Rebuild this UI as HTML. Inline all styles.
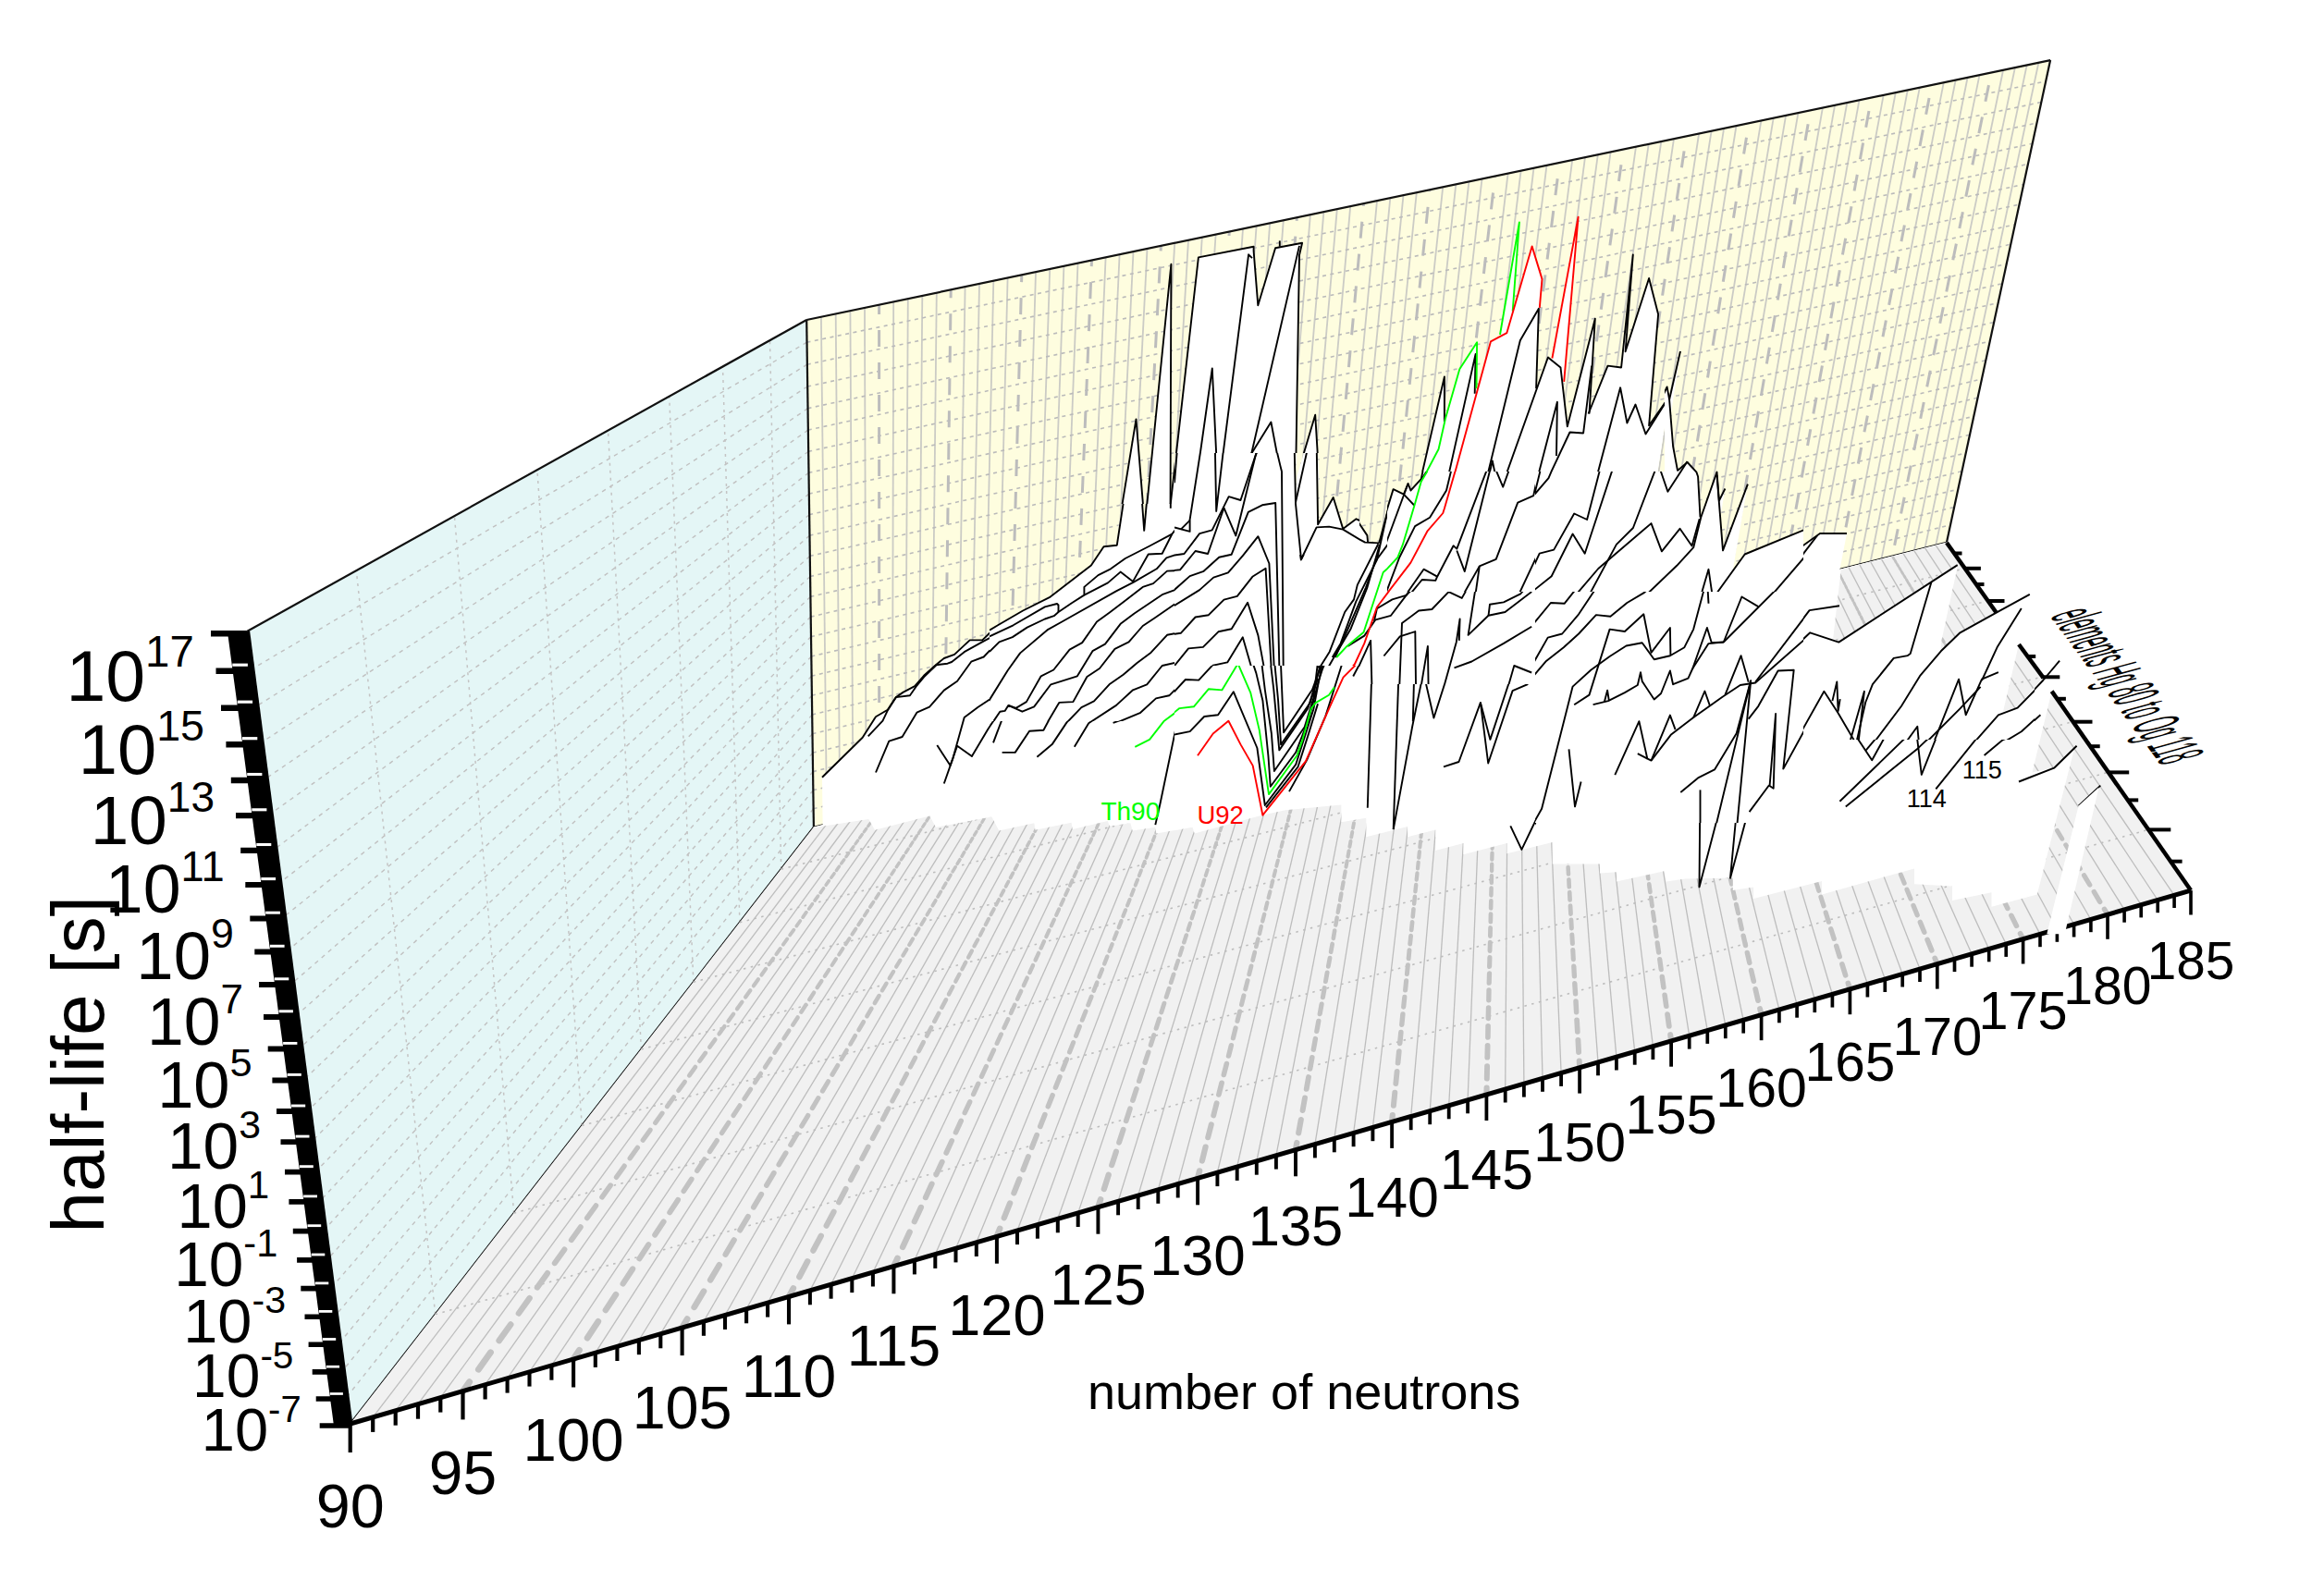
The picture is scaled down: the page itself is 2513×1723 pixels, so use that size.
<!DOCTYPE html>
<html><head><meta charset="utf-8"><style>
html,body{margin:0;padding:0;background:#fff;}
svg{display:block;font-family:"Liberation Sans",sans-serif;}
</style></head><body>
<svg width="2513" height="1723" viewBox="0 0 2513 1723">
<defs><clipPath id="c0"><rect x="880" y="540" width="190" height="470"/></clipPath><clipPath id="f0"><rect x="880" y="540" width="190" height="472"/></clipPath><clipPath id="c1"><rect x="1070" y="545" width="200" height="235"/></clipPath><clipPath id="f1"><rect x="1070" y="545" width="200" height="467"/></clipPath><clipPath id="c2"><rect x="1070" y="780" width="200" height="230"/></clipPath><clipPath id="f2"><rect x="1070" y="780" width="200" height="232"/></clipPath><clipPath id="c3"><rect x="1070" y="760" width="200" height="250"/></clipPath><clipPath id="f3"><rect x="1070" y="760" width="200" height="252"/></clipPath><clipPath id="c4"><rect x="1270" y="490" width="200" height="230"/></clipPath><clipPath id="f4"><rect x="1270" y="490" width="200" height="522"/></clipPath><clipPath id="c5"><rect x="1270" y="720" width="200" height="290"/></clipPath><clipPath id="f5"><rect x="1270" y="720" width="200" height="292"/></clipPath><clipPath id="c6"><rect x="1270" y="720" width="200" height="290"/></clipPath><clipPath id="f6"><rect x="1270" y="720" width="200" height="292"/></clipPath><clipPath id="c7"><rect x="1270" y="720" width="200" height="290"/></clipPath><clipPath id="f7"><rect x="1270" y="720" width="200" height="292"/></clipPath><clipPath id="c8"><rect x="1100" y="220" width="360" height="270"/><rect x="1100" y="490" width="170" height="55"/></clipPath><clipPath id="f8"><rect x="1100" y="220" width="360" height="792"/><rect x="1100" y="490" width="170" height="522"/></clipPath><clipPath id="c9"><rect x="1460" y="220" width="340" height="290"/></clipPath><clipPath id="f9"><rect x="1460" y="220" width="340" height="792"/></clipPath><clipPath id="c10"><rect x="1460" y="220" width="340" height="290"/></clipPath><clipPath id="f10"><rect x="1460" y="220" width="340" height="792"/></clipPath><clipPath id="c11"><rect x="1460" y="220" width="340" height="290"/></clipPath><clipPath id="f11"><rect x="1460" y="220" width="340" height="792"/></clipPath><clipPath id="c12"><rect x="1500" y="510" width="160" height="130"/></clipPath><clipPath id="f12"><rect x="1500" y="510" width="160" height="502"/></clipPath><clipPath id="c13"><rect x="1500" y="510" width="160" height="130"/></clipPath><clipPath id="f13"><rect x="1500" y="510" width="160" height="502"/></clipPath><clipPath id="c14"><rect x="1500" y="510" width="160" height="130"/></clipPath><clipPath id="f14"><rect x="1500" y="510" width="160" height="502"/></clipPath><clipPath id="c15"><rect x="1470" y="640" width="190" height="100"/><rect x="1470" y="510" width="30" height="130"/><rect x="1400" y="600" width="70" height="120"/></clipPath><clipPath id="f15"><rect x="1470" y="640" width="190" height="372"/><rect x="1470" y="510" width="30" height="502"/><rect x="1400" y="600" width="70" height="412"/></clipPath><clipPath id="c16"><rect x="1470" y="640" width="190" height="100"/><rect x="1470" y="510" width="30" height="130"/><rect x="1400" y="600" width="70" height="120"/></clipPath><clipPath id="f16"><rect x="1470" y="640" width="190" height="372"/><rect x="1470" y="510" width="30" height="502"/><rect x="1400" y="600" width="70" height="412"/></clipPath><clipPath id="c17"><rect x="1470" y="640" width="190" height="100"/><rect x="1470" y="510" width="30" height="130"/><rect x="1400" y="600" width="70" height="120"/></clipPath><clipPath id="f17"><rect x="1470" y="640" width="190" height="372"/><rect x="1470" y="510" width="30" height="502"/><rect x="1400" y="600" width="70" height="412"/></clipPath><clipPath id="c18"><rect x="1800" y="380" width="150" height="130"/><rect x="1660" y="510" width="290" height="130"/></clipPath><clipPath id="f18"><rect x="1800" y="380" width="150" height="632"/><rect x="1660" y="510" width="290" height="502"/></clipPath><clipPath id="c19"><rect x="1660" y="640" width="290" height="250"/></clipPath><clipPath id="f19"><rect x="1660" y="640" width="290" height="372"/></clipPath><clipPath id="c20"><rect x="1470" y="740" width="190" height="270"/></clipPath><clipPath id="f20"><rect x="1470" y="740" width="190" height="272"/></clipPath><clipPath id="c21"><rect x="1660" y="890" width="300" height="120"/></clipPath><clipPath id="f21"><rect x="1660" y="890" width="300" height="122"/></clipPath><clipPath id="c22"><rect x="1950" y="580" width="250" height="220"/></clipPath><clipPath id="f22"><rect x="1950" y="580" width="250" height="432"/></clipPath><clipPath id="c23"><rect x="1950" y="800" width="350" height="210"/></clipPath><clipPath id="f23"><rect x="1950" y="800" width="350" height="212"/></clipPath><clipPath id="c24"><rect x="2200" y="580" width="130" height="220"/></clipPath><clipPath id="f24"><rect x="2200" y="580" width="130" height="432"/></clipPath><clipPath id="c25"><rect x="2240" y="840" width="40" height="40"/></clipPath><clipPath id="f25"><rect x="2240" y="840" width="40" height="172"/></clipPath><clipPath id="c26"><rect x="1950" y="560" width="50" height="40"/></clipPath><clipPath id="f26"><rect x="1950" y="560" width="50" height="452"/></clipPath><clipPath id="floorvis"><polygon points="870.0,897.0 889.0,893.7 939.3,885.9 946.0,897.7 1005.3,882.5 1012.0,894.8 1072.4,883.6 1080.3,898.6 1118.3,890.3 1119.4,897.7 1158.6,889.7 1159.7,897.1 1197.7,888.1 1200.0,893.7 1222.4,890.3 1224.6,898.6 1249.2,894.8 1250.3,901.5 1289.5,894.8 1291.7,901.5 1365.6,881.4 1390.0,876.2 1450.4,870.6 1450.4,889.2 1477.3,884.7 1477.3,905.3 1522.0,894.1 1522.0,905.3 1552.2,897.5 1552.2,919.9 1582.4,912.0 1582.4,924.3 1629.4,912.0 1629.4,923.2 1678.7,910.9 1678.7,934.4 1730.0,934.4 1730.0,944.5 1748.0,943.3 1748.0,953.4 1799.5,942.2 1801.7,953.4 1822.4,950.6 1873.8,949.5 1873.8,962.9 1896.2,959.6 1896.2,971.9 1970.1,952.9 1970.1,967.4 2070.0,939.4 2070.0,956.2 2111.0,958.5 2111.0,974.1 2153.5,965.2 2153.5,980.8 2202.8,967.4 2243.2,809.1 2222.1,830.2 2197.5,835.5 2218.6,747.6 2450.0,700.0 2450.0,1650.0 300.0,1650.0 300.0,897.0"/><polygon points="2183.0,697.0 2209.2,732.6 2181.7,765.2 2166.0,769.6"/><polygon points="1990.5,615.1 2105.2,586.6 2158.4,662.2 2120.6,683.7 2098.6,703.9 2099.1,694.2 2115.8,616.9 2116.2,610.9 1988.8,695.3 1982.2,690.7 1990.5,617.8"/></clipPath></defs>
<rect width="2513" height="1723" fill="#fff"/>
<polygon points="879.9,894.7 378.7,1540.0 267.4,682.8 872.2,346.0" fill="#e4f6f6"/>
<line x1="879.6" y1="874.8" x2="374.9" y2="1511.1" stroke="#c0c0c0" stroke-width="1.4" stroke-dasharray="4.5,5"/>
<line x1="879.3" y1="854.8" x2="371.1" y2="1481.8" stroke="#c0c0c0" stroke-width="1.4" stroke-dasharray="4.5,5"/>
<line x1="879.1" y1="834.6" x2="367.3" y2="1452.2" stroke="#c0c0c0" stroke-width="1.4" stroke-dasharray="4.5,5"/>
<line x1="878.8" y1="814.2" x2="363.4" y2="1422.1" stroke="#c0c0c0" stroke-width="1.4" stroke-dasharray="4.5,5"/>
<line x1="878.5" y1="793.7" x2="359.4" y2="1391.6" stroke="#c0c0c0" stroke-width="1.4" stroke-dasharray="4.5,5"/>
<line x1="878.2" y1="773.0" x2="355.4" y2="1360.8" stroke="#c0c0c0" stroke-width="1.4" stroke-dasharray="4.5,5"/>
<line x1="877.9" y1="752.2" x2="351.3" y2="1329.5" stroke="#c0c0c0" stroke-width="1.4" stroke-dasharray="4.5,5"/>
<line x1="877.6" y1="731.2" x2="347.2" y2="1297.7" stroke="#c0c0c0" stroke-width="1.4" stroke-dasharray="4.5,5"/>
<line x1="877.3" y1="710.0" x2="343.1" y2="1265.6" stroke="#c0c0c0" stroke-width="1.4" stroke-dasharray="4.5,5"/>
<line x1="877.0" y1="688.6" x2="338.8" y2="1232.9" stroke="#c0c0c0" stroke-width="1.4" stroke-dasharray="4.5,5"/>
<line x1="876.7" y1="667.1" x2="334.5" y2="1199.9" stroke="#c0c0c0" stroke-width="1.4" stroke-dasharray="4.5,5"/>
<line x1="876.4" y1="645.4" x2="330.2" y2="1166.3" stroke="#c0c0c0" stroke-width="1.4" stroke-dasharray="4.5,5"/>
<line x1="876.1" y1="623.5" x2="325.7" y2="1132.3" stroke="#c0c0c0" stroke-width="1.4" stroke-dasharray="4.5,5"/>
<line x1="875.8" y1="601.4" x2="321.3" y2="1097.8" stroke="#c0c0c0" stroke-width="1.4" stroke-dasharray="4.5,5"/>
<line x1="875.5" y1="579.2" x2="316.7" y2="1062.8" stroke="#c0c0c0" stroke-width="1.4" stroke-dasharray="4.5,5"/>
<line x1="875.1" y1="556.7" x2="312.1" y2="1027.3" stroke="#c0c0c0" stroke-width="1.4" stroke-dasharray="4.5,5"/>
<line x1="874.8" y1="534.1" x2="307.4" y2="991.3" stroke="#c0c0c0" stroke-width="1.4" stroke-dasharray="4.5,5"/>
<line x1="874.5" y1="511.3" x2="302.7" y2="954.7" stroke="#c0c0c0" stroke-width="1.4" stroke-dasharray="4.5,5"/>
<line x1="874.2" y1="488.3" x2="297.9" y2="917.6" stroke="#c0c0c0" stroke-width="1.4" stroke-dasharray="4.5,5"/>
<line x1="873.8" y1="465.1" x2="293.0" y2="879.9" stroke="#c0c0c0" stroke-width="1.4" stroke-dasharray="4.5,5"/>
<line x1="873.5" y1="441.7" x2="288.0" y2="841.7" stroke="#c0c0c0" stroke-width="1.4" stroke-dasharray="4.5,5"/>
<line x1="873.2" y1="418.0" x2="283.0" y2="802.9" stroke="#c0c0c0" stroke-width="1.4" stroke-dasharray="4.5,5"/>
<line x1="872.8" y1="394.2" x2="277.8" y2="763.5" stroke="#c0c0c0" stroke-width="1.4" stroke-dasharray="4.5,5"/>
<line x1="872.5" y1="370.2" x2="272.7" y2="723.5" stroke="#c0c0c0" stroke-width="1.4" stroke-dasharray="4.5,5"/>
<line x1="844.7" y1="940.1" x2="832.5" y2="368.1" stroke="#c4c4c4" stroke-width="1.5" stroke-dasharray="3,5"/>
<line x1="799.9" y1="997.7" x2="781.5" y2="396.5" stroke="#c4c4c4" stroke-width="1.5" stroke-dasharray="3,5"/>
<line x1="749.8" y1="1062.2" x2="723.7" y2="428.7" stroke="#c4c4c4" stroke-width="1.5" stroke-dasharray="3,5"/>
<line x1="693.4" y1="1134.9" x2="657.5" y2="465.5" stroke="#c4c4c4" stroke-width="1.5" stroke-dasharray="3,5"/>
<line x1="629.2" y1="1217.4" x2="580.9" y2="508.2" stroke="#c4c4c4" stroke-width="1.5" stroke-dasharray="3,5"/>
<line x1="555.7" y1="1312.1" x2="491.4" y2="558.1" stroke="#c4c4c4" stroke-width="1.5" stroke-dasharray="3,5"/>
<line x1="470.7" y1="1421.6" x2="385.3" y2="617.2" stroke="#c4c4c4" stroke-width="1.5" stroke-dasharray="3,5"/>
<polygon points="879.9,894.7 2104.9,586.9 2217.1,65.1 872.2,346.0" fill="#fefddf"/>
<line x1="894.1" y1="891.1" x2="887.9" y2="342.7" stroke="#cbcbc5" stroke-width="1.8"/>
<line x1="908.3" y1="887.5" x2="903.7" y2="339.4" stroke="#cbcbc5" stroke-width="1.8"/>
<line x1="922.5" y1="884.0" x2="919.4" y2="336.1" stroke="#cbcbc5" stroke-width="1.8"/>
<line x1="936.6" y1="880.4" x2="935.0" y2="332.9" stroke="#cbcbc5" stroke-width="1.8"/>
<line x1="964.8" y1="873.4" x2="966.2" y2="326.3" stroke="#cbcbc5" stroke-width="1.8"/>
<line x1="978.8" y1="869.8" x2="981.8" y2="323.1" stroke="#cbcbc5" stroke-width="1.8"/>
<line x1="992.8" y1="866.3" x2="997.3" y2="319.9" stroke="#cbcbc5" stroke-width="1.8"/>
<line x1="1006.8" y1="862.8" x2="1012.8" y2="316.6" stroke="#cbcbc5" stroke-width="1.8"/>
<line x1="1034.7" y1="855.8" x2="1043.6" y2="310.2" stroke="#cbcbc5" stroke-width="1.8"/>
<line x1="1048.6" y1="852.3" x2="1059.0" y2="307.0" stroke="#cbcbc5" stroke-width="1.8"/>
<line x1="1062.4" y1="848.8" x2="1074.3" y2="303.8" stroke="#cbcbc5" stroke-width="1.8"/>
<line x1="1076.2" y1="845.3" x2="1089.6" y2="300.6" stroke="#cbcbc5" stroke-width="1.8"/>
<line x1="1103.8" y1="838.4" x2="1120.0" y2="294.2" stroke="#cbcbc5" stroke-width="1.8"/>
<line x1="1117.5" y1="835.0" x2="1135.2" y2="291.1" stroke="#cbcbc5" stroke-width="1.8"/>
<line x1="1131.3" y1="831.5" x2="1150.4" y2="287.9" stroke="#cbcbc5" stroke-width="1.8"/>
<line x1="1144.9" y1="828.1" x2="1165.5" y2="284.7" stroke="#cbcbc5" stroke-width="1.8"/>
<line x1="1172.2" y1="821.2" x2="1195.6" y2="278.4" stroke="#cbcbc5" stroke-width="1.8"/>
<line x1="1185.8" y1="817.8" x2="1210.6" y2="275.3" stroke="#cbcbc5" stroke-width="1.8"/>
<line x1="1199.4" y1="814.4" x2="1225.5" y2="272.2" stroke="#cbcbc5" stroke-width="1.8"/>
<line x1="1212.9" y1="811.0" x2="1240.5" y2="269.1" stroke="#cbcbc5" stroke-width="1.8"/>
<line x1="1239.9" y1="804.2" x2="1270.2" y2="262.9" stroke="#cbcbc5" stroke-width="1.8"/>
<line x1="1253.3" y1="800.8" x2="1285.0" y2="259.8" stroke="#cbcbc5" stroke-width="1.8"/>
<line x1="1266.7" y1="797.5" x2="1299.8" y2="256.7" stroke="#cbcbc5" stroke-width="1.8"/>
<line x1="1280.1" y1="794.1" x2="1314.6" y2="253.6" stroke="#cbcbc5" stroke-width="1.8"/>
<line x1="1306.8" y1="787.4" x2="1344.0" y2="247.5" stroke="#cbcbc5" stroke-width="1.8"/>
<line x1="1320.1" y1="784.1" x2="1358.6" y2="244.4" stroke="#cbcbc5" stroke-width="1.8"/>
<line x1="1333.4" y1="780.7" x2="1373.2" y2="241.3" stroke="#cbcbc5" stroke-width="1.8"/>
<line x1="1346.6" y1="777.4" x2="1387.8" y2="238.3" stroke="#cbcbc5" stroke-width="1.8"/>
<line x1="1373.0" y1="770.8" x2="1416.9" y2="232.2" stroke="#cbcbc5" stroke-width="1.8"/>
<line x1="1386.2" y1="767.5" x2="1431.4" y2="229.2" stroke="#cbcbc5" stroke-width="1.8"/>
<line x1="1399.3" y1="764.2" x2="1445.8" y2="226.2" stroke="#cbcbc5" stroke-width="1.8"/>
<line x1="1412.4" y1="760.9" x2="1460.2" y2="223.2" stroke="#cbcbc5" stroke-width="1.8"/>
<line x1="1438.6" y1="754.3" x2="1489.0" y2="217.2" stroke="#cbcbc5" stroke-width="1.8"/>
<line x1="1451.6" y1="751.0" x2="1503.3" y2="214.2" stroke="#cbcbc5" stroke-width="1.8"/>
<line x1="1464.6" y1="747.8" x2="1517.5" y2="211.2" stroke="#cbcbc5" stroke-width="1.8"/>
<line x1="1477.6" y1="744.5" x2="1531.8" y2="208.2" stroke="#cbcbc5" stroke-width="1.8"/>
<line x1="1503.4" y1="738.0" x2="1560.2" y2="202.3" stroke="#cbcbc5" stroke-width="1.8"/>
<line x1="1516.3" y1="734.8" x2="1574.3" y2="199.3" stroke="#cbcbc5" stroke-width="1.8"/>
<line x1="1529.2" y1="731.5" x2="1588.4" y2="196.4" stroke="#cbcbc5" stroke-width="1.8"/>
<line x1="1542.0" y1="728.3" x2="1602.5" y2="193.5" stroke="#cbcbc5" stroke-width="1.8"/>
<line x1="1567.6" y1="721.9" x2="1630.6" y2="187.6" stroke="#cbcbc5" stroke-width="1.8"/>
<line x1="1580.4" y1="718.7" x2="1644.6" y2="184.7" stroke="#cbcbc5" stroke-width="1.8"/>
<line x1="1593.1" y1="715.5" x2="1658.5" y2="181.8" stroke="#cbcbc5" stroke-width="1.8"/>
<line x1="1605.8" y1="712.3" x2="1672.5" y2="178.8" stroke="#cbcbc5" stroke-width="1.8"/>
<line x1="1631.1" y1="705.9" x2="1700.2" y2="173.0" stroke="#cbcbc5" stroke-width="1.8"/>
<line x1="1643.8" y1="702.7" x2="1714.0" y2="170.2" stroke="#cbcbc5" stroke-width="1.8"/>
<line x1="1656.4" y1="699.6" x2="1727.8" y2="167.3" stroke="#cbcbc5" stroke-width="1.8"/>
<line x1="1668.9" y1="696.4" x2="1741.6" y2="164.4" stroke="#cbcbc5" stroke-width="1.8"/>
<line x1="1694.0" y1="690.1" x2="1769.0" y2="158.7" stroke="#cbcbc5" stroke-width="1.8"/>
<line x1="1706.5" y1="687.0" x2="1782.7" y2="155.8" stroke="#cbcbc5" stroke-width="1.8"/>
<line x1="1719.0" y1="683.8" x2="1796.3" y2="153.0" stroke="#cbcbc5" stroke-width="1.8"/>
<line x1="1731.4" y1="680.7" x2="1810.0" y2="150.1" stroke="#cbcbc5" stroke-width="1.8"/>
<line x1="1756.2" y1="674.5" x2="1837.1" y2="144.5" stroke="#cbcbc5" stroke-width="1.8"/>
<line x1="1768.6" y1="671.4" x2="1850.6" y2="141.6" stroke="#cbcbc5" stroke-width="1.8"/>
<line x1="1780.9" y1="668.3" x2="1864.1" y2="138.8" stroke="#cbcbc5" stroke-width="1.8"/>
<line x1="1793.2" y1="665.2" x2="1877.5" y2="136.0" stroke="#cbcbc5" stroke-width="1.8"/>
<line x1="1817.8" y1="659.0" x2="1904.4" y2="130.4" stroke="#cbcbc5" stroke-width="1.8"/>
<line x1="1830.0" y1="655.9" x2="1917.7" y2="127.6" stroke="#cbcbc5" stroke-width="1.8"/>
<line x1="1842.3" y1="652.8" x2="1931.1" y2="124.8" stroke="#cbcbc5" stroke-width="1.8"/>
<line x1="1854.5" y1="649.8" x2="1944.4" y2="122.1" stroke="#cbcbc5" stroke-width="1.8"/>
<line x1="1878.8" y1="643.7" x2="1970.9" y2="116.5" stroke="#cbcbc5" stroke-width="1.8"/>
<line x1="1890.9" y1="640.6" x2="1984.1" y2="113.7" stroke="#cbcbc5" stroke-width="1.8"/>
<line x1="1903.0" y1="637.6" x2="1997.3" y2="111.0" stroke="#cbcbc5" stroke-width="1.8"/>
<line x1="1915.0" y1="634.6" x2="2010.5" y2="108.2" stroke="#cbcbc5" stroke-width="1.8"/>
<line x1="1939.1" y1="628.5" x2="2036.7" y2="102.8" stroke="#cbcbc5" stroke-width="1.8"/>
<line x1="1951.1" y1="625.5" x2="2049.8" y2="100.0" stroke="#cbcbc5" stroke-width="1.8"/>
<line x1="1963.1" y1="622.5" x2="2062.8" y2="97.3" stroke="#cbcbc5" stroke-width="1.8"/>
<line x1="1975.0" y1="619.5" x2="2075.8" y2="94.6" stroke="#cbcbc5" stroke-width="1.8"/>
<line x1="1998.9" y1="613.5" x2="2101.8" y2="89.2" stroke="#cbcbc5" stroke-width="1.8"/>
<line x1="2010.7" y1="610.5" x2="2114.7" y2="86.5" stroke="#cbcbc5" stroke-width="1.8"/>
<line x1="2022.6" y1="607.5" x2="2127.6" y2="83.8" stroke="#cbcbc5" stroke-width="1.8"/>
<line x1="2034.4" y1="604.6" x2="2140.5" y2="81.1" stroke="#cbcbc5" stroke-width="1.8"/>
<line x1="2058.0" y1="598.6" x2="2166.1" y2="75.7" stroke="#cbcbc5" stroke-width="1.8"/>
<line x1="2069.8" y1="595.7" x2="2178.9" y2="73.1" stroke="#cbcbc5" stroke-width="1.8"/>
<line x1="2081.5" y1="592.7" x2="2191.7" y2="70.4" stroke="#cbcbc5" stroke-width="1.8"/>
<line x1="2093.2" y1="589.8" x2="2204.4" y2="67.7" stroke="#cbcbc5" stroke-width="1.8"/>
<line x1="879.6" y1="874.8" x2="2109.0" y2="567.8" stroke="#bababa" stroke-width="1.6" stroke-dasharray="4,4.5"/>
<line x1="879.3" y1="854.8" x2="2113.1" y2="548.5" stroke="#bababa" stroke-width="1.6" stroke-dasharray="4,4.5"/>
<line x1="879.1" y1="834.6" x2="2117.3" y2="529.2" stroke="#bababa" stroke-width="1.6" stroke-dasharray="4,4.5"/>
<line x1="878.8" y1="814.2" x2="2121.5" y2="509.7" stroke="#bababa" stroke-width="1.6" stroke-dasharray="4,4.5"/>
<line x1="878.5" y1="793.7" x2="2125.7" y2="490.0" stroke="#bababa" stroke-width="1.6" stroke-dasharray="4,4.5"/>
<line x1="878.2" y1="773.0" x2="2130.0" y2="470.2" stroke="#bababa" stroke-width="1.6" stroke-dasharray="4,4.5"/>
<line x1="877.9" y1="752.2" x2="2134.3" y2="450.3" stroke="#bababa" stroke-width="1.6" stroke-dasharray="4,4.5"/>
<line x1="877.6" y1="731.2" x2="2138.6" y2="430.2" stroke="#bababa" stroke-width="1.6" stroke-dasharray="4,4.5"/>
<line x1="877.3" y1="710.0" x2="2142.9" y2="410.0" stroke="#bababa" stroke-width="1.6" stroke-dasharray="4,4.5"/>
<line x1="877.0" y1="688.6" x2="2147.3" y2="389.7" stroke="#bababa" stroke-width="1.6" stroke-dasharray="4,4.5"/>
<line x1="876.7" y1="667.1" x2="2151.7" y2="369.1" stroke="#bababa" stroke-width="1.6" stroke-dasharray="4,4.5"/>
<line x1="876.4" y1="645.4" x2="2156.2" y2="348.5" stroke="#bababa" stroke-width="1.6" stroke-dasharray="4,4.5"/>
<line x1="876.1" y1="623.5" x2="2160.6" y2="327.6" stroke="#bababa" stroke-width="1.6" stroke-dasharray="4,4.5"/>
<line x1="875.8" y1="601.4" x2="2165.2" y2="306.7" stroke="#bababa" stroke-width="1.6" stroke-dasharray="4,4.5"/>
<line x1="875.5" y1="579.2" x2="2169.7" y2="285.5" stroke="#bababa" stroke-width="1.6" stroke-dasharray="4,4.5"/>
<line x1="875.1" y1="556.7" x2="2174.3" y2="264.2" stroke="#bababa" stroke-width="1.6" stroke-dasharray="4,4.5"/>
<line x1="874.8" y1="534.1" x2="2178.9" y2="242.8" stroke="#bababa" stroke-width="1.6" stroke-dasharray="4,4.5"/>
<line x1="874.5" y1="511.3" x2="2183.6" y2="221.1" stroke="#bababa" stroke-width="1.6" stroke-dasharray="4,4.5"/>
<line x1="874.2" y1="488.3" x2="2188.2" y2="199.4" stroke="#bababa" stroke-width="1.6" stroke-dasharray="4,4.5"/>
<line x1="873.8" y1="465.1" x2="2193.0" y2="177.4" stroke="#bababa" stroke-width="1.6" stroke-dasharray="4,4.5"/>
<line x1="873.5" y1="441.7" x2="2197.7" y2="155.3" stroke="#bababa" stroke-width="1.6" stroke-dasharray="4,4.5"/>
<line x1="873.2" y1="418.0" x2="2202.5" y2="133.0" stroke="#bababa" stroke-width="1.6" stroke-dasharray="4,4.5"/>
<line x1="872.8" y1="394.2" x2="2207.3" y2="110.5" stroke="#bababa" stroke-width="1.6" stroke-dasharray="4,4.5"/>
<line x1="872.5" y1="370.2" x2="2212.2" y2="87.9" stroke="#bababa" stroke-width="1.6" stroke-dasharray="4,4.5"/>
<line x1="950.7" y1="876.9" x2="950.6" y2="329.6" stroke="#bcbcbc" stroke-width="3" stroke-dasharray="18,17" stroke-dashoffset="23"/>
<line x1="1020.8" y1="859.3" x2="1028.2" y2="313.4" stroke="#bcbcbc" stroke-width="3" stroke-dasharray="18,17" stroke-dashoffset="23"/>
<line x1="1090.0" y1="841.9" x2="1104.8" y2="297.4" stroke="#bcbcbc" stroke-width="3" stroke-dasharray="18,17" stroke-dashoffset="23"/>
<line x1="1158.6" y1="824.7" x2="1180.5" y2="281.6" stroke="#bcbcbc" stroke-width="3" stroke-dasharray="18,17" stroke-dashoffset="23"/>
<line x1="1226.4" y1="807.6" x2="1255.4" y2="266.0" stroke="#bcbcbc" stroke-width="3" stroke-dasharray="18,17" stroke-dashoffset="23"/>
<line x1="1293.5" y1="790.8" x2="1329.3" y2="250.5" stroke="#bcbcbc" stroke-width="3" stroke-dasharray="18,17" stroke-dashoffset="23"/>
<line x1="1359.8" y1="774.1" x2="1402.4" y2="235.3" stroke="#bcbcbc" stroke-width="3" stroke-dasharray="18,17" stroke-dashoffset="23"/>
<line x1="1425.5" y1="757.6" x2="1474.6" y2="220.2" stroke="#bcbcbc" stroke-width="3" stroke-dasharray="18,17" stroke-dashoffset="23"/>
<line x1="1490.5" y1="741.2" x2="1546.0" y2="205.3" stroke="#bcbcbc" stroke-width="3" stroke-dasharray="18,17" stroke-dashoffset="23"/>
<line x1="1554.8" y1="725.1" x2="1616.6" y2="190.5" stroke="#bcbcbc" stroke-width="3" stroke-dasharray="18,17" stroke-dashoffset="23"/>
<line x1="1618.5" y1="709.1" x2="1686.4" y2="175.9" stroke="#bcbcbc" stroke-width="3" stroke-dasharray="18,17" stroke-dashoffset="23"/>
<line x1="1681.5" y1="693.3" x2="1755.3" y2="161.5" stroke="#bcbcbc" stroke-width="3" stroke-dasharray="18,17" stroke-dashoffset="23"/>
<line x1="1743.8" y1="677.6" x2="1823.5" y2="147.3" stroke="#bcbcbc" stroke-width="3" stroke-dasharray="18,17" stroke-dashoffset="23"/>
<line x1="1805.5" y1="662.1" x2="1891.0" y2="133.2" stroke="#bcbcbc" stroke-width="3" stroke-dasharray="18,17" stroke-dashoffset="23"/>
<line x1="1866.6" y1="646.7" x2="1957.7" y2="119.3" stroke="#bcbcbc" stroke-width="3" stroke-dasharray="18,17" stroke-dashoffset="23"/>
<line x1="1927.1" y1="631.5" x2="2023.6" y2="105.5" stroke="#bcbcbc" stroke-width="3" stroke-dasharray="18,17" stroke-dashoffset="23"/>
<line x1="1987.0" y1="616.5" x2="2088.8" y2="91.9" stroke="#bcbcbc" stroke-width="3" stroke-dasharray="18,17" stroke-dashoffset="23"/>
<line x1="2046.2" y1="601.6" x2="2153.3" y2="78.4" stroke="#bcbcbc" stroke-width="3" stroke-dasharray="18,17" stroke-dashoffset="23"/>
<line x1="267.4" y1="682.8" x2="872.2" y2="346.0" stroke="#111" stroke-width="2.2"/>
<line x1="872.2" y1="346.0" x2="2217.1" y2="65.1" stroke="#111" stroke-width="2.2"/>
<line x1="2217.1" y1="65.1" x2="2104.9" y2="586.9" stroke="#111" stroke-width="2.2"/>
<line x1="879.9" y1="894.7" x2="872.2" y2="346.0" stroke="#111" stroke-width="2.2"/>
<line x1="378.7" y1="1540.0" x2="879.9" y2="894.7" stroke="#111" stroke-width="2.2"/>
<line x1="879.9" y1="894.7" x2="2104.9" y2="586.9" stroke="#111" stroke-width="2.2"/>
<g id="floorg"><polygon points="879.9,894.7 2104.9,586.9 2369.0,963.1 378.7,1540.0" fill="#f1f1f1"/>
<line x1="894.1" y1="891.1" x2="403.2" y2="1532.9" stroke="#bdbdbd" stroke-width="1.3"/>
<line x1="908.3" y1="887.5" x2="427.7" y2="1525.8" stroke="#bdbdbd" stroke-width="1.3"/>
<line x1="922.5" y1="884.0" x2="452.0" y2="1518.7" stroke="#bdbdbd" stroke-width="1.3"/>
<line x1="936.6" y1="880.4" x2="476.3" y2="1511.7" stroke="#bdbdbd" stroke-width="1.3"/>
<line x1="964.8" y1="873.4" x2="524.6" y2="1497.7" stroke="#bdbdbd" stroke-width="1.3"/>
<line x1="978.8" y1="869.8" x2="548.6" y2="1490.8" stroke="#bdbdbd" stroke-width="1.3"/>
<line x1="992.8" y1="866.3" x2="572.5" y2="1483.8" stroke="#bdbdbd" stroke-width="1.3"/>
<line x1="1006.8" y1="862.8" x2="596.4" y2="1476.9" stroke="#bdbdbd" stroke-width="1.3"/>
<line x1="1034.7" y1="855.8" x2="643.8" y2="1463.2" stroke="#bdbdbd" stroke-width="1.3"/>
<line x1="1048.6" y1="852.3" x2="667.4" y2="1456.3" stroke="#bdbdbd" stroke-width="1.3"/>
<line x1="1062.4" y1="848.8" x2="690.9" y2="1449.5" stroke="#bdbdbd" stroke-width="1.3"/>
<line x1="1076.2" y1="845.3" x2="714.3" y2="1442.7" stroke="#bdbdbd" stroke-width="1.3"/>
<line x1="1103.8" y1="838.4" x2="760.9" y2="1429.2" stroke="#bdbdbd" stroke-width="1.3"/>
<line x1="1117.5" y1="835.0" x2="784.0" y2="1422.5" stroke="#bdbdbd" stroke-width="1.3"/>
<line x1="1131.3" y1="831.5" x2="807.1" y2="1415.8" stroke="#bdbdbd" stroke-width="1.3"/>
<line x1="1144.9" y1="828.1" x2="830.1" y2="1409.2" stroke="#bdbdbd" stroke-width="1.3"/>
<line x1="1172.2" y1="821.2" x2="875.9" y2="1395.9" stroke="#bdbdbd" stroke-width="1.3"/>
<line x1="1185.8" y1="817.8" x2="898.6" y2="1389.3" stroke="#bdbdbd" stroke-width="1.3"/>
<line x1="1199.4" y1="814.4" x2="921.3" y2="1382.7" stroke="#bdbdbd" stroke-width="1.3"/>
<line x1="1212.9" y1="811.0" x2="943.9" y2="1376.2" stroke="#bdbdbd" stroke-width="1.3"/>
<line x1="1239.9" y1="804.2" x2="988.9" y2="1363.1" stroke="#bdbdbd" stroke-width="1.3"/>
<line x1="1253.3" y1="800.8" x2="1011.3" y2="1356.7" stroke="#bdbdbd" stroke-width="1.3"/>
<line x1="1266.7" y1="797.5" x2="1033.5" y2="1350.2" stroke="#bdbdbd" stroke-width="1.3"/>
<line x1="1280.1" y1="794.1" x2="1055.8" y2="1343.8" stroke="#bdbdbd" stroke-width="1.3"/>
<line x1="1306.8" y1="787.4" x2="1100.0" y2="1330.9" stroke="#bdbdbd" stroke-width="1.3"/>
<line x1="1320.1" y1="784.1" x2="1121.9" y2="1324.6" stroke="#bdbdbd" stroke-width="1.3"/>
<line x1="1333.4" y1="780.7" x2="1143.8" y2="1318.2" stroke="#bdbdbd" stroke-width="1.3"/>
<line x1="1346.6" y1="777.4" x2="1165.7" y2="1311.9" stroke="#bdbdbd" stroke-width="1.3"/>
<line x1="1373.0" y1="770.8" x2="1209.1" y2="1299.3" stroke="#bdbdbd" stroke-width="1.3"/>
<line x1="1386.2" y1="767.5" x2="1230.7" y2="1293.0" stroke="#bdbdbd" stroke-width="1.3"/>
<line x1="1399.3" y1="764.2" x2="1252.3" y2="1286.8" stroke="#bdbdbd" stroke-width="1.3"/>
<line x1="1412.4" y1="760.9" x2="1273.7" y2="1280.6" stroke="#bdbdbd" stroke-width="1.3"/>
<line x1="1438.6" y1="754.3" x2="1316.4" y2="1268.2" stroke="#bdbdbd" stroke-width="1.3"/>
<line x1="1451.6" y1="751.0" x2="1337.7" y2="1262.0" stroke="#bdbdbd" stroke-width="1.3"/>
<line x1="1464.6" y1="747.8" x2="1358.8" y2="1255.9" stroke="#bdbdbd" stroke-width="1.3"/>
<line x1="1477.6" y1="744.5" x2="1379.9" y2="1249.8" stroke="#bdbdbd" stroke-width="1.3"/>
<line x1="1503.4" y1="738.0" x2="1421.9" y2="1237.6" stroke="#bdbdbd" stroke-width="1.3"/>
<line x1="1516.3" y1="734.8" x2="1442.8" y2="1231.6" stroke="#bdbdbd" stroke-width="1.3"/>
<line x1="1529.2" y1="731.5" x2="1463.6" y2="1225.5" stroke="#bdbdbd" stroke-width="1.3"/>
<line x1="1542.0" y1="728.3" x2="1484.4" y2="1219.5" stroke="#bdbdbd" stroke-width="1.3"/>
<line x1="1567.6" y1="721.9" x2="1525.7" y2="1207.6" stroke="#bdbdbd" stroke-width="1.3"/>
<line x1="1580.4" y1="718.7" x2="1546.2" y2="1201.6" stroke="#bdbdbd" stroke-width="1.3"/>
<line x1="1593.1" y1="715.5" x2="1566.7" y2="1195.7" stroke="#bdbdbd" stroke-width="1.3"/>
<line x1="1605.8" y1="712.3" x2="1587.1" y2="1189.8" stroke="#bdbdbd" stroke-width="1.3"/>
<line x1="1631.1" y1="705.9" x2="1627.7" y2="1178.0" stroke="#bdbdbd" stroke-width="1.3"/>
<line x1="1643.8" y1="702.7" x2="1647.9" y2="1172.1" stroke="#bdbdbd" stroke-width="1.3"/>
<line x1="1656.4" y1="699.6" x2="1668.0" y2="1166.3" stroke="#bdbdbd" stroke-width="1.3"/>
<line x1="1668.9" y1="696.4" x2="1688.1" y2="1160.5" stroke="#bdbdbd" stroke-width="1.3"/>
<line x1="1694.0" y1="690.1" x2="1728.0" y2="1148.9" stroke="#bdbdbd" stroke-width="1.3"/>
<line x1="1706.5" y1="687.0" x2="1747.9" y2="1143.1" stroke="#bdbdbd" stroke-width="1.3"/>
<line x1="1719.0" y1="683.8" x2="1767.7" y2="1137.4" stroke="#bdbdbd" stroke-width="1.3"/>
<line x1="1731.4" y1="680.7" x2="1787.4" y2="1131.7" stroke="#bdbdbd" stroke-width="1.3"/>
<line x1="1756.2" y1="674.5" x2="1826.7" y2="1120.3" stroke="#bdbdbd" stroke-width="1.3"/>
<line x1="1768.6" y1="671.4" x2="1846.3" y2="1114.6" stroke="#bdbdbd" stroke-width="1.3"/>
<line x1="1780.9" y1="668.3" x2="1865.8" y2="1109.0" stroke="#bdbdbd" stroke-width="1.3"/>
<line x1="1793.2" y1="665.2" x2="1885.2" y2="1103.3" stroke="#bdbdbd" stroke-width="1.3"/>
<line x1="1817.8" y1="659.0" x2="1923.9" y2="1092.1" stroke="#bdbdbd" stroke-width="1.3"/>
<line x1="1830.0" y1="655.9" x2="1943.1" y2="1086.6" stroke="#bdbdbd" stroke-width="1.3"/>
<line x1="1842.3" y1="652.8" x2="1962.3" y2="1081.0" stroke="#bdbdbd" stroke-width="1.3"/>
<line x1="1854.5" y1="649.8" x2="1981.4" y2="1075.5" stroke="#bdbdbd" stroke-width="1.3"/>
<line x1="1878.8" y1="643.7" x2="2019.4" y2="1064.4" stroke="#bdbdbd" stroke-width="1.3"/>
<line x1="1890.9" y1="640.6" x2="2038.3" y2="1059.0" stroke="#bdbdbd" stroke-width="1.3"/>
<line x1="1903.0" y1="637.6" x2="2057.2" y2="1053.5" stroke="#bdbdbd" stroke-width="1.3"/>
<line x1="1915.0" y1="634.6" x2="2076.0" y2="1048.0" stroke="#bdbdbd" stroke-width="1.3"/>
<line x1="1939.1" y1="628.5" x2="2113.5" y2="1037.2" stroke="#bdbdbd" stroke-width="1.3"/>
<line x1="1951.1" y1="625.5" x2="2132.1" y2="1031.8" stroke="#bdbdbd" stroke-width="1.3"/>
<line x1="1963.1" y1="622.5" x2="2150.7" y2="1026.4" stroke="#bdbdbd" stroke-width="1.3"/>
<line x1="1975.0" y1="619.5" x2="2169.2" y2="1021.0" stroke="#bdbdbd" stroke-width="1.3"/>
<line x1="1998.9" y1="613.5" x2="2206.0" y2="1010.4" stroke="#bdbdbd" stroke-width="1.3"/>
<line x1="2010.7" y1="610.5" x2="2224.4" y2="1005.0" stroke="#bdbdbd" stroke-width="1.3"/>
<line x1="2022.6" y1="607.5" x2="2242.6" y2="999.7" stroke="#bdbdbd" stroke-width="1.3"/>
<line x1="2034.4" y1="604.6" x2="2260.9" y2="994.5" stroke="#bdbdbd" stroke-width="1.3"/>
<line x1="2058.0" y1="598.6" x2="2297.1" y2="983.9" stroke="#bdbdbd" stroke-width="1.3"/>
<line x1="2069.8" y1="595.7" x2="2315.2" y2="978.7" stroke="#bdbdbd" stroke-width="1.3"/>
<line x1="2081.5" y1="592.7" x2="2333.2" y2="973.5" stroke="#bdbdbd" stroke-width="1.3"/>
<line x1="2093.2" y1="589.8" x2="2351.1" y2="968.3" stroke="#bdbdbd" stroke-width="1.3"/>
<line x1="844.7" y1="940.1" x2="2124.5" y2="614.8" stroke="#bdbdbd" stroke-width="1.6" stroke-dasharray="2.5,5.5"/>
<line x1="799.9" y1="997.7" x2="2149.2" y2="650.0" stroke="#bdbdbd" stroke-width="1.6" stroke-dasharray="2.5,5.5"/>
<line x1="749.8" y1="1062.2" x2="2176.6" y2="688.9" stroke="#bdbdbd" stroke-width="1.6" stroke-dasharray="2.5,5.5"/>
<line x1="693.4" y1="1134.9" x2="2207.0" y2="732.3" stroke="#bdbdbd" stroke-width="1.6" stroke-dasharray="2.5,5.5"/>
<line x1="629.2" y1="1217.4" x2="2241.0" y2="780.7" stroke="#bdbdbd" stroke-width="1.6" stroke-dasharray="2.5,5.5"/>
<line x1="555.7" y1="1312.1" x2="2279.3" y2="835.4" stroke="#bdbdbd" stroke-width="1.6" stroke-dasharray="2.5,5.5"/>
<line x1="470.7" y1="1421.6" x2="2322.9" y2="897.4" stroke="#bdbdbd" stroke-width="1.6" stroke-dasharray="2.5,5.5"/>
<line x1="949.6" y1="878.4" x2="947.2" y2="881.7" stroke="#c2c2c2" stroke-width="3.2" stroke-linecap="round"/>
<line x1="945.5" y1="884.2" x2="943.0" y2="887.6" stroke="#c2c2c2" stroke-width="3.2" stroke-linecap="round"/>
<line x1="941.2" y1="890.1" x2="938.7" y2="893.6" stroke="#c2c2c2" stroke-width="3.2" stroke-linecap="round"/>
<line x1="936.8" y1="896.2" x2="934.2" y2="899.9" stroke="#c2c2c2" stroke-width="3.3" stroke-linecap="round"/>
<line x1="932.3" y1="902.5" x2="929.6" y2="906.3" stroke="#c2c2c2" stroke-width="3.3" stroke-linecap="round"/>
<line x1="927.7" y1="909.0" x2="924.9" y2="912.9" stroke="#c2c2c2" stroke-width="3.3" stroke-linecap="round"/>
<line x1="922.9" y1="915.7" x2="920.0" y2="919.7" stroke="#c2c2c2" stroke-width="3.4" stroke-linecap="round"/>
<line x1="917.9" y1="922.6" x2="914.9" y2="926.8" stroke="#c2c2c2" stroke-width="3.4" stroke-linecap="round"/>
<line x1="912.8" y1="929.8" x2="909.7" y2="934.0" stroke="#c2c2c2" stroke-width="3.5" stroke-linecap="round"/>
<line x1="907.5" y1="937.1" x2="904.4" y2="941.5" stroke="#c2c2c2" stroke-width="3.5" stroke-linecap="round"/>
<line x1="902.1" y1="944.7" x2="898.8" y2="949.3" stroke="#c2c2c2" stroke-width="3.5" stroke-linecap="round"/>
<line x1="896.4" y1="952.6" x2="893.1" y2="957.3" stroke="#c2c2c2" stroke-width="3.6" stroke-linecap="round"/>
<line x1="890.6" y1="960.7" x2="887.1" y2="965.6" stroke="#c2c2c2" stroke-width="3.6" stroke-linecap="round"/>
<line x1="884.6" y1="969.1" x2="881.0" y2="974.1" stroke="#c2c2c2" stroke-width="3.7" stroke-linecap="round"/>
<line x1="878.4" y1="977.8" x2="874.7" y2="983.0" stroke="#c2c2c2" stroke-width="3.7" stroke-linecap="round"/>
<line x1="871.9" y1="986.7" x2="868.1" y2="992.1" stroke="#c2c2c2" stroke-width="3.8" stroke-linecap="round"/>
<line x1="865.3" y1="996.0" x2="861.3" y2="1001.6" stroke="#c2c2c2" stroke-width="3.8" stroke-linecap="round"/>
<line x1="858.4" y1="1005.7" x2="854.2" y2="1011.4" stroke="#c2c2c2" stroke-width="3.9" stroke-linecap="round"/>
<line x1="851.2" y1="1015.6" x2="846.9" y2="1021.6" stroke="#c2c2c2" stroke-width="3.9" stroke-linecap="round"/>
<line x1="843.8" y1="1026.0" x2="839.4" y2="1032.1" stroke="#c2c2c2" stroke-width="4.0" stroke-linecap="round"/>
<line x1="836.1" y1="1036.7" x2="831.5" y2="1043.1" stroke="#c2c2c2" stroke-width="4.1" stroke-linecap="round"/>
<line x1="828.2" y1="1047.8" x2="823.4" y2="1054.5" stroke="#c2c2c2" stroke-width="4.1" stroke-linecap="round"/>
<line x1="819.9" y1="1059.3" x2="814.9" y2="1066.2" stroke="#c2c2c2" stroke-width="4.2" stroke-linecap="round"/>
<line x1="811.3" y1="1071.3" x2="806.1" y2="1078.5" stroke="#c2c2c2" stroke-width="4.3" stroke-linecap="round"/>
<line x1="802.4" y1="1083.8" x2="797.0" y2="1091.3" stroke="#c2c2c2" stroke-width="4.3" stroke-linecap="round"/>
<line x1="793.1" y1="1096.7" x2="787.5" y2="1104.5" stroke="#c2c2c2" stroke-width="4.4" stroke-linecap="round"/>
<line x1="783.4" y1="1110.2" x2="777.6" y2="1118.3" stroke="#c2c2c2" stroke-width="4.5" stroke-linecap="round"/>
<line x1="773.3" y1="1124.3" x2="767.3" y2="1132.7" stroke="#c2c2c2" stroke-width="4.6" stroke-linecap="round"/>
<line x1="762.8" y1="1138.9" x2="756.5" y2="1147.7" stroke="#c2c2c2" stroke-width="4.7" stroke-linecap="round"/>
<line x1="751.9" y1="1154.1" x2="745.3" y2="1163.3" stroke="#c2c2c2" stroke-width="4.8" stroke-linecap="round"/>
<line x1="740.5" y1="1170.1" x2="733.6" y2="1179.6" stroke="#c2c2c2" stroke-width="4.9" stroke-linecap="round"/>
<line x1="728.6" y1="1186.7" x2="721.4" y2="1196.7" stroke="#c2c2c2" stroke-width="5.0" stroke-linecap="round"/>
<line x1="716.1" y1="1204.1" x2="708.6" y2="1214.5" stroke="#c2c2c2" stroke-width="5.1" stroke-linecap="round"/>
<line x1="703.1" y1="1222.2" x2="695.2" y2="1233.2" stroke="#c2c2c2" stroke-width="5.2" stroke-linecap="round"/>
<line x1="689.4" y1="1241.3" x2="681.2" y2="1252.8" stroke="#c2c2c2" stroke-width="5.3" stroke-linecap="round"/>
<line x1="675.1" y1="1261.2" x2="666.5" y2="1273.3" stroke="#c2c2c2" stroke-width="5.4" stroke-linecap="round"/>
<line x1="660.1" y1="1282.1" x2="651.0" y2="1294.8" stroke="#c2c2c2" stroke-width="5.6" stroke-linecap="round"/>
<line x1="644.4" y1="1304.1" x2="634.8" y2="1317.4" stroke="#c2c2c2" stroke-width="5.7" stroke-linecap="round"/>
<line x1="627.8" y1="1327.2" x2="617.8" y2="1341.2" stroke="#c2c2c2" stroke-width="5.9" stroke-linecap="round"/>
<line x1="610.4" y1="1351.5" x2="599.8" y2="1366.2" stroke="#c2c2c2" stroke-width="6.0" stroke-linecap="round"/>
<line x1="592.0" y1="1377.1" x2="580.9" y2="1392.6" stroke="#c2c2c2" stroke-width="6.2" stroke-linecap="round"/>
<line x1="572.6" y1="1404.1" x2="560.9" y2="1420.5" stroke="#c2c2c2" stroke-width="6.4" stroke-linecap="round"/>
<line x1="552.2" y1="1432.6" x2="539.7" y2="1450.0" stroke="#c2c2c2" stroke-width="6.6" stroke-linecap="round"/>
<line x1="530.5" y1="1462.8" x2="517.4" y2="1481.2" stroke="#c2c2c2" stroke-width="6.8" stroke-linecap="round"/>
<line x1="507.6" y1="1494.8" x2="500.5" y2="1504.7" stroke="#c2c2c2" stroke-width="7.0" stroke-linecap="round"/>
<line x1="1019.8" y1="860.8" x2="1017.6" y2="864.0" stroke="#c2c2c2" stroke-width="3.1" stroke-linecap="round"/>
<line x1="1016.1" y1="866.4" x2="1013.9" y2="869.8" stroke="#c2c2c2" stroke-width="3.2" stroke-linecap="round"/>
<line x1="1012.3" y1="872.2" x2="1010.0" y2="875.6" stroke="#c2c2c2" stroke-width="3.2" stroke-linecap="round"/>
<line x1="1008.4" y1="878.2" x2="1006.0" y2="881.7" stroke="#c2c2c2" stroke-width="3.2" stroke-linecap="round"/>
<line x1="1004.3" y1="884.3" x2="1001.9" y2="888.0" stroke="#c2c2c2" stroke-width="3.3" stroke-linecap="round"/>
<line x1="1000.2" y1="890.7" x2="997.7" y2="894.4" stroke="#c2c2c2" stroke-width="3.3" stroke-linecap="round"/>
<line x1="995.9" y1="897.2" x2="993.3" y2="901.1" stroke="#c2c2c2" stroke-width="3.3" stroke-linecap="round"/>
<line x1="991.5" y1="903.9" x2="988.8" y2="908.0" stroke="#c2c2c2" stroke-width="3.4" stroke-linecap="round"/>
<line x1="986.9" y1="910.9" x2="984.2" y2="915.1" stroke="#c2c2c2" stroke-width="3.4" stroke-linecap="round"/>
<line x1="982.2" y1="918.1" x2="979.4" y2="922.4" stroke="#c2c2c2" stroke-width="3.5" stroke-linecap="round"/>
<line x1="977.3" y1="925.5" x2="974.4" y2="929.9" stroke="#c2c2c2" stroke-width="3.5" stroke-linecap="round"/>
<line x1="972.3" y1="933.2" x2="969.3" y2="937.7" stroke="#c2c2c2" stroke-width="3.5" stroke-linecap="round"/>
<line x1="967.1" y1="941.1" x2="964.0" y2="945.8" stroke="#c2c2c2" stroke-width="3.6" stroke-linecap="round"/>
<line x1="961.7" y1="949.3" x2="958.5" y2="954.1" stroke="#c2c2c2" stroke-width="3.6" stroke-linecap="round"/>
<line x1="956.2" y1="957.7" x2="952.9" y2="962.8" stroke="#c2c2c2" stroke-width="3.7" stroke-linecap="round"/>
<line x1="950.4" y1="966.5" x2="947.0" y2="971.7" stroke="#c2c2c2" stroke-width="3.7" stroke-linecap="round"/>
<line x1="944.5" y1="975.5" x2="940.9" y2="980.9" stroke="#c2c2c2" stroke-width="3.8" stroke-linecap="round"/>
<line x1="938.3" y1="984.9" x2="934.7" y2="990.5" stroke="#c2c2c2" stroke-width="3.8" stroke-linecap="round"/>
<line x1="932.0" y1="994.6" x2="928.2" y2="1000.4" stroke="#c2c2c2" stroke-width="3.9" stroke-linecap="round"/>
<line x1="925.4" y1="1004.7" x2="921.4" y2="1010.7" stroke="#c2c2c2" stroke-width="4.0" stroke-linecap="round"/>
<line x1="918.5" y1="1015.1" x2="914.4" y2="1021.4" stroke="#c2c2c2" stroke-width="4.0" stroke-linecap="round"/>
<line x1="911.4" y1="1026.0" x2="907.2" y2="1032.5" stroke="#c2c2c2" stroke-width="4.1" stroke-linecap="round"/>
<line x1="904.0" y1="1037.2" x2="899.6" y2="1044.0" stroke="#c2c2c2" stroke-width="4.1" stroke-linecap="round"/>
<line x1="896.4" y1="1048.9" x2="891.8" y2="1055.9" stroke="#c2c2c2" stroke-width="4.2" stroke-linecap="round"/>
<line x1="888.4" y1="1061.0" x2="883.6" y2="1068.3" stroke="#c2c2c2" stroke-width="4.3" stroke-linecap="round"/>
<line x1="880.1" y1="1073.6" x2="875.2" y2="1081.2" stroke="#c2c2c2" stroke-width="4.4" stroke-linecap="round"/>
<line x1="871.5" y1="1086.8" x2="866.3" y2="1094.7" stroke="#c2c2c2" stroke-width="4.4" stroke-linecap="round"/>
<line x1="862.6" y1="1100.4" x2="857.2" y2="1108.7" stroke="#c2c2c2" stroke-width="4.5" stroke-linecap="round"/>
<line x1="853.2" y1="1114.7" x2="847.6" y2="1123.3" stroke="#c2c2c2" stroke-width="4.6" stroke-linecap="round"/>
<line x1="843.5" y1="1129.5" x2="837.6" y2="1138.5" stroke="#c2c2c2" stroke-width="4.7" stroke-linecap="round"/>
<line x1="833.3" y1="1145.0" x2="827.2" y2="1154.4" stroke="#c2c2c2" stroke-width="4.8" stroke-linecap="round"/>
<line x1="822.7" y1="1161.2" x2="816.3" y2="1170.9" stroke="#c2c2c2" stroke-width="4.9" stroke-linecap="round"/>
<line x1="811.6" y1="1178.1" x2="804.9" y2="1188.3" stroke="#c2c2c2" stroke-width="5.0" stroke-linecap="round"/>
<line x1="800.0" y1="1195.8" x2="793.0" y2="1206.5" stroke="#c2c2c2" stroke-width="5.1" stroke-linecap="round"/>
<line x1="787.9" y1="1214.3" x2="780.5" y2="1225.5" stroke="#c2c2c2" stroke-width="5.2" stroke-linecap="round"/>
<line x1="775.2" y1="1233.7" x2="767.5" y2="1245.4" stroke="#c2c2c2" stroke-width="5.4" stroke-linecap="round"/>
<line x1="761.8" y1="1254.0" x2="753.8" y2="1266.3" stroke="#c2c2c2" stroke-width="5.5" stroke-linecap="round"/>
<line x1="747.8" y1="1275.4" x2="739.3" y2="1288.3" stroke="#c2c2c2" stroke-width="5.6" stroke-linecap="round"/>
<line x1="733.1" y1="1297.8" x2="724.2" y2="1311.4" stroke="#c2c2c2" stroke-width="5.8" stroke-linecap="round"/>
<line x1="717.6" y1="1321.4" x2="708.2" y2="1335.7" stroke="#c2c2c2" stroke-width="6.0" stroke-linecap="round"/>
<line x1="701.3" y1="1346.2" x2="691.4" y2="1361.3" stroke="#c2c2c2" stroke-width="6.1" stroke-linecap="round"/>
<line x1="684.1" y1="1372.5" x2="673.7" y2="1388.4" stroke="#c2c2c2" stroke-width="6.3" stroke-linecap="round"/>
<line x1="666.0" y1="1400.1" x2="654.9" y2="1417.0" stroke="#c2c2c2" stroke-width="6.5" stroke-linecap="round"/>
<line x1="646.8" y1="1429.4" x2="635.1" y2="1447.2" stroke="#c2c2c2" stroke-width="6.7" stroke-linecap="round"/>
<line x1="626.4" y1="1460.4" x2="620.1" y2="1470.0" stroke="#c2c2c2" stroke-width="6.9" stroke-linecap="round"/>
<line x1="1089.2" y1="843.3" x2="1087.3" y2="846.5" stroke="#c2c2c2" stroke-width="3.1" stroke-linecap="round"/>
<line x1="1085.9" y1="848.8" x2="1084.0" y2="852.1" stroke="#c2c2c2" stroke-width="3.1" stroke-linecap="round"/>
<line x1="1082.6" y1="854.5" x2="1080.6" y2="857.8" stroke="#c2c2c2" stroke-width="3.2" stroke-linecap="round"/>
<line x1="1079.1" y1="860.3" x2="1077.0" y2="863.8" stroke="#c2c2c2" stroke-width="3.2" stroke-linecap="round"/>
<line x1="1075.5" y1="866.3" x2="1073.4" y2="869.9" stroke="#c2c2c2" stroke-width="3.2" stroke-linecap="round"/>
<line x1="1071.9" y1="872.5" x2="1069.7" y2="876.2" stroke="#c2c2c2" stroke-width="3.3" stroke-linecap="round"/>
<line x1="1068.1" y1="878.9" x2="1065.8" y2="882.7" stroke="#c2c2c2" stroke-width="3.3" stroke-linecap="round"/>
<line x1="1064.2" y1="885.5" x2="1061.9" y2="889.4" stroke="#c2c2c2" stroke-width="3.3" stroke-linecap="round"/>
<line x1="1060.2" y1="892.2" x2="1057.8" y2="896.3" stroke="#c2c2c2" stroke-width="3.4" stroke-linecap="round"/>
<line x1="1056.0" y1="899.3" x2="1053.5" y2="903.4" stroke="#c2c2c2" stroke-width="3.4" stroke-linecap="round"/>
<line x1="1051.7" y1="906.5" x2="1049.1" y2="910.8" stroke="#c2c2c2" stroke-width="3.5" stroke-linecap="round"/>
<line x1="1047.3" y1="914.0" x2="1044.6" y2="918.4" stroke="#c2c2c2" stroke-width="3.5" stroke-linecap="round"/>
<line x1="1042.7" y1="921.7" x2="1040.0" y2="926.3" stroke="#c2c2c2" stroke-width="3.6" stroke-linecap="round"/>
<line x1="1038.0" y1="929.7" x2="1035.1" y2="934.4" stroke="#c2c2c2" stroke-width="3.6" stroke-linecap="round"/>
<line x1="1033.1" y1="937.9" x2="1030.1" y2="942.8" stroke="#c2c2c2" stroke-width="3.6" stroke-linecap="round"/>
<line x1="1028.0" y1="946.4" x2="1025.0" y2="951.5" stroke="#c2c2c2" stroke-width="3.7" stroke-linecap="round"/>
<line x1="1022.8" y1="955.3" x2="1019.6" y2="960.6" stroke="#c2c2c2" stroke-width="3.7" stroke-linecap="round"/>
<line x1="1017.3" y1="964.4" x2="1014.1" y2="969.9" stroke="#c2c2c2" stroke-width="3.8" stroke-linecap="round"/>
<line x1="1011.7" y1="973.9" x2="1008.4" y2="979.6" stroke="#c2c2c2" stroke-width="3.9" stroke-linecap="round"/>
<line x1="1005.9" y1="983.7" x2="1002.4" y2="989.6" stroke="#c2c2c2" stroke-width="3.9" stroke-linecap="round"/>
<line x1="999.9" y1="993.9" x2="996.3" y2="1000.0" stroke="#c2c2c2" stroke-width="4.0" stroke-linecap="round"/>
<line x1="993.6" y1="1004.4" x2="989.9" y2="1010.8" stroke="#c2c2c2" stroke-width="4.0" stroke-linecap="round"/>
<line x1="987.1" y1="1015.4" x2="983.2" y2="1022.0" stroke="#c2c2c2" stroke-width="4.1" stroke-linecap="round"/>
<line x1="980.4" y1="1026.8" x2="976.3" y2="1033.6" stroke="#c2c2c2" stroke-width="4.2" stroke-linecap="round"/>
<line x1="973.4" y1="1038.6" x2="969.1" y2="1045.7" stroke="#c2c2c2" stroke-width="4.2" stroke-linecap="round"/>
<line x1="966.1" y1="1050.9" x2="961.7" y2="1058.2" stroke="#c2c2c2" stroke-width="4.3" stroke-linecap="round"/>
<line x1="958.5" y1="1063.7" x2="953.9" y2="1071.3" stroke="#c2c2c2" stroke-width="4.4" stroke-linecap="round"/>
<line x1="950.6" y1="1077.0" x2="945.8" y2="1085.0" stroke="#c2c2c2" stroke-width="4.5" stroke-linecap="round"/>
<line x1="942.4" y1="1090.8" x2="937.4" y2="1099.2" stroke="#c2c2c2" stroke-width="4.6" stroke-linecap="round"/>
<line x1="933.8" y1="1105.3" x2="928.6" y2="1114.0" stroke="#c2c2c2" stroke-width="4.7" stroke-linecap="round"/>
<line x1="924.8" y1="1120.3" x2="919.5" y2="1129.4" stroke="#c2c2c2" stroke-width="4.7" stroke-linecap="round"/>
<line x1="915.5" y1="1136.1" x2="909.9" y2="1145.6" stroke="#c2c2c2" stroke-width="4.8" stroke-linecap="round"/>
<line x1="905.8" y1="1152.5" x2="899.9" y2="1162.4" stroke="#c2c2c2" stroke-width="5.0" stroke-linecap="round"/>
<line x1="895.6" y1="1169.7" x2="889.4" y2="1180.1" stroke="#c2c2c2" stroke-width="5.1" stroke-linecap="round"/>
<line x1="884.9" y1="1187.7" x2="878.4" y2="1198.6" stroke="#c2c2c2" stroke-width="5.2" stroke-linecap="round"/>
<line x1="873.7" y1="1206.6" x2="866.9" y2="1217.9" stroke="#c2c2c2" stroke-width="5.3" stroke-linecap="round"/>
<line x1="862.0" y1="1226.3" x2="854.9" y2="1238.3" stroke="#c2c2c2" stroke-width="5.4" stroke-linecap="round"/>
<line x1="849.7" y1="1247.1" x2="842.2" y2="1259.6" stroke="#c2c2c2" stroke-width="5.6" stroke-linecap="round"/>
<line x1="836.8" y1="1268.8" x2="828.9" y2="1282.0" stroke="#c2c2c2" stroke-width="5.7" stroke-linecap="round"/>
<line x1="823.2" y1="1291.8" x2="814.9" y2="1305.7" stroke="#c2c2c2" stroke-width="5.9" stroke-linecap="round"/>
<line x1="808.8" y1="1315.9" x2="800.2" y2="1330.5" stroke="#c2c2c2" stroke-width="6.0" stroke-linecap="round"/>
<line x1="793.7" y1="1341.3" x2="784.6" y2="1356.8" stroke="#c2c2c2" stroke-width="6.2" stroke-linecap="round"/>
<line x1="777.8" y1="1368.2" x2="768.1" y2="1384.5" stroke="#c2c2c2" stroke-width="6.4" stroke-linecap="round"/>
<line x1="761.0" y1="1396.6" x2="750.7" y2="1413.9" stroke="#c2c2c2" stroke-width="6.6" stroke-linecap="round"/>
<line x1="743.1" y1="1426.6" x2="737.6" y2="1436.0" stroke="#c2c2c2" stroke-width="6.8" stroke-linecap="round"/>
<line x1="1157.8" y1="826.1" x2="1156.2" y2="829.2" stroke="#c2c2c2" stroke-width="3.1" stroke-linecap="round"/>
<line x1="1155.0" y1="831.4" x2="1153.3" y2="834.6" stroke="#c2c2c2" stroke-width="3.1" stroke-linecap="round"/>
<line x1="1152.1" y1="836.9" x2="1150.3" y2="840.2" stroke="#c2c2c2" stroke-width="3.2" stroke-linecap="round"/>
<line x1="1149.1" y1="842.6" x2="1147.3" y2="846.0" stroke="#c2c2c2" stroke-width="3.2" stroke-linecap="round"/>
<line x1="1146.0" y1="848.5" x2="1144.1" y2="852.0" stroke="#c2c2c2" stroke-width="3.2" stroke-linecap="round"/>
<line x1="1142.8" y1="854.5" x2="1140.9" y2="858.1" stroke="#c2c2c2" stroke-width="3.2" stroke-linecap="round"/>
<line x1="1139.5" y1="860.8" x2="1137.5" y2="864.5" stroke="#c2c2c2" stroke-width="3.3" stroke-linecap="round"/>
<line x1="1136.1" y1="867.2" x2="1134.1" y2="871.0" stroke="#c2c2c2" stroke-width="3.3" stroke-linecap="round"/>
<line x1="1132.6" y1="873.8" x2="1130.5" y2="877.8" stroke="#c2c2c2" stroke-width="3.4" stroke-linecap="round"/>
<line x1="1129.0" y1="880.6" x2="1126.8" y2="884.7" stroke="#c2c2c2" stroke-width="3.4" stroke-linecap="round"/>
<line x1="1125.2" y1="887.7" x2="1123.0" y2="891.9" stroke="#c2c2c2" stroke-width="3.4" stroke-linecap="round"/>
<line x1="1121.4" y1="895.0" x2="1119.1" y2="899.3" stroke="#c2c2c2" stroke-width="3.5" stroke-linecap="round"/>
<line x1="1117.4" y1="902.5" x2="1115.0" y2="907.0" stroke="#c2c2c2" stroke-width="3.5" stroke-linecap="round"/>
<line x1="1113.3" y1="910.3" x2="1110.8" y2="914.9" stroke="#c2c2c2" stroke-width="3.6" stroke-linecap="round"/>
<line x1="1109.0" y1="918.3" x2="1106.5" y2="923.1" stroke="#c2c2c2" stroke-width="3.6" stroke-linecap="round"/>
<line x1="1104.6" y1="926.7" x2="1102.0" y2="931.6" stroke="#c2c2c2" stroke-width="3.7" stroke-linecap="round"/>
<line x1="1100.1" y1="935.3" x2="1097.4" y2="940.4" stroke="#c2c2c2" stroke-width="3.7" stroke-linecap="round"/>
<line x1="1095.4" y1="944.2" x2="1092.6" y2="949.5" stroke="#c2c2c2" stroke-width="3.8" stroke-linecap="round"/>
<line x1="1090.5" y1="953.4" x2="1087.6" y2="958.9" stroke="#c2c2c2" stroke-width="3.8" stroke-linecap="round"/>
<line x1="1085.4" y1="963.0" x2="1082.4" y2="968.7" stroke="#c2c2c2" stroke-width="3.9" stroke-linecap="round"/>
<line x1="1080.2" y1="972.9" x2="1077.1" y2="978.8" stroke="#c2c2c2" stroke-width="3.9" stroke-linecap="round"/>
<line x1="1074.8" y1="983.2" x2="1071.5" y2="989.3" stroke="#c2c2c2" stroke-width="4.0" stroke-linecap="round"/>
<line x1="1069.1" y1="993.8" x2="1065.7" y2="1000.2" stroke="#c2c2c2" stroke-width="4.1" stroke-linecap="round"/>
<line x1="1063.3" y1="1004.9" x2="1059.8" y2="1011.6" stroke="#c2c2c2" stroke-width="4.1" stroke-linecap="round"/>
<line x1="1057.2" y1="1016.4" x2="1053.5" y2="1023.3" stroke="#c2c2c2" stroke-width="4.2" stroke-linecap="round"/>
<line x1="1050.9" y1="1028.4" x2="1047.1" y2="1035.6" stroke="#c2c2c2" stroke-width="4.3" stroke-linecap="round"/>
<line x1="1044.3" y1="1040.8" x2="1040.3" y2="1048.3" stroke="#c2c2c2" stroke-width="4.3" stroke-linecap="round"/>
<line x1="1037.4" y1="1053.8" x2="1033.3" y2="1061.6" stroke="#c2c2c2" stroke-width="4.4" stroke-linecap="round"/>
<line x1="1030.3" y1="1067.3" x2="1026.0" y2="1075.4" stroke="#c2c2c2" stroke-width="4.5" stroke-linecap="round"/>
<line x1="1022.9" y1="1081.3" x2="1018.4" y2="1089.8" stroke="#c2c2c2" stroke-width="4.6" stroke-linecap="round"/>
<line x1="1015.1" y1="1096.0" x2="1010.4" y2="1104.8" stroke="#c2c2c2" stroke-width="4.7" stroke-linecap="round"/>
<line x1="1007.0" y1="1111.3" x2="1002.1" y2="1120.5" stroke="#c2c2c2" stroke-width="4.8" stroke-linecap="round"/>
<line x1="998.5" y1="1127.3" x2="993.5" y2="1137.0" stroke="#c2c2c2" stroke-width="4.9" stroke-linecap="round"/>
<line x1="989.7" y1="1144.0" x2="984.4" y2="1154.1" stroke="#c2c2c2" stroke-width="5.0" stroke-linecap="round"/>
<line x1="980.5" y1="1161.5" x2="974.9" y2="1172.1" stroke="#c2c2c2" stroke-width="5.1" stroke-linecap="round"/>
<line x1="970.8" y1="1179.8" x2="964.9" y2="1190.9" stroke="#c2c2c2" stroke-width="5.2" stroke-linecap="round"/>
<line x1="960.6" y1="1199.0" x2="954.5" y2="1210.7" stroke="#c2c2c2" stroke-width="5.4" stroke-linecap="round"/>
<line x1="950.0" y1="1219.2" x2="943.5" y2="1231.4" stroke="#c2c2c2" stroke-width="5.5" stroke-linecap="round"/>
<line x1="938.8" y1="1240.4" x2="932.0" y2="1253.2" stroke="#c2c2c2" stroke-width="5.6" stroke-linecap="round"/>
<line x1="927.0" y1="1262.6" x2="919.9" y2="1276.1" stroke="#c2c2c2" stroke-width="5.8" stroke-linecap="round"/>
<line x1="914.6" y1="1286.0" x2="907.1" y2="1300.3" stroke="#c2c2c2" stroke-width="6.0" stroke-linecap="round"/>
<line x1="901.6" y1="1310.7" x2="893.6" y2="1325.7" stroke="#c2c2c2" stroke-width="6.1" stroke-linecap="round"/>
<line x1="887.8" y1="1336.8" x2="879.4" y2="1352.6" stroke="#c2c2c2" stroke-width="6.3" stroke-linecap="round"/>
<line x1="873.2" y1="1364.3" x2="864.4" y2="1381.1" stroke="#c2c2c2" stroke-width="6.5" stroke-linecap="round"/>
<line x1="857.8" y1="1393.5" x2="853.0" y2="1402.5" stroke="#c2c2c2" stroke-width="6.7" stroke-linecap="round"/>
<line x1="1225.7" y1="809.0" x2="1224.3" y2="812.0" stroke="#c2c2c2" stroke-width="3.1" stroke-linecap="round"/>
<line x1="1223.3" y1="814.2" x2="1221.9" y2="817.3" stroke="#c2c2c2" stroke-width="3.1" stroke-linecap="round"/>
<line x1="1220.8" y1="819.6" x2="1219.4" y2="822.8" stroke="#c2c2c2" stroke-width="3.1" stroke-linecap="round"/>
<line x1="1218.3" y1="825.2" x2="1216.7" y2="828.5" stroke="#c2c2c2" stroke-width="3.2" stroke-linecap="round"/>
<line x1="1215.6" y1="830.9" x2="1214.0" y2="834.3" stroke="#c2c2c2" stroke-width="3.2" stroke-linecap="round"/>
<line x1="1212.9" y1="836.8" x2="1211.3" y2="840.3" stroke="#c2c2c2" stroke-width="3.2" stroke-linecap="round"/>
<line x1="1210.1" y1="842.8" x2="1208.4" y2="846.5" stroke="#c2c2c2" stroke-width="3.3" stroke-linecap="round"/>
<line x1="1207.2" y1="849.1" x2="1205.5" y2="852.8" stroke="#c2c2c2" stroke-width="3.3" stroke-linecap="round"/>
<line x1="1204.2" y1="855.6" x2="1202.4" y2="859.4" stroke="#c2c2c2" stroke-width="3.3" stroke-linecap="round"/>
<line x1="1201.1" y1="862.2" x2="1199.3" y2="866.2" stroke="#c2c2c2" stroke-width="3.4" stroke-linecap="round"/>
<line x1="1197.9" y1="869.1" x2="1196.0" y2="873.2" stroke="#c2c2c2" stroke-width="3.4" stroke-linecap="round"/>
<line x1="1194.7" y1="876.2" x2="1192.7" y2="880.5" stroke="#c2c2c2" stroke-width="3.4" stroke-linecap="round"/>
<line x1="1191.3" y1="883.6" x2="1189.2" y2="887.9" stroke="#c2c2c2" stroke-width="3.5" stroke-linecap="round"/>
<line x1="1187.8" y1="891.1" x2="1185.7" y2="895.7" stroke="#c2c2c2" stroke-width="3.5" stroke-linecap="round"/>
<line x1="1184.1" y1="899.0" x2="1182.0" y2="903.7" stroke="#c2c2c2" stroke-width="3.6" stroke-linecap="round"/>
<line x1="1180.4" y1="907.1" x2="1178.1" y2="911.9" stroke="#c2c2c2" stroke-width="3.6" stroke-linecap="round"/>
<line x1="1176.5" y1="915.5" x2="1174.2" y2="920.5" stroke="#c2c2c2" stroke-width="3.7" stroke-linecap="round"/>
<line x1="1172.5" y1="924.2" x2="1170.1" y2="929.4" stroke="#c2c2c2" stroke-width="3.7" stroke-linecap="round"/>
<line x1="1168.3" y1="933.2" x2="1165.8" y2="938.5" stroke="#c2c2c2" stroke-width="3.8" stroke-linecap="round"/>
<line x1="1164.0" y1="942.5" x2="1161.4" y2="948.1" stroke="#c2c2c2" stroke-width="3.8" stroke-linecap="round"/>
<line x1="1159.5" y1="952.1" x2="1156.9" y2="957.9" stroke="#c2c2c2" stroke-width="3.9" stroke-linecap="round"/>
<line x1="1154.9" y1="962.2" x2="1152.1" y2="968.2" stroke="#c2c2c2" stroke-width="4.0" stroke-linecap="round"/>
<line x1="1150.1" y1="972.6" x2="1147.2" y2="978.8" stroke="#c2c2c2" stroke-width="4.0" stroke-linecap="round"/>
<line x1="1145.1" y1="983.3" x2="1142.1" y2="989.8" stroke="#c2c2c2" stroke-width="4.1" stroke-linecap="round"/>
<line x1="1139.9" y1="994.6" x2="1136.8" y2="1001.3" stroke="#c2c2c2" stroke-width="4.2" stroke-linecap="round"/>
<line x1="1134.5" y1="1006.2" x2="1131.3" y2="1013.2" stroke="#c2c2c2" stroke-width="4.2" stroke-linecap="round"/>
<line x1="1128.9" y1="1018.3" x2="1125.6" y2="1025.6" stroke="#c2c2c2" stroke-width="4.3" stroke-linecap="round"/>
<line x1="1123.1" y1="1030.9" x2="1119.6" y2="1038.5" stroke="#c2c2c2" stroke-width="4.4" stroke-linecap="round"/>
<line x1="1117.0" y1="1044.1" x2="1113.4" y2="1052.0" stroke="#c2c2c2" stroke-width="4.5" stroke-linecap="round"/>
<line x1="1110.7" y1="1057.7" x2="1106.9" y2="1066.0" stroke="#c2c2c2" stroke-width="4.5" stroke-linecap="round"/>
<line x1="1104.1" y1="1072.0" x2="1100.1" y2="1080.6" stroke="#c2c2c2" stroke-width="4.6" stroke-linecap="round"/>
<line x1="1097.2" y1="1086.9" x2="1093.1" y2="1095.9" stroke="#c2c2c2" stroke-width="4.7" stroke-linecap="round"/>
<line x1="1090.0" y1="1102.5" x2="1085.7" y2="1111.8" stroke="#c2c2c2" stroke-width="4.8" stroke-linecap="round"/>
<line x1="1082.5" y1="1118.7" x2="1078.0" y2="1128.5" stroke="#c2c2c2" stroke-width="4.9" stroke-linecap="round"/>
<line x1="1074.6" y1="1135.7" x2="1069.9" y2="1146.0" stroke="#c2c2c2" stroke-width="5.1" stroke-linecap="round"/>
<line x1="1066.4" y1="1153.5" x2="1061.4" y2="1164.3" stroke="#c2c2c2" stroke-width="5.2" stroke-linecap="round"/>
<line x1="1057.8" y1="1172.2" x2="1052.6" y2="1183.5" stroke="#c2c2c2" stroke-width="5.3" stroke-linecap="round"/>
<line x1="1048.7" y1="1191.8" x2="1043.2" y2="1203.6" stroke="#c2c2c2" stroke-width="5.4" stroke-linecap="round"/>
<line x1="1039.2" y1="1212.3" x2="1033.5" y2="1224.8" stroke="#c2c2c2" stroke-width="5.6" stroke-linecap="round"/>
<line x1="1029.2" y1="1233.9" x2="1023.2" y2="1247.0" stroke="#c2c2c2" stroke-width="5.7" stroke-linecap="round"/>
<line x1="1018.7" y1="1256.7" x2="1012.3" y2="1270.5" stroke="#c2c2c2" stroke-width="5.9" stroke-linecap="round"/>
<line x1="1007.6" y1="1280.6" x2="1000.9" y2="1295.2" stroke="#c2c2c2" stroke-width="6.1" stroke-linecap="round"/>
<line x1="995.9" y1="1305.9" x2="988.8" y2="1321.3" stroke="#c2c2c2" stroke-width="6.2" stroke-linecap="round"/>
<line x1="983.6" y1="1332.6" x2="976.1" y2="1348.9" stroke="#c2c2c2" stroke-width="6.4" stroke-linecap="round"/>
<line x1="970.5" y1="1360.9" x2="966.4" y2="1369.6" stroke="#c2c2c2" stroke-width="6.6" stroke-linecap="round"/>
<line x1="1292.9" y1="792.1" x2="1291.8" y2="795.1" stroke="#c2c2c2" stroke-width="3.0" stroke-linecap="round"/>
<line x1="1290.9" y1="797.2" x2="1289.7" y2="800.2" stroke="#c2c2c2" stroke-width="3.1" stroke-linecap="round"/>
<line x1="1288.9" y1="802.5" x2="1287.6" y2="805.6" stroke="#c2c2c2" stroke-width="3.1" stroke-linecap="round"/>
<line x1="1286.7" y1="807.9" x2="1285.4" y2="811.1" stroke="#c2c2c2" stroke-width="3.1" stroke-linecap="round"/>
<line x1="1284.5" y1="813.5" x2="1283.2" y2="816.8" stroke="#c2c2c2" stroke-width="3.2" stroke-linecap="round"/>
<line x1="1282.3" y1="819.2" x2="1280.9" y2="822.6" stroke="#c2c2c2" stroke-width="3.2" stroke-linecap="round"/>
<line x1="1279.9" y1="825.1" x2="1278.5" y2="828.7" stroke="#c2c2c2" stroke-width="3.2" stroke-linecap="round"/>
<line x1="1277.5" y1="831.2" x2="1276.1" y2="834.9" stroke="#c2c2c2" stroke-width="3.3" stroke-linecap="round"/>
<line x1="1275.0" y1="837.5" x2="1273.5" y2="841.3" stroke="#c2c2c2" stroke-width="3.3" stroke-linecap="round"/>
<line x1="1272.5" y1="844.0" x2="1270.9" y2="847.9" stroke="#c2c2c2" stroke-width="3.3" stroke-linecap="round"/>
<line x1="1269.8" y1="850.7" x2="1268.2" y2="854.8" stroke="#c2c2c2" stroke-width="3.4" stroke-linecap="round"/>
<line x1="1267.1" y1="857.7" x2="1265.4" y2="861.8" stroke="#c2c2c2" stroke-width="3.4" stroke-linecap="round"/>
<line x1="1264.3" y1="864.8" x2="1262.6" y2="869.1" stroke="#c2c2c2" stroke-width="3.5" stroke-linecap="round"/>
<line x1="1261.3" y1="872.2" x2="1259.6" y2="876.6" stroke="#c2c2c2" stroke-width="3.5" stroke-linecap="round"/>
<line x1="1258.3" y1="879.9" x2="1256.5" y2="884.4" stroke="#c2c2c2" stroke-width="3.5" stroke-linecap="round"/>
<line x1="1255.2" y1="887.8" x2="1253.3" y2="892.5" stroke="#c2c2c2" stroke-width="3.6" stroke-linecap="round"/>
<line x1="1252.0" y1="895.9" x2="1250.1" y2="900.8" stroke="#c2c2c2" stroke-width="3.6" stroke-linecap="round"/>
<line x1="1248.6" y1="904.4" x2="1246.6" y2="909.5" stroke="#c2c2c2" stroke-width="3.7" stroke-linecap="round"/>
<line x1="1245.2" y1="913.2" x2="1243.1" y2="918.4" stroke="#c2c2c2" stroke-width="3.7" stroke-linecap="round"/>
<line x1="1241.6" y1="922.3" x2="1239.5" y2="927.7" stroke="#c2c2c2" stroke-width="3.8" stroke-linecap="round"/>
<line x1="1237.9" y1="931.7" x2="1235.7" y2="937.3" stroke="#c2c2c2" stroke-width="3.9" stroke-linecap="round"/>
<line x1="1234.0" y1="941.4" x2="1231.7" y2="947.3" stroke="#c2c2c2" stroke-width="3.9" stroke-linecap="round"/>
<line x1="1230.1" y1="951.5" x2="1227.7" y2="957.6" stroke="#c2c2c2" stroke-width="4.0" stroke-linecap="round"/>
<line x1="1225.9" y1="962.1" x2="1223.4" y2="968.4" stroke="#c2c2c2" stroke-width="4.0" stroke-linecap="round"/>
<line x1="1221.6" y1="973.0" x2="1219.0" y2="979.5" stroke="#c2c2c2" stroke-width="4.1" stroke-linecap="round"/>
<line x1="1217.1" y1="984.3" x2="1214.4" y2="991.1" stroke="#c2c2c2" stroke-width="4.2" stroke-linecap="round"/>
<line x1="1212.5" y1="996.1" x2="1209.7" y2="1003.2" stroke="#c2c2c2" stroke-width="4.3" stroke-linecap="round"/>
<line x1="1207.6" y1="1008.4" x2="1204.7" y2="1015.8" stroke="#c2c2c2" stroke-width="4.3" stroke-linecap="round"/>
<line x1="1202.6" y1="1021.2" x2="1199.6" y2="1028.8" stroke="#c2c2c2" stroke-width="4.4" stroke-linecap="round"/>
<line x1="1197.3" y1="1034.5" x2="1194.2" y2="1042.5" stroke="#c2c2c2" stroke-width="4.5" stroke-linecap="round"/>
<line x1="1191.9" y1="1048.3" x2="1188.6" y2="1056.7" stroke="#c2c2c2" stroke-width="4.6" stroke-linecap="round"/>
<line x1="1186.2" y1="1062.8" x2="1182.7" y2="1071.6" stroke="#c2c2c2" stroke-width="4.7" stroke-linecap="round"/>
<line x1="1180.2" y1="1078.0" x2="1176.6" y2="1087.1" stroke="#c2c2c2" stroke-width="4.8" stroke-linecap="round"/>
<line x1="1174.0" y1="1093.8" x2="1170.2" y2="1103.3" stroke="#c2c2c2" stroke-width="4.9" stroke-linecap="round"/>
<line x1="1167.4" y1="1110.3" x2="1163.5" y2="1120.3" stroke="#c2c2c2" stroke-width="5.0" stroke-linecap="round"/>
<line x1="1160.6" y1="1127.6" x2="1156.5" y2="1138.0" stroke="#c2c2c2" stroke-width="5.1" stroke-linecap="round"/>
<line x1="1153.5" y1="1145.7" x2="1149.1" y2="1156.7" stroke="#c2c2c2" stroke-width="5.2" stroke-linecap="round"/>
<line x1="1146.0" y1="1164.7" x2="1141.4" y2="1176.2" stroke="#c2c2c2" stroke-width="5.4" stroke-linecap="round"/>
<line x1="1138.1" y1="1184.7" x2="1133.3" y2="1196.8" stroke="#c2c2c2" stroke-width="5.5" stroke-linecap="round"/>
<line x1="1129.8" y1="1205.7" x2="1124.8" y2="1218.4" stroke="#c2c2c2" stroke-width="5.7" stroke-linecap="round"/>
<line x1="1121.1" y1="1227.8" x2="1115.8" y2="1241.1" stroke="#c2c2c2" stroke-width="5.8" stroke-linecap="round"/>
<line x1="1111.9" y1="1251.0" x2="1106.4" y2="1265.1" stroke="#c2c2c2" stroke-width="6.0" stroke-linecap="round"/>
<line x1="1102.3" y1="1275.5" x2="1096.4" y2="1290.4" stroke="#c2c2c2" stroke-width="6.2" stroke-linecap="round"/>
<line x1="1092.1" y1="1301.4" x2="1085.8" y2="1317.2" stroke="#c2c2c2" stroke-width="6.3" stroke-linecap="round"/>
<line x1="1081.2" y1="1328.8" x2="1077.9" y2="1337.3" stroke="#c2c2c2" stroke-width="6.5" stroke-linecap="round"/>
<line x1="1359.4" y1="775.4" x2="1358.5" y2="778.3" stroke="#c2c2c2" stroke-width="3.0" stroke-linecap="round"/>
<line x1="1357.8" y1="780.4" x2="1356.8" y2="783.3" stroke="#c2c2c2" stroke-width="3.0" stroke-linecap="round"/>
<line x1="1356.1" y1="785.5" x2="1355.2" y2="788.6" stroke="#c2c2c2" stroke-width="3.1" stroke-linecap="round"/>
<line x1="1354.4" y1="790.8" x2="1353.4" y2="793.9" stroke="#c2c2c2" stroke-width="3.1" stroke-linecap="round"/>
<line x1="1352.7" y1="796.2" x2="1351.6" y2="799.5" stroke="#c2c2c2" stroke-width="3.1" stroke-linecap="round"/>
<line x1="1350.8" y1="801.8" x2="1349.8" y2="805.2" stroke="#c2c2c2" stroke-width="3.2" stroke-linecap="round"/>
<line x1="1349.0" y1="807.6" x2="1347.9" y2="811.0" stroke="#c2c2c2" stroke-width="3.2" stroke-linecap="round"/>
<line x1="1347.0" y1="813.6" x2="1345.9" y2="817.1" stroke="#c2c2c2" stroke-width="3.2" stroke-linecap="round"/>
<line x1="1345.0" y1="819.7" x2="1343.9" y2="823.4" stroke="#c2c2c2" stroke-width="3.3" stroke-linecap="round"/>
<line x1="1343.0" y1="826.0" x2="1341.8" y2="829.8" stroke="#c2c2c2" stroke-width="3.3" stroke-linecap="round"/>
<line x1="1340.9" y1="832.6" x2="1339.6" y2="836.5" stroke="#c2c2c2" stroke-width="3.3" stroke-linecap="round"/>
<line x1="1338.7" y1="839.3" x2="1337.4" y2="843.4" stroke="#c2c2c2" stroke-width="3.4" stroke-linecap="round"/>
<line x1="1336.4" y1="846.3" x2="1335.1" y2="850.5" stroke="#c2c2c2" stroke-width="3.4" stroke-linecap="round"/>
<line x1="1334.1" y1="853.5" x2="1332.7" y2="857.8" stroke="#c2c2c2" stroke-width="3.5" stroke-linecap="round"/>
<line x1="1331.7" y1="861.0" x2="1330.2" y2="865.4" stroke="#c2c2c2" stroke-width="3.5" stroke-linecap="round"/>
<line x1="1329.2" y1="868.7" x2="1327.7" y2="873.3" stroke="#c2c2c2" stroke-width="3.6" stroke-linecap="round"/>
<line x1="1326.6" y1="876.6" x2="1325.0" y2="881.4" stroke="#c2c2c2" stroke-width="3.6" stroke-linecap="round"/>
<line x1="1323.9" y1="884.9" x2="1322.3" y2="889.8" stroke="#c2c2c2" stroke-width="3.7" stroke-linecap="round"/>
<line x1="1321.1" y1="893.4" x2="1319.5" y2="898.5" stroke="#c2c2c2" stroke-width="3.7" stroke-linecap="round"/>
<line x1="1318.3" y1="902.3" x2="1316.5" y2="907.6" stroke="#c2c2c2" stroke-width="3.8" stroke-linecap="round"/>
<line x1="1315.3" y1="911.4" x2="1313.5" y2="916.9" stroke="#c2c2c2" stroke-width="3.8" stroke-linecap="round"/>
<line x1="1312.2" y1="920.9" x2="1310.4" y2="926.6" stroke="#c2c2c2" stroke-width="3.9" stroke-linecap="round"/>
<line x1="1309.0" y1="930.8" x2="1307.1" y2="936.7" stroke="#c2c2c2" stroke-width="3.9" stroke-linecap="round"/>
<line x1="1305.7" y1="941.0" x2="1303.7" y2="947.2" stroke="#c2c2c2" stroke-width="4.0" stroke-linecap="round"/>
<line x1="1302.2" y1="951.7" x2="1300.2" y2="958.0" stroke="#c2c2c2" stroke-width="4.1" stroke-linecap="round"/>
<line x1="1298.7" y1="962.7" x2="1296.5" y2="969.3" stroke="#c2c2c2" stroke-width="4.1" stroke-linecap="round"/>
<line x1="1294.9" y1="974.2" x2="1292.7" y2="981.1" stroke="#c2c2c2" stroke-width="4.2" stroke-linecap="round"/>
<line x1="1291.1" y1="986.1" x2="1288.7" y2="993.3" stroke="#c2c2c2" stroke-width="4.3" stroke-linecap="round"/>
<line x1="1287.0" y1="998.6" x2="1284.6" y2="1006.0" stroke="#c2c2c2" stroke-width="4.4" stroke-linecap="round"/>
<line x1="1282.8" y1="1011.5" x2="1280.3" y2="1019.3" stroke="#c2c2c2" stroke-width="4.5" stroke-linecap="round"/>
<line x1="1278.4" y1="1025.0" x2="1275.8" y2="1033.1" stroke="#c2c2c2" stroke-width="4.5" stroke-linecap="round"/>
<line x1="1273.9" y1="1039.1" x2="1271.1" y2="1047.6" stroke="#c2c2c2" stroke-width="4.6" stroke-linecap="round"/>
<line x1="1269.1" y1="1053.8" x2="1266.2" y2="1062.7" stroke="#c2c2c2" stroke-width="4.7" stroke-linecap="round"/>
<line x1="1264.1" y1="1069.2" x2="1261.1" y2="1078.4" stroke="#c2c2c2" stroke-width="4.8" stroke-linecap="round"/>
<line x1="1258.9" y1="1085.2" x2="1255.8" y2="1094.9" stroke="#c2c2c2" stroke-width="4.9" stroke-linecap="round"/>
<line x1="1253.5" y1="1102.0" x2="1250.2" y2="1112.2" stroke="#c2c2c2" stroke-width="5.1" stroke-linecap="round"/>
<line x1="1247.7" y1="1119.7" x2="1244.3" y2="1130.3" stroke="#c2c2c2" stroke-width="5.2" stroke-linecap="round"/>
<line x1="1241.8" y1="1138.1" x2="1238.1" y2="1149.3" stroke="#c2c2c2" stroke-width="5.3" stroke-linecap="round"/>
<line x1="1235.5" y1="1157.5" x2="1231.7" y2="1169.3" stroke="#c2c2c2" stroke-width="5.4" stroke-linecap="round"/>
<line x1="1228.9" y1="1177.9" x2="1224.9" y2="1190.2" stroke="#c2c2c2" stroke-width="5.6" stroke-linecap="round"/>
<line x1="1221.9" y1="1199.3" x2="1217.7" y2="1212.3" stroke="#c2c2c2" stroke-width="5.7" stroke-linecap="round"/>
<line x1="1214.6" y1="1221.9" x2="1210.1" y2="1235.6" stroke="#c2c2c2" stroke-width="5.9" stroke-linecap="round"/>
<line x1="1206.9" y1="1245.7" x2="1202.2" y2="1260.1" stroke="#c2c2c2" stroke-width="6.1" stroke-linecap="round"/>
<line x1="1198.7" y1="1270.8" x2="1193.8" y2="1286.1" stroke="#c2c2c2" stroke-width="6.3" stroke-linecap="round"/>
<line x1="1190.1" y1="1297.3" x2="1187.4" y2="1305.6" stroke="#c2c2c2" stroke-width="6.5" stroke-linecap="round"/>
<line x1="1425.2" y1="758.9" x2="1424.5" y2="761.7" stroke="#c2c2c2" stroke-width="3.0" stroke-linecap="round"/>
<line x1="1424.0" y1="763.7" x2="1423.2" y2="766.6" stroke="#c2c2c2" stroke-width="3.0" stroke-linecap="round"/>
<line x1="1422.7" y1="768.7" x2="1422.0" y2="771.7" stroke="#c2c2c2" stroke-width="3.0" stroke-linecap="round"/>
<line x1="1421.4" y1="773.9" x2="1420.6" y2="776.9" stroke="#c2c2c2" stroke-width="3.1" stroke-linecap="round"/>
<line x1="1420.1" y1="779.2" x2="1419.3" y2="782.3" stroke="#c2c2c2" stroke-width="3.1" stroke-linecap="round"/>
<line x1="1418.7" y1="784.6" x2="1417.9" y2="787.9" stroke="#c2c2c2" stroke-width="3.1" stroke-linecap="round"/>
<line x1="1417.3" y1="790.3" x2="1416.4" y2="793.6" stroke="#c2c2c2" stroke-width="3.2" stroke-linecap="round"/>
<line x1="1415.8" y1="796.1" x2="1414.9" y2="799.5" stroke="#c2c2c2" stroke-width="3.2" stroke-linecap="round"/>
<line x1="1414.3" y1="802.1" x2="1413.4" y2="805.6" stroke="#c2c2c2" stroke-width="3.2" stroke-linecap="round"/>
<line x1="1412.7" y1="808.2" x2="1411.8" y2="811.9" stroke="#c2c2c2" stroke-width="3.3" stroke-linecap="round"/>
<line x1="1411.1" y1="814.6" x2="1410.2" y2="818.4" stroke="#c2c2c2" stroke-width="3.3" stroke-linecap="round"/>
<line x1="1409.5" y1="821.2" x2="1408.5" y2="825.1" stroke="#c2c2c2" stroke-width="3.4" stroke-linecap="round"/>
<line x1="1407.8" y1="828.0" x2="1406.7" y2="832.1" stroke="#c2c2c2" stroke-width="3.4" stroke-linecap="round"/>
<line x1="1406.0" y1="835.0" x2="1404.9" y2="839.2" stroke="#c2c2c2" stroke-width="3.4" stroke-linecap="round"/>
<line x1="1404.1" y1="842.3" x2="1403.1" y2="846.6" stroke="#c2c2c2" stroke-width="3.5" stroke-linecap="round"/>
<line x1="1402.3" y1="849.8" x2="1401.1" y2="854.3" stroke="#c2c2c2" stroke-width="3.5" stroke-linecap="round"/>
<line x1="1400.3" y1="857.6" x2="1399.1" y2="862.2" stroke="#c2c2c2" stroke-width="3.6" stroke-linecap="round"/>
<line x1="1398.3" y1="865.6" x2="1397.1" y2="870.4" stroke="#c2c2c2" stroke-width="3.6" stroke-linecap="round"/>
<line x1="1396.2" y1="873.9" x2="1394.9" y2="878.9" stroke="#c2c2c2" stroke-width="3.7" stroke-linecap="round"/>
<line x1="1394.0" y1="882.5" x2="1392.7" y2="887.7" stroke="#c2c2c2" stroke-width="3.7" stroke-linecap="round"/>
<line x1="1391.7" y1="891.5" x2="1390.4" y2="896.8" stroke="#c2c2c2" stroke-width="3.8" stroke-linecap="round"/>
<line x1="1389.4" y1="900.7" x2="1388.0" y2="906.3" stroke="#c2c2c2" stroke-width="3.8" stroke-linecap="round"/>
<line x1="1387.0" y1="910.3" x2="1385.5" y2="916.1" stroke="#c2c2c2" stroke-width="3.9" stroke-linecap="round"/>
<line x1="1384.5" y1="920.3" x2="1383.0" y2="926.2" stroke="#c2c2c2" stroke-width="4.0" stroke-linecap="round"/>
<line x1="1381.9" y1="930.6" x2="1380.3" y2="936.8" stroke="#c2c2c2" stroke-width="4.0" stroke-linecap="round"/>
<line x1="1379.1" y1="941.4" x2="1377.5" y2="947.8" stroke="#c2c2c2" stroke-width="4.1" stroke-linecap="round"/>
<line x1="1376.3" y1="952.5" x2="1374.6" y2="959.2" stroke="#c2c2c2" stroke-width="4.2" stroke-linecap="round"/>
<line x1="1373.4" y1="964.2" x2="1371.6" y2="971.1" stroke="#c2c2c2" stroke-width="4.2" stroke-linecap="round"/>
<line x1="1370.3" y1="976.2" x2="1368.5" y2="983.5" stroke="#c2c2c2" stroke-width="4.3" stroke-linecap="round"/>
<line x1="1367.2" y1="988.8" x2="1365.2" y2="996.4" stroke="#c2c2c2" stroke-width="4.4" stroke-linecap="round"/>
<line x1="1363.8" y1="1002.0" x2="1361.9" y2="1009.9" stroke="#c2c2c2" stroke-width="4.5" stroke-linecap="round"/>
<line x1="1360.4" y1="1015.7" x2="1358.3" y2="1023.9" stroke="#c2c2c2" stroke-width="4.6" stroke-linecap="round"/>
<line x1="1356.8" y1="1030.0" x2="1354.6" y2="1038.6" stroke="#c2c2c2" stroke-width="4.7" stroke-linecap="round"/>
<line x1="1353.0" y1="1044.9" x2="1350.7" y2="1053.9" stroke="#c2c2c2" stroke-width="4.8" stroke-linecap="round"/>
<line x1="1349.1" y1="1060.5" x2="1346.7" y2="1069.9" stroke="#c2c2c2" stroke-width="4.9" stroke-linecap="round"/>
<line x1="1344.9" y1="1076.9" x2="1342.5" y2="1086.7" stroke="#c2c2c2" stroke-width="5.0" stroke-linecap="round"/>
<line x1="1340.6" y1="1094.0" x2="1338.0" y2="1104.3" stroke="#c2c2c2" stroke-width="5.1" stroke-linecap="round"/>
<line x1="1336.1" y1="1111.9" x2="1333.4" y2="1122.8" stroke="#c2c2c2" stroke-width="5.2" stroke-linecap="round"/>
<line x1="1331.4" y1="1130.7" x2="1328.5" y2="1142.1" stroke="#c2c2c2" stroke-width="5.4" stroke-linecap="round"/>
<line x1="1326.4" y1="1150.5" x2="1323.3" y2="1162.5" stroke="#c2c2c2" stroke-width="5.5" stroke-linecap="round"/>
<line x1="1321.1" y1="1171.3" x2="1317.9" y2="1183.9" stroke="#c2c2c2" stroke-width="5.7" stroke-linecap="round"/>
<line x1="1315.6" y1="1193.2" x2="1312.2" y2="1206.5" stroke="#c2c2c2" stroke-width="5.8" stroke-linecap="round"/>
<line x1="1309.8" y1="1216.3" x2="1306.2" y2="1230.3" stroke="#c2c2c2" stroke-width="6.0" stroke-linecap="round"/>
<line x1="1303.6" y1="1240.6" x2="1299.9" y2="1255.5" stroke="#c2c2c2" stroke-width="6.2" stroke-linecap="round"/>
<line x1="1297.1" y1="1266.4" x2="1295.1" y2="1274.4" stroke="#c2c2c2" stroke-width="6.4" stroke-linecap="round"/>
<line x1="1490.3" y1="742.5" x2="1489.8" y2="745.2" stroke="#c2c2c2" stroke-width="3.0" stroke-linecap="round"/>
<line x1="1489.5" y1="747.2" x2="1488.9" y2="750.0" stroke="#c2c2c2" stroke-width="3.0" stroke-linecap="round"/>
<line x1="1488.6" y1="752.1" x2="1488.1" y2="755.0" stroke="#c2c2c2" stroke-width="3.0" stroke-linecap="round"/>
<line x1="1487.7" y1="757.1" x2="1487.2" y2="760.1" stroke="#c2c2c2" stroke-width="3.0" stroke-linecap="round"/>
<line x1="1486.8" y1="762.3" x2="1486.2" y2="765.4" stroke="#c2c2c2" stroke-width="3.1" stroke-linecap="round"/>
<line x1="1485.8" y1="767.6" x2="1485.2" y2="770.8" stroke="#c2c2c2" stroke-width="3.1" stroke-linecap="round"/>
<line x1="1484.8" y1="773.1" x2="1484.3" y2="776.4" stroke="#c2c2c2" stroke-width="3.1" stroke-linecap="round"/>
<line x1="1483.8" y1="778.8" x2="1483.2" y2="782.2" stroke="#c2c2c2" stroke-width="3.2" stroke-linecap="round"/>
<line x1="1482.8" y1="784.6" x2="1482.2" y2="788.1" stroke="#c2c2c2" stroke-width="3.2" stroke-linecap="round"/>
<line x1="1481.7" y1="790.7" x2="1481.1" y2="794.2" stroke="#c2c2c2" stroke-width="3.2" stroke-linecap="round"/>
<line x1="1480.6" y1="796.9" x2="1479.9" y2="800.6" stroke="#c2c2c2" stroke-width="3.3" stroke-linecap="round"/>
<line x1="1479.5" y1="803.3" x2="1478.8" y2="807.1" stroke="#c2c2c2" stroke-width="3.3" stroke-linecap="round"/>
<line x1="1478.3" y1="809.9" x2="1477.6" y2="813.9" stroke="#c2c2c2" stroke-width="3.4" stroke-linecap="round"/>
<line x1="1477.1" y1="816.8" x2="1476.3" y2="820.8" stroke="#c2c2c2" stroke-width="3.4" stroke-linecap="round"/>
<line x1="1475.8" y1="823.8" x2="1475.0" y2="828.1" stroke="#c2c2c2" stroke-width="3.4" stroke-linecap="round"/>
<line x1="1474.5" y1="831.1" x2="1473.7" y2="835.5" stroke="#c2c2c2" stroke-width="3.5" stroke-linecap="round"/>
<line x1="1473.1" y1="838.7" x2="1472.3" y2="843.2" stroke="#c2c2c2" stroke-width="3.5" stroke-linecap="round"/>
<line x1="1471.8" y1="846.5" x2="1470.9" y2="851.2" stroke="#c2c2c2" stroke-width="3.6" stroke-linecap="round"/>
<line x1="1470.3" y1="854.6" x2="1469.4" y2="859.5" stroke="#c2c2c2" stroke-width="3.6" stroke-linecap="round"/>
<line x1="1468.8" y1="863.0" x2="1467.9" y2="868.0" stroke="#c2c2c2" stroke-width="3.7" stroke-linecap="round"/>
<line x1="1467.3" y1="871.7" x2="1466.3" y2="876.9" stroke="#c2c2c2" stroke-width="3.7" stroke-linecap="round"/>
<line x1="1465.7" y1="880.7" x2="1464.7" y2="886.1" stroke="#c2c2c2" stroke-width="3.8" stroke-linecap="round"/>
<line x1="1464.0" y1="890.1" x2="1463.0" y2="895.7" stroke="#c2c2c2" stroke-width="3.9" stroke-linecap="round"/>
<line x1="1462.3" y1="899.8" x2="1461.2" y2="905.6" stroke="#c2c2c2" stroke-width="3.9" stroke-linecap="round"/>
<line x1="1460.5" y1="909.8" x2="1459.4" y2="915.9" stroke="#c2c2c2" stroke-width="4.0" stroke-linecap="round"/>
<line x1="1458.6" y1="920.3" x2="1457.5" y2="926.6" stroke="#c2c2c2" stroke-width="4.1" stroke-linecap="round"/>
<line x1="1456.7" y1="931.2" x2="1455.5" y2="937.7" stroke="#c2c2c2" stroke-width="4.1" stroke-linecap="round"/>
<line x1="1454.7" y1="942.5" x2="1453.4" y2="949.3" stroke="#c2c2c2" stroke-width="4.2" stroke-linecap="round"/>
<line x1="1452.6" y1="954.2" x2="1451.3" y2="961.3" stroke="#c2c2c2" stroke-width="4.3" stroke-linecap="round"/>
<line x1="1450.4" y1="966.5" x2="1449.1" y2="973.9" stroke="#c2c2c2" stroke-width="4.4" stroke-linecap="round"/>
<line x1="1448.1" y1="979.3" x2="1446.7" y2="986.9" stroke="#c2c2c2" stroke-width="4.4" stroke-linecap="round"/>
<line x1="1445.7" y1="992.6" x2="1444.3" y2="1000.6" stroke="#c2c2c2" stroke-width="4.5" stroke-linecap="round"/>
<line x1="1443.2" y1="1006.5" x2="1441.8" y2="1014.9" stroke="#c2c2c2" stroke-width="4.6" stroke-linecap="round"/>
<line x1="1440.7" y1="1021.0" x2="1439.1" y2="1029.7" stroke="#c2c2c2" stroke-width="4.7" stroke-linecap="round"/>
<line x1="1438.0" y1="1036.2" x2="1436.3" y2="1045.3" stroke="#c2c2c2" stroke-width="4.8" stroke-linecap="round"/>
<line x1="1435.1" y1="1052.0" x2="1433.4" y2="1061.6" stroke="#c2c2c2" stroke-width="4.9" stroke-linecap="round"/>
<line x1="1432.2" y1="1068.7" x2="1430.4" y2="1078.7" stroke="#c2c2c2" stroke-width="5.1" stroke-linecap="round"/>
<line x1="1429.1" y1="1086.1" x2="1427.2" y2="1096.6" stroke="#c2c2c2" stroke-width="5.2" stroke-linecap="round"/>
<line x1="1425.8" y1="1104.4" x2="1423.8" y2="1115.4" stroke="#c2c2c2" stroke-width="5.3" stroke-linecap="round"/>
<line x1="1422.4" y1="1123.6" x2="1420.3" y2="1135.2" stroke="#c2c2c2" stroke-width="5.4" stroke-linecap="round"/>
<line x1="1418.8" y1="1143.8" x2="1416.6" y2="1156.0" stroke="#c2c2c2" stroke-width="5.6" stroke-linecap="round"/>
<line x1="1415.0" y1="1165.0" x2="1412.7" y2="1177.9" stroke="#c2c2c2" stroke-width="5.8" stroke-linecap="round"/>
<line x1="1411.0" y1="1187.4" x2="1408.6" y2="1201.0" stroke="#c2c2c2" stroke-width="5.9" stroke-linecap="round"/>
<line x1="1406.8" y1="1211.0" x2="1404.2" y2="1225.4" stroke="#c2c2c2" stroke-width="6.1" stroke-linecap="round"/>
<line x1="1402.3" y1="1236.0" x2="1401.0" y2="1243.7" stroke="#c2c2c2" stroke-width="6.3" stroke-linecap="round"/>
<line x1="1554.7" y1="726.3" x2="1554.4" y2="729.0" stroke="#c2c2c2" stroke-width="2.9" stroke-linecap="round"/>
<line x1="1554.2" y1="730.9" x2="1554.0" y2="733.7" stroke="#c2c2c2" stroke-width="3.0" stroke-linecap="round"/>
<line x1="1553.8" y1="735.7" x2="1553.5" y2="738.5" stroke="#c2c2c2" stroke-width="3.0" stroke-linecap="round"/>
<line x1="1553.3" y1="740.6" x2="1553.0" y2="743.5" stroke="#c2c2c2" stroke-width="3.0" stroke-linecap="round"/>
<line x1="1552.7" y1="745.6" x2="1552.4" y2="748.6" stroke="#c2c2c2" stroke-width="3.1" stroke-linecap="round"/>
<line x1="1552.2" y1="750.8" x2="1551.9" y2="753.9" stroke="#c2c2c2" stroke-width="3.1" stroke-linecap="round"/>
<line x1="1551.7" y1="756.2" x2="1551.3" y2="759.4" stroke="#c2c2c2" stroke-width="3.1" stroke-linecap="round"/>
<line x1="1551.1" y1="761.7" x2="1550.8" y2="765.0" stroke="#c2c2c2" stroke-width="3.1" stroke-linecap="round"/>
<line x1="1550.5" y1="767.4" x2="1550.2" y2="770.8" stroke="#c2c2c2" stroke-width="3.2" stroke-linecap="round"/>
<line x1="1549.9" y1="773.3" x2="1549.6" y2="776.8" stroke="#c2c2c2" stroke-width="3.2" stroke-linecap="round"/>
<line x1="1549.3" y1="779.3" x2="1548.9" y2="782.9" stroke="#c2c2c2" stroke-width="3.3" stroke-linecap="round"/>
<line x1="1548.7" y1="785.6" x2="1548.3" y2="789.3" stroke="#c2c2c2" stroke-width="3.3" stroke-linecap="round"/>
<line x1="1548.0" y1="792.0" x2="1547.6" y2="795.9" stroke="#c2c2c2" stroke-width="3.3" stroke-linecap="round"/>
<line x1="1547.3" y1="798.7" x2="1546.9" y2="802.7" stroke="#c2c2c2" stroke-width="3.4" stroke-linecap="round"/>
<line x1="1546.6" y1="805.6" x2="1546.2" y2="809.7" stroke="#c2c2c2" stroke-width="3.4" stroke-linecap="round"/>
<line x1="1545.9" y1="812.7" x2="1545.5" y2="817.0" stroke="#c2c2c2" stroke-width="3.5" stroke-linecap="round"/>
<line x1="1545.2" y1="820.1" x2="1544.7" y2="824.5" stroke="#c2c2c2" stroke-width="3.5" stroke-linecap="round"/>
<line x1="1544.4" y1="827.7" x2="1543.9" y2="832.3" stroke="#c2c2c2" stroke-width="3.6" stroke-linecap="round"/>
<line x1="1543.6" y1="835.6" x2="1543.1" y2="840.3" stroke="#c2c2c2" stroke-width="3.6" stroke-linecap="round"/>
<line x1="1542.7" y1="843.8" x2="1542.2" y2="848.6" stroke="#c2c2c2" stroke-width="3.7" stroke-linecap="round"/>
<line x1="1541.9" y1="852.2" x2="1541.4" y2="857.3" stroke="#c2c2c2" stroke-width="3.7" stroke-linecap="round"/>
<line x1="1541.0" y1="861.0" x2="1540.4" y2="866.2" stroke="#c2c2c2" stroke-width="3.8" stroke-linecap="round"/>
<line x1="1540.1" y1="870.1" x2="1539.5" y2="875.5" stroke="#c2c2c2" stroke-width="3.8" stroke-linecap="round"/>
<line x1="1539.1" y1="879.5" x2="1538.5" y2="885.2" stroke="#c2c2c2" stroke-width="3.9" stroke-linecap="round"/>
<line x1="1538.1" y1="889.3" x2="1537.5" y2="895.2" stroke="#c2c2c2" stroke-width="3.9" stroke-linecap="round"/>
<line x1="1537.1" y1="899.5" x2="1536.4" y2="905.6" stroke="#c2c2c2" stroke-width="4.0" stroke-linecap="round"/>
<line x1="1536.0" y1="910.1" x2="1535.3" y2="916.4" stroke="#c2c2c2" stroke-width="4.1" stroke-linecap="round"/>
<line x1="1534.9" y1="921.1" x2="1534.2" y2="927.7" stroke="#c2c2c2" stroke-width="4.2" stroke-linecap="round"/>
<line x1="1533.7" y1="932.5" x2="1533.0" y2="939.4" stroke="#c2c2c2" stroke-width="4.2" stroke-linecap="round"/>
<line x1="1532.5" y1="944.4" x2="1531.7" y2="951.6" stroke="#c2c2c2" stroke-width="4.3" stroke-linecap="round"/>
<line x1="1531.2" y1="956.9" x2="1530.4" y2="964.3" stroke="#c2c2c2" stroke-width="4.4" stroke-linecap="round"/>
<line x1="1529.9" y1="969.8" x2="1529.1" y2="977.6" stroke="#c2c2c2" stroke-width="4.5" stroke-linecap="round"/>
<line x1="1528.5" y1="983.3" x2="1527.7" y2="991.4" stroke="#c2c2c2" stroke-width="4.6" stroke-linecap="round"/>
<line x1="1527.1" y1="997.4" x2="1526.2" y2="1005.9" stroke="#c2c2c2" stroke-width="4.7" stroke-linecap="round"/>
<line x1="1525.6" y1="1012.2" x2="1524.7" y2="1021.1" stroke="#c2c2c2" stroke-width="4.8" stroke-linecap="round"/>
<line x1="1524.0" y1="1027.6" x2="1523.1" y2="1036.9" stroke="#c2c2c2" stroke-width="4.9" stroke-linecap="round"/>
<line x1="1522.4" y1="1043.7" x2="1521.4" y2="1053.5" stroke="#c2c2c2" stroke-width="5.0" stroke-linecap="round"/>
<line x1="1520.6" y1="1060.7" x2="1519.6" y2="1070.9" stroke="#c2c2c2" stroke-width="5.1" stroke-linecap="round"/>
<line x1="1518.8" y1="1078.4" x2="1517.7" y2="1089.1" stroke="#c2c2c2" stroke-width="5.2" stroke-linecap="round"/>
<line x1="1516.9" y1="1097.0" x2="1515.8" y2="1108.3" stroke="#c2c2c2" stroke-width="5.4" stroke-linecap="round"/>
<line x1="1514.9" y1="1116.6" x2="1513.7" y2="1128.5" stroke="#c2c2c2" stroke-width="5.5" stroke-linecap="round"/>
<line x1="1512.8" y1="1137.2" x2="1511.6" y2="1149.7" stroke="#c2c2c2" stroke-width="5.7" stroke-linecap="round"/>
<line x1="1510.6" y1="1158.9" x2="1509.3" y2="1172.1" stroke="#c2c2c2" stroke-width="5.8" stroke-linecap="round"/>
<line x1="1508.3" y1="1181.8" x2="1506.9" y2="1195.8" stroke="#c2c2c2" stroke-width="6.0" stroke-linecap="round"/>
<line x1="1505.8" y1="1206.0" x2="1505.1" y2="1213.5" stroke="#c2c2c2" stroke-width="6.2" stroke-linecap="round"/>
<line x1="1618.5" y1="710.3" x2="1618.4" y2="712.9" stroke="#c2c2c2" stroke-width="2.9" stroke-linecap="round"/>
<line x1="1618.3" y1="714.8" x2="1618.3" y2="717.5" stroke="#c2c2c2" stroke-width="2.9" stroke-linecap="round"/>
<line x1="1618.2" y1="719.4" x2="1618.2" y2="722.2" stroke="#c2c2c2" stroke-width="3.0" stroke-linecap="round"/>
<line x1="1618.1" y1="724.2" x2="1618.1" y2="727.0" stroke="#c2c2c2" stroke-width="3.0" stroke-linecap="round"/>
<line x1="1618.0" y1="729.1" x2="1617.9" y2="732.0" stroke="#c2c2c2" stroke-width="3.0" stroke-linecap="round"/>
<line x1="1617.9" y1="734.2" x2="1617.8" y2="737.2" stroke="#c2c2c2" stroke-width="3.1" stroke-linecap="round"/>
<line x1="1617.8" y1="739.4" x2="1617.7" y2="742.5" stroke="#c2c2c2" stroke-width="3.1" stroke-linecap="round"/>
<line x1="1617.6" y1="744.8" x2="1617.6" y2="748.0" stroke="#c2c2c2" stroke-width="3.1" stroke-linecap="round"/>
<line x1="1617.5" y1="750.3" x2="1617.4" y2="753.6" stroke="#c2c2c2" stroke-width="3.2" stroke-linecap="round"/>
<line x1="1617.4" y1="756.0" x2="1617.3" y2="759.5" stroke="#c2c2c2" stroke-width="3.2" stroke-linecap="round"/>
<line x1="1617.2" y1="761.9" x2="1617.2" y2="765.5" stroke="#c2c2c2" stroke-width="3.2" stroke-linecap="round"/>
<line x1="1617.1" y1="768.0" x2="1617.0" y2="771.7" stroke="#c2c2c2" stroke-width="3.3" stroke-linecap="round"/>
<line x1="1617.0" y1="774.3" x2="1616.9" y2="778.1" stroke="#c2c2c2" stroke-width="3.3" stroke-linecap="round"/>
<line x1="1616.8" y1="780.8" x2="1616.7" y2="784.7" stroke="#c2c2c2" stroke-width="3.3" stroke-linecap="round"/>
<line x1="1616.7" y1="787.5" x2="1616.6" y2="791.5" stroke="#c2c2c2" stroke-width="3.4" stroke-linecap="round"/>
<line x1="1616.5" y1="794.5" x2="1616.4" y2="798.6" stroke="#c2c2c2" stroke-width="3.4" stroke-linecap="round"/>
<line x1="1616.3" y1="801.7" x2="1616.2" y2="805.9" stroke="#c2c2c2" stroke-width="3.5" stroke-linecap="round"/>
<line x1="1616.1" y1="809.1" x2="1616.0" y2="813.5" stroke="#c2c2c2" stroke-width="3.5" stroke-linecap="round"/>
<line x1="1616.0" y1="816.8" x2="1615.9" y2="821.4" stroke="#c2c2c2" stroke-width="3.6" stroke-linecap="round"/>
<line x1="1615.8" y1="824.7" x2="1615.7" y2="829.5" stroke="#c2c2c2" stroke-width="3.6" stroke-linecap="round"/>
<line x1="1615.6" y1="832.9" x2="1615.5" y2="837.9" stroke="#c2c2c2" stroke-width="3.7" stroke-linecap="round"/>
<line x1="1615.4" y1="841.5" x2="1615.3" y2="846.6" stroke="#c2c2c2" stroke-width="3.7" stroke-linecap="round"/>
<line x1="1615.2" y1="850.3" x2="1615.1" y2="855.6" stroke="#c2c2c2" stroke-width="3.8" stroke-linecap="round"/>
<line x1="1615.0" y1="859.5" x2="1614.8" y2="865.0" stroke="#c2c2c2" stroke-width="3.8" stroke-linecap="round"/>
<line x1="1614.8" y1="869.1" x2="1614.6" y2="874.8" stroke="#c2c2c2" stroke-width="3.9" stroke-linecap="round"/>
<line x1="1614.5" y1="879.0" x2="1614.4" y2="884.9" stroke="#c2c2c2" stroke-width="4.0" stroke-linecap="round"/>
<line x1="1614.3" y1="889.3" x2="1614.1" y2="895.4" stroke="#c2c2c2" stroke-width="4.0" stroke-linecap="round"/>
<line x1="1614.0" y1="900.0" x2="1613.9" y2="906.4" stroke="#c2c2c2" stroke-width="4.1" stroke-linecap="round"/>
<line x1="1613.8" y1="911.1" x2="1613.6" y2="917.8" stroke="#c2c2c2" stroke-width="4.2" stroke-linecap="round"/>
<line x1="1613.5" y1="922.7" x2="1613.3" y2="929.6" stroke="#c2c2c2" stroke-width="4.3" stroke-linecap="round"/>
<line x1="1613.2" y1="934.7" x2="1613.1" y2="942.0" stroke="#c2c2c2" stroke-width="4.3" stroke-linecap="round"/>
<line x1="1612.9" y1="947.3" x2="1612.8" y2="954.9" stroke="#c2c2c2" stroke-width="4.4" stroke-linecap="round"/>
<line x1="1612.6" y1="960.5" x2="1612.4" y2="968.4" stroke="#c2c2c2" stroke-width="4.5" stroke-linecap="round"/>
<line x1="1612.3" y1="974.2" x2="1612.1" y2="982.4" stroke="#c2c2c2" stroke-width="4.6" stroke-linecap="round"/>
<line x1="1612.0" y1="988.5" x2="1611.8" y2="997.1" stroke="#c2c2c2" stroke-width="4.7" stroke-linecap="round"/>
<line x1="1611.6" y1="1003.5" x2="1611.4" y2="1012.5" stroke="#c2c2c2" stroke-width="4.8" stroke-linecap="round"/>
<line x1="1611.3" y1="1019.2" x2="1611.0" y2="1028.6" stroke="#c2c2c2" stroke-width="4.9" stroke-linecap="round"/>
<line x1="1610.9" y1="1035.6" x2="1610.6" y2="1045.5" stroke="#c2c2c2" stroke-width="5.1" stroke-linecap="round"/>
<line x1="1610.5" y1="1052.8" x2="1610.2" y2="1063.2" stroke="#c2c2c2" stroke-width="5.2" stroke-linecap="round"/>
<line x1="1610.0" y1="1070.9" x2="1609.8" y2="1081.8" stroke="#c2c2c2" stroke-width="5.3" stroke-linecap="round"/>
<line x1="1609.6" y1="1089.9" x2="1609.3" y2="1101.4" stroke="#c2c2c2" stroke-width="5.5" stroke-linecap="round"/>
<line x1="1609.1" y1="1109.9" x2="1608.9" y2="1122.0" stroke="#c2c2c2" stroke-width="5.6" stroke-linecap="round"/>
<line x1="1608.6" y1="1130.9" x2="1608.3" y2="1143.7" stroke="#c2c2c2" stroke-width="5.8" stroke-linecap="round"/>
<line x1="1608.1" y1="1153.1" x2="1607.8" y2="1166.6" stroke="#c2c2c2" stroke-width="5.9" stroke-linecap="round"/>
<line x1="1607.6" y1="1176.6" x2="1607.4" y2="1183.9" stroke="#c2c2c2" stroke-width="6.1" stroke-linecap="round"/>
<line x1="1681.5" y1="694.4" x2="1681.7" y2="697.0" stroke="#c2c2c2" stroke-width="2.9" stroke-linecap="round"/>
<line x1="1681.8" y1="698.8" x2="1681.9" y2="701.4" stroke="#c2c2c2" stroke-width="2.9" stroke-linecap="round"/>
<line x1="1682.1" y1="703.3" x2="1682.2" y2="706.0" stroke="#c2c2c2" stroke-width="2.9" stroke-linecap="round"/>
<line x1="1682.3" y1="708.0" x2="1682.5" y2="710.8" stroke="#c2c2c2" stroke-width="3.0" stroke-linecap="round"/>
<line x1="1682.6" y1="712.8" x2="1682.8" y2="715.6" stroke="#c2c2c2" stroke-width="3.0" stroke-linecap="round"/>
<line x1="1682.9" y1="717.7" x2="1683.1" y2="720.7" stroke="#c2c2c2" stroke-width="3.0" stroke-linecap="round"/>
<line x1="1683.2" y1="722.8" x2="1683.4" y2="725.8" stroke="#c2c2c2" stroke-width="3.1" stroke-linecap="round"/>
<line x1="1683.5" y1="728.0" x2="1683.7" y2="731.2" stroke="#c2c2c2" stroke-width="3.1" stroke-linecap="round"/>
<line x1="1683.8" y1="733.4" x2="1684.0" y2="736.7" stroke="#c2c2c2" stroke-width="3.1" stroke-linecap="round"/>
<line x1="1684.1" y1="739.0" x2="1684.3" y2="742.3" stroke="#c2c2c2" stroke-width="3.2" stroke-linecap="round"/>
<line x1="1684.4" y1="744.8" x2="1684.6" y2="748.2" stroke="#c2c2c2" stroke-width="3.2" stroke-linecap="round"/>
<line x1="1684.8" y1="750.7" x2="1685.0" y2="754.2" stroke="#c2c2c2" stroke-width="3.2" stroke-linecap="round"/>
<line x1="1685.1" y1="756.8" x2="1685.4" y2="760.5" stroke="#c2c2c2" stroke-width="3.3" stroke-linecap="round"/>
<line x1="1685.5" y1="763.2" x2="1685.7" y2="766.9" stroke="#c2c2c2" stroke-width="3.3" stroke-linecap="round"/>
<line x1="1685.9" y1="769.7" x2="1686.1" y2="773.6" stroke="#c2c2c2" stroke-width="3.4" stroke-linecap="round"/>
<line x1="1686.3" y1="776.5" x2="1686.5" y2="780.5" stroke="#c2c2c2" stroke-width="3.4" stroke-linecap="round"/>
<line x1="1686.7" y1="783.4" x2="1686.9" y2="787.6" stroke="#c2c2c2" stroke-width="3.4" stroke-linecap="round"/>
<line x1="1687.1" y1="790.7" x2="1687.3" y2="795.0" stroke="#c2c2c2" stroke-width="3.5" stroke-linecap="round"/>
<line x1="1687.5" y1="798.1" x2="1687.8" y2="802.6" stroke="#c2c2c2" stroke-width="3.5" stroke-linecap="round"/>
<line x1="1688.0" y1="805.9" x2="1688.2" y2="810.5" stroke="#c2c2c2" stroke-width="3.6" stroke-linecap="round"/>
<line x1="1688.4" y1="813.9" x2="1688.7" y2="818.7" stroke="#c2c2c2" stroke-width="3.6" stroke-linecap="round"/>
<line x1="1688.9" y1="822.2" x2="1689.2" y2="827.2" stroke="#c2c2c2" stroke-width="3.7" stroke-linecap="round"/>
<line x1="1689.4" y1="830.8" x2="1689.7" y2="836.0" stroke="#c2c2c2" stroke-width="3.7" stroke-linecap="round"/>
<line x1="1689.9" y1="839.8" x2="1690.2" y2="845.1" stroke="#c2c2c2" stroke-width="3.8" stroke-linecap="round"/>
<line x1="1690.5" y1="849.1" x2="1690.8" y2="854.6" stroke="#c2c2c2" stroke-width="3.9" stroke-linecap="round"/>
<line x1="1691.0" y1="858.7" x2="1691.4" y2="864.5" stroke="#c2c2c2" stroke-width="3.9" stroke-linecap="round"/>
<line x1="1691.6" y1="868.7" x2="1691.9" y2="874.7" stroke="#c2c2c2" stroke-width="4.0" stroke-linecap="round"/>
<line x1="1692.2" y1="879.1" x2="1692.6" y2="885.3" stroke="#c2c2c2" stroke-width="4.1" stroke-linecap="round"/>
<line x1="1692.8" y1="889.9" x2="1693.2" y2="896.4" stroke="#c2c2c2" stroke-width="4.1" stroke-linecap="round"/>
<line x1="1693.5" y1="901.2" x2="1693.9" y2="908.0" stroke="#c2c2c2" stroke-width="4.2" stroke-linecap="round"/>
<line x1="1694.1" y1="912.9" x2="1694.6" y2="920.0" stroke="#c2c2c2" stroke-width="4.3" stroke-linecap="round"/>
<line x1="1694.9" y1="925.2" x2="1695.3" y2="932.5" stroke="#c2c2c2" stroke-width="4.4" stroke-linecap="round"/>
<line x1="1695.6" y1="937.9" x2="1696.0" y2="945.6" stroke="#c2c2c2" stroke-width="4.5" stroke-linecap="round"/>
<line x1="1696.4" y1="951.2" x2="1696.8" y2="959.3" stroke="#c2c2c2" stroke-width="4.6" stroke-linecap="round"/>
<line x1="1697.2" y1="965.2" x2="1697.6" y2="973.5" stroke="#c2c2c2" stroke-width="4.7" stroke-linecap="round"/>
<line x1="1698.0" y1="979.7" x2="1698.5" y2="988.5" stroke="#c2c2c2" stroke-width="4.8" stroke-linecap="round"/>
<line x1="1698.9" y1="994.9" x2="1699.4" y2="1004.1" stroke="#c2c2c2" stroke-width="4.9" stroke-linecap="round"/>
<line x1="1699.8" y1="1010.9" x2="1700.4" y2="1020.5" stroke="#c2c2c2" stroke-width="5.0" stroke-linecap="round"/>
<line x1="1700.8" y1="1027.6" x2="1701.3" y2="1037.7" stroke="#c2c2c2" stroke-width="5.1" stroke-linecap="round"/>
<line x1="1701.8" y1="1045.1" x2="1702.4" y2="1055.8" stroke="#c2c2c2" stroke-width="5.3" stroke-linecap="round"/>
<line x1="1702.8" y1="1063.6" x2="1703.5" y2="1074.8" stroke="#c2c2c2" stroke-width="5.4" stroke-linecap="round"/>
<line x1="1704.0" y1="1083.0" x2="1704.6" y2="1094.7" stroke="#c2c2c2" stroke-width="5.5" stroke-linecap="round"/>
<line x1="1705.1" y1="1103.4" x2="1705.8" y2="1115.8" stroke="#c2c2c2" stroke-width="5.7" stroke-linecap="round"/>
<line x1="1706.4" y1="1124.9" x2="1707.1" y2="1138.0" stroke="#c2c2c2" stroke-width="5.9" stroke-linecap="round"/>
<line x1="1707.7" y1="1147.6" x2="1708.1" y2="1154.7" stroke="#c2c2c2" stroke-width="6.0" stroke-linecap="round"/>
<line x1="1744.0" y1="678.7" x2="1744.3" y2="681.2" stroke="#c2c2c2" stroke-width="2.9" stroke-linecap="round"/>
<line x1="1744.6" y1="683.0" x2="1744.9" y2="685.5" stroke="#c2c2c2" stroke-width="2.9" stroke-linecap="round"/>
<line x1="1745.2" y1="687.4" x2="1745.6" y2="690.0" stroke="#c2c2c2" stroke-width="2.9" stroke-linecap="round"/>
<line x1="1745.8" y1="691.9" x2="1746.2" y2="694.6" stroke="#c2c2c2" stroke-width="2.9" stroke-linecap="round"/>
<line x1="1746.5" y1="696.6" x2="1746.9" y2="699.4" stroke="#c2c2c2" stroke-width="3.0" stroke-linecap="round"/>
<line x1="1747.2" y1="701.4" x2="1747.6" y2="704.3" stroke="#c2c2c2" stroke-width="3.0" stroke-linecap="round"/>
<line x1="1747.9" y1="706.4" x2="1748.3" y2="709.3" stroke="#c2c2c2" stroke-width="3.0" stroke-linecap="round"/>
<line x1="1748.6" y1="711.5" x2="1749.0" y2="714.5" stroke="#c2c2c2" stroke-width="3.1" stroke-linecap="round"/>
<line x1="1749.4" y1="716.7" x2="1749.8" y2="719.9" stroke="#c2c2c2" stroke-width="3.1" stroke-linecap="round"/>
<line x1="1750.1" y1="722.2" x2="1750.6" y2="725.4" stroke="#c2c2c2" stroke-width="3.1" stroke-linecap="round"/>
<line x1="1750.9" y1="727.8" x2="1751.4" y2="731.1" stroke="#c2c2c2" stroke-width="3.2" stroke-linecap="round"/>
<line x1="1751.7" y1="733.6" x2="1752.2" y2="737.0" stroke="#c2c2c2" stroke-width="3.2" stroke-linecap="round"/>
<line x1="1752.6" y1="739.5" x2="1753.1" y2="743.1" stroke="#c2c2c2" stroke-width="3.2" stroke-linecap="round"/>
<line x1="1753.4" y1="745.7" x2="1754.0" y2="749.4" stroke="#c2c2c2" stroke-width="3.3" stroke-linecap="round"/>
<line x1="1754.3" y1="752.1" x2="1754.9" y2="755.9" stroke="#c2c2c2" stroke-width="3.3" stroke-linecap="round"/>
<line x1="1755.3" y1="758.6" x2="1755.8" y2="762.6" stroke="#c2c2c2" stroke-width="3.4" stroke-linecap="round"/>
<line x1="1756.2" y1="765.4" x2="1756.8" y2="769.5" stroke="#c2c2c2" stroke-width="3.4" stroke-linecap="round"/>
<line x1="1757.2" y1="772.5" x2="1757.8" y2="776.7" stroke="#c2c2c2" stroke-width="3.5" stroke-linecap="round"/>
<line x1="1758.2" y1="779.8" x2="1758.9" y2="784.1" stroke="#c2c2c2" stroke-width="3.5" stroke-linecap="round"/>
<line x1="1759.3" y1="787.3" x2="1759.9" y2="791.8" stroke="#c2c2c2" stroke-width="3.6" stroke-linecap="round"/>
<line x1="1760.4" y1="795.1" x2="1761.1" y2="799.8" stroke="#c2c2c2" stroke-width="3.6" stroke-linecap="round"/>
<line x1="1761.6" y1="803.2" x2="1762.2" y2="808.0" stroke="#c2c2c2" stroke-width="3.7" stroke-linecap="round"/>
<line x1="1762.7" y1="811.6" x2="1763.4" y2="816.6" stroke="#c2c2c2" stroke-width="3.7" stroke-linecap="round"/>
<line x1="1764.0" y1="820.3" x2="1764.7" y2="825.5" stroke="#c2c2c2" stroke-width="3.8" stroke-linecap="round"/>
<line x1="1765.2" y1="829.3" x2="1766.0" y2="834.7" stroke="#c2c2c2" stroke-width="3.8" stroke-linecap="round"/>
<line x1="1766.6" y1="838.7" x2="1767.4" y2="844.3" stroke="#c2c2c2" stroke-width="3.9" stroke-linecap="round"/>
<line x1="1767.9" y1="848.4" x2="1768.8" y2="854.2" stroke="#c2c2c2" stroke-width="4.0" stroke-linecap="round"/>
<line x1="1769.4" y1="858.5" x2="1770.2" y2="864.6" stroke="#c2c2c2" stroke-width="4.0" stroke-linecap="round"/>
<line x1="1770.9" y1="869.0" x2="1771.7" y2="875.4" stroke="#c2c2c2" stroke-width="4.1" stroke-linecap="round"/>
<line x1="1772.4" y1="880.0" x2="1773.3" y2="886.6" stroke="#c2c2c2" stroke-width="4.2" stroke-linecap="round"/>
<line x1="1774.0" y1="891.4" x2="1775.0" y2="898.2" stroke="#c2c2c2" stroke-width="4.3" stroke-linecap="round"/>
<line x1="1775.7" y1="903.3" x2="1776.7" y2="910.4" stroke="#c2c2c2" stroke-width="4.3" stroke-linecap="round"/>
<line x1="1777.4" y1="915.7" x2="1778.5" y2="923.1" stroke="#c2c2c2" stroke-width="4.4" stroke-linecap="round"/>
<line x1="1779.3" y1="928.6" x2="1780.4" y2="936.4" stroke="#c2c2c2" stroke-width="4.5" stroke-linecap="round"/>
<line x1="1781.2" y1="942.1" x2="1782.3" y2="950.3" stroke="#c2c2c2" stroke-width="4.6" stroke-linecap="round"/>
<line x1="1783.2" y1="956.3" x2="1784.4" y2="964.8" stroke="#c2c2c2" stroke-width="4.7" stroke-linecap="round"/>
<line x1="1785.3" y1="971.0" x2="1786.5" y2="980.0" stroke="#c2c2c2" stroke-width="4.8" stroke-linecap="round"/>
<line x1="1787.4" y1="986.5" x2="1788.8" y2="995.9" stroke="#c2c2c2" stroke-width="4.9" stroke-linecap="round"/>
<line x1="1789.7" y1="1002.8" x2="1791.1" y2="1012.6" stroke="#c2c2c2" stroke-width="5.1" stroke-linecap="round"/>
<line x1="1792.1" y1="1019.8" x2="1793.6" y2="1030.1" stroke="#c2c2c2" stroke-width="5.2" stroke-linecap="round"/>
<line x1="1794.7" y1="1037.7" x2="1796.2" y2="1048.5" stroke="#c2c2c2" stroke-width="5.3" stroke-linecap="round"/>
<line x1="1797.3" y1="1056.5" x2="1798.9" y2="1067.9" stroke="#c2c2c2" stroke-width="5.5" stroke-linecap="round"/>
<line x1="1800.1" y1="1076.3" x2="1801.8" y2="1088.3" stroke="#c2c2c2" stroke-width="5.6" stroke-linecap="round"/>
<line x1="1803.1" y1="1097.1" x2="1804.8" y2="1109.8" stroke="#c2c2c2" stroke-width="5.8" stroke-linecap="round"/>
<line x1="1806.2" y1="1119.1" x2="1807.1" y2="1126.0" stroke="#c2c2c2" stroke-width="6.0" stroke-linecap="round"/>
<line x1="1805.8" y1="663.2" x2="1806.3" y2="665.6" stroke="#c2c2c2" stroke-width="2.8" stroke-linecap="round"/>
<line x1="1806.7" y1="667.3" x2="1807.3" y2="669.8" stroke="#c2c2c2" stroke-width="2.9" stroke-linecap="round"/>
<line x1="1807.7" y1="671.6" x2="1808.3" y2="674.2" stroke="#c2c2c2" stroke-width="2.9" stroke-linecap="round"/>
<line x1="1808.7" y1="676.1" x2="1809.3" y2="678.7" stroke="#c2c2c2" stroke-width="2.9" stroke-linecap="round"/>
<line x1="1809.7" y1="680.6" x2="1810.4" y2="683.3" stroke="#c2c2c2" stroke-width="3.0" stroke-linecap="round"/>
<line x1="1810.8" y1="685.3" x2="1811.4" y2="688.1" stroke="#c2c2c2" stroke-width="3.0" stroke-linecap="round"/>
<line x1="1811.9" y1="690.1" x2="1812.6" y2="693.0" stroke="#c2c2c2" stroke-width="3.0" stroke-linecap="round"/>
<line x1="1813.0" y1="695.1" x2="1813.7" y2="698.1" stroke="#c2c2c2" stroke-width="3.0" stroke-linecap="round"/>
<line x1="1814.2" y1="700.2" x2="1814.9" y2="703.3" stroke="#c2c2c2" stroke-width="3.1" stroke-linecap="round"/>
<line x1="1815.4" y1="705.5" x2="1816.1" y2="708.7" stroke="#c2c2c2" stroke-width="3.1" stroke-linecap="round"/>
<line x1="1816.6" y1="711.0" x2="1817.4" y2="714.2" stroke="#c2c2c2" stroke-width="3.1" stroke-linecap="round"/>
<line x1="1817.9" y1="716.6" x2="1818.7" y2="720.0" stroke="#c2c2c2" stroke-width="3.2" stroke-linecap="round"/>
<line x1="1819.2" y1="722.4" x2="1820.0" y2="725.9" stroke="#c2c2c2" stroke-width="3.2" stroke-linecap="round"/>
<line x1="1820.6" y1="728.4" x2="1821.4" y2="732.0" stroke="#c2c2c2" stroke-width="3.3" stroke-linecap="round"/>
<line x1="1822.0" y1="734.6" x2="1822.9" y2="738.3" stroke="#c2c2c2" stroke-width="3.3" stroke-linecap="round"/>
<line x1="1823.5" y1="741.0" x2="1824.3" y2="744.9" stroke="#c2c2c2" stroke-width="3.3" stroke-linecap="round"/>
<line x1="1825.0" y1="747.6" x2="1825.9" y2="751.6" stroke="#c2c2c2" stroke-width="3.4" stroke-linecap="round"/>
<line x1="1826.5" y1="754.5" x2="1827.5" y2="758.6" stroke="#c2c2c2" stroke-width="3.4" stroke-linecap="round"/>
<line x1="1828.2" y1="761.6" x2="1829.1" y2="765.8" stroke="#c2c2c2" stroke-width="3.5" stroke-linecap="round"/>
<line x1="1829.8" y1="768.9" x2="1830.8" y2="773.3" stroke="#c2c2c2" stroke-width="3.5" stroke-linecap="round"/>
<line x1="1831.5" y1="776.5" x2="1832.6" y2="781.1" stroke="#c2c2c2" stroke-width="3.6" stroke-linecap="round"/>
<line x1="1833.3" y1="784.4" x2="1834.4" y2="789.1" stroke="#c2c2c2" stroke-width="3.6" stroke-linecap="round"/>
<line x1="1835.2" y1="792.5" x2="1836.3" y2="797.4" stroke="#c2c2c2" stroke-width="3.7" stroke-linecap="round"/>
<line x1="1837.1" y1="801.0" x2="1838.3" y2="806.1" stroke="#c2c2c2" stroke-width="3.7" stroke-linecap="round"/>
<line x1="1839.1" y1="809.8" x2="1840.3" y2="815.0" stroke="#c2c2c2" stroke-width="3.8" stroke-linecap="round"/>
<line x1="1841.2" y1="818.9" x2="1842.4" y2="824.3" stroke="#c2c2c2" stroke-width="3.9" stroke-linecap="round"/>
<line x1="1843.3" y1="828.3" x2="1844.6" y2="834.0" stroke="#c2c2c2" stroke-width="3.9" stroke-linecap="round"/>
<line x1="1845.6" y1="838.2" x2="1846.9" y2="844.1" stroke="#c2c2c2" stroke-width="4.0" stroke-linecap="round"/>
<line x1="1847.9" y1="848.4" x2="1849.3" y2="854.6" stroke="#c2c2c2" stroke-width="4.1" stroke-linecap="round"/>
<line x1="1850.3" y1="859.1" x2="1851.8" y2="865.4" stroke="#c2c2c2" stroke-width="4.1" stroke-linecap="round"/>
<line x1="1852.8" y1="870.1" x2="1854.3" y2="876.8" stroke="#c2c2c2" stroke-width="4.2" stroke-linecap="round"/>
<line x1="1855.5" y1="881.7" x2="1857.0" y2="888.6" stroke="#c2c2c2" stroke-width="4.3" stroke-linecap="round"/>
<line x1="1858.2" y1="893.7" x2="1859.8" y2="901.0" stroke="#c2c2c2" stroke-width="4.4" stroke-linecap="round"/>
<line x1="1861.0" y1="906.3" x2="1862.8" y2="913.9" stroke="#c2c2c2" stroke-width="4.5" stroke-linecap="round"/>
<line x1="1864.0" y1="919.4" x2="1865.8" y2="927.3" stroke="#c2c2c2" stroke-width="4.6" stroke-linecap="round"/>
<line x1="1867.2" y1="933.1" x2="1869.0" y2="941.4" stroke="#c2c2c2" stroke-width="4.7" stroke-linecap="round"/>
<line x1="1870.4" y1="947.5" x2="1872.4" y2="956.2" stroke="#c2c2c2" stroke-width="4.8" stroke-linecap="round"/>
<line x1="1873.8" y1="962.5" x2="1875.9" y2="971.6" stroke="#c2c2c2" stroke-width="4.9" stroke-linecap="round"/>
<line x1="1877.4" y1="978.3" x2="1879.6" y2="987.8" stroke="#c2c2c2" stroke-width="5.0" stroke-linecap="round"/>
<line x1="1881.2" y1="994.8" x2="1883.4" y2="1004.8" stroke="#c2c2c2" stroke-width="5.1" stroke-linecap="round"/>
<line x1="1885.1" y1="1012.1" x2="1887.5" y2="1022.6" stroke="#c2c2c2" stroke-width="5.3" stroke-linecap="round"/>
<line x1="1889.3" y1="1030.4" x2="1891.8" y2="1041.4" stroke="#c2c2c2" stroke-width="5.4" stroke-linecap="round"/>
<line x1="1893.6" y1="1049.6" x2="1896.3" y2="1061.2" stroke="#c2c2c2" stroke-width="5.6" stroke-linecap="round"/>
<line x1="1898.2" y1="1069.8" x2="1901.0" y2="1082.1" stroke="#c2c2c2" stroke-width="5.7" stroke-linecap="round"/>
<line x1="1903.1" y1="1091.1" x2="1904.6" y2="1097.7" stroke="#c2c2c2" stroke-width="5.9" stroke-linecap="round"/>
<line x1="1867.0" y1="647.8" x2="1867.7" y2="650.2" stroke="#c2c2c2" stroke-width="2.8" stroke-linecap="round"/>
<line x1="1868.2" y1="651.9" x2="1869.0" y2="654.3" stroke="#c2c2c2" stroke-width="2.8" stroke-linecap="round"/>
<line x1="1869.6" y1="656.0" x2="1870.4" y2="658.5" stroke="#c2c2c2" stroke-width="2.9" stroke-linecap="round"/>
<line x1="1870.9" y1="660.4" x2="1871.7" y2="662.9" stroke="#c2c2c2" stroke-width="2.9" stroke-linecap="round"/>
<line x1="1872.3" y1="664.8" x2="1873.2" y2="667.4" stroke="#c2c2c2" stroke-width="2.9" stroke-linecap="round"/>
<line x1="1873.8" y1="669.3" x2="1874.6" y2="672.1" stroke="#c2c2c2" stroke-width="3.0" stroke-linecap="round"/>
<line x1="1875.3" y1="674.1" x2="1876.1" y2="676.9" stroke="#c2c2c2" stroke-width="3.0" stroke-linecap="round"/>
<line x1="1876.8" y1="678.9" x2="1877.7" y2="681.8" stroke="#c2c2c2" stroke-width="3.0" stroke-linecap="round"/>
<line x1="1878.4" y1="683.9" x2="1879.3" y2="686.9" stroke="#c2c2c2" stroke-width="3.0" stroke-linecap="round"/>
<line x1="1880.0" y1="689.0" x2="1881.0" y2="692.1" stroke="#c2c2c2" stroke-width="3.1" stroke-linecap="round"/>
<line x1="1881.7" y1="694.4" x2="1882.7" y2="697.5" stroke="#c2c2c2" stroke-width="3.1" stroke-linecap="round"/>
<line x1="1883.4" y1="699.8" x2="1884.4" y2="703.1" stroke="#c2c2c2" stroke-width="3.1" stroke-linecap="round"/>
<line x1="1885.2" y1="705.5" x2="1886.3" y2="708.9" stroke="#c2c2c2" stroke-width="3.2" stroke-linecap="round"/>
<line x1="1887.0" y1="711.3" x2="1888.2" y2="714.8" stroke="#c2c2c2" stroke-width="3.2" stroke-linecap="round"/>
<line x1="1889.0" y1="717.4" x2="1890.1" y2="721.0" stroke="#c2c2c2" stroke-width="3.3" stroke-linecap="round"/>
<line x1="1890.9" y1="723.6" x2="1892.1" y2="727.3" stroke="#c2c2c2" stroke-width="3.3" stroke-linecap="round"/>
<line x1="1893.0" y1="730.1" x2="1894.2" y2="733.9" stroke="#c2c2c2" stroke-width="3.3" stroke-linecap="round"/>
<line x1="1895.1" y1="736.7" x2="1896.3" y2="740.7" stroke="#c2c2c2" stroke-width="3.4" stroke-linecap="round"/>
<line x1="1897.3" y1="743.6" x2="1898.6" y2="747.7" stroke="#c2c2c2" stroke-width="3.4" stroke-linecap="round"/>
<line x1="1899.5" y1="750.7" x2="1900.9" y2="755.0" stroke="#c2c2c2" stroke-width="3.5" stroke-linecap="round"/>
<line x1="1901.8" y1="758.1" x2="1903.2" y2="762.6" stroke="#c2c2c2" stroke-width="3.5" stroke-linecap="round"/>
<line x1="1904.3" y1="765.8" x2="1905.7" y2="770.4" stroke="#c2c2c2" stroke-width="3.6" stroke-linecap="round"/>
<line x1="1906.8" y1="773.7" x2="1908.3" y2="778.5" stroke="#c2c2c2" stroke-width="3.6" stroke-linecap="round"/>
<line x1="1909.4" y1="781.9" x2="1910.9" y2="786.9" stroke="#c2c2c2" stroke-width="3.7" stroke-linecap="round"/>
<line x1="1912.1" y1="790.5" x2="1913.7" y2="795.6" stroke="#c2c2c2" stroke-width="3.8" stroke-linecap="round"/>
<line x1="1914.9" y1="799.3" x2="1916.6" y2="804.7" stroke="#c2c2c2" stroke-width="3.8" stroke-linecap="round"/>
<line x1="1917.8" y1="808.5" x2="1919.5" y2="814.1" stroke="#c2c2c2" stroke-width="3.9" stroke-linecap="round"/>
<line x1="1920.8" y1="818.1" x2="1922.6" y2="823.8" stroke="#c2c2c2" stroke-width="3.9" stroke-linecap="round"/>
<line x1="1923.9" y1="828.0" x2="1925.8" y2="834.0" stroke="#c2c2c2" stroke-width="4.0" stroke-linecap="round"/>
<line x1="1927.2" y1="838.4" x2="1929.2" y2="844.6" stroke="#c2c2c2" stroke-width="4.1" stroke-linecap="round"/>
<line x1="1930.6" y1="849.2" x2="1932.7" y2="855.6" stroke="#c2c2c2" stroke-width="4.2" stroke-linecap="round"/>
<line x1="1934.2" y1="860.4" x2="1936.3" y2="867.1" stroke="#c2c2c2" stroke-width="4.3" stroke-linecap="round"/>
<line x1="1937.9" y1="872.1" x2="1940.1" y2="879.1" stroke="#c2c2c2" stroke-width="4.3" stroke-linecap="round"/>
<line x1="1941.7" y1="884.3" x2="1944.1" y2="891.6" stroke="#c2c2c2" stroke-width="4.4" stroke-linecap="round"/>
<line x1="1945.8" y1="897.0" x2="1948.2" y2="904.7" stroke="#c2c2c2" stroke-width="4.5" stroke-linecap="round"/>
<line x1="1950.0" y1="910.4" x2="1952.5" y2="918.4" stroke="#c2c2c2" stroke-width="4.6" stroke-linecap="round"/>
<line x1="1954.4" y1="924.3" x2="1957.0" y2="932.7" stroke="#c2c2c2" stroke-width="4.7" stroke-linecap="round"/>
<line x1="1959.0" y1="938.9" x2="1961.8" y2="947.7" stroke="#c2c2c2" stroke-width="4.8" stroke-linecap="round"/>
<line x1="1963.8" y1="954.1" x2="1966.7" y2="963.4" stroke="#c2c2c2" stroke-width="4.9" stroke-linecap="round"/>
<line x1="1968.9" y1="970.2" x2="1972.0" y2="979.9" stroke="#c2c2c2" stroke-width="5.1" stroke-linecap="round"/>
<line x1="1974.2" y1="987.0" x2="1977.4" y2="997.2" stroke="#c2c2c2" stroke-width="5.2" stroke-linecap="round"/>
<line x1="1979.8" y1="1004.7" x2="1983.2" y2="1015.4" stroke="#c2c2c2" stroke-width="5.3" stroke-linecap="round"/>
<line x1="1985.7" y1="1023.3" x2="1989.2" y2="1034.6" stroke="#c2c2c2" stroke-width="5.5" stroke-linecap="round"/>
<line x1="1991.9" y1="1042.9" x2="1995.6" y2="1054.8" stroke="#c2c2c2" stroke-width="5.6" stroke-linecap="round"/>
<line x1="1998.4" y1="1063.5" x2="2000.4" y2="1069.9" stroke="#c2c2c2" stroke-width="5.8" stroke-linecap="round"/>
<line x1="1927.5" y1="632.6" x2="1928.4" y2="634.9" stroke="#c2c2c2" stroke-width="2.8" stroke-linecap="round"/>
<line x1="1929.1" y1="636.5" x2="1930.1" y2="638.9" stroke="#c2c2c2" stroke-width="2.8" stroke-linecap="round"/>
<line x1="1930.8" y1="640.6" x2="1931.8" y2="643.0" stroke="#c2c2c2" stroke-width="2.8" stroke-linecap="round"/>
<line x1="1932.5" y1="644.8" x2="1933.5" y2="647.3" stroke="#c2c2c2" stroke-width="2.9" stroke-linecap="round"/>
<line x1="1934.3" y1="649.1" x2="1935.3" y2="651.7" stroke="#c2c2c2" stroke-width="2.9" stroke-linecap="round"/>
<line x1="1936.1" y1="653.6" x2="1937.2" y2="656.2" stroke="#c2c2c2" stroke-width="2.9" stroke-linecap="round"/>
<line x1="1937.9" y1="658.1" x2="1939.1" y2="660.9" stroke="#c2c2c2" stroke-width="3.0" stroke-linecap="round"/>
<line x1="1939.9" y1="662.9" x2="1941.0" y2="665.7" stroke="#c2c2c2" stroke-width="3.0" stroke-linecap="round"/>
<line x1="1941.9" y1="667.7" x2="1943.0" y2="670.6" stroke="#c2c2c2" stroke-width="3.0" stroke-linecap="round"/>
<line x1="1943.9" y1="672.7" x2="1945.1" y2="675.7" stroke="#c2c2c2" stroke-width="3.1" stroke-linecap="round"/>
<line x1="1946.0" y1="677.9" x2="1947.3" y2="681.0" stroke="#c2c2c2" stroke-width="3.1" stroke-linecap="round"/>
<line x1="1948.2" y1="683.3" x2="1949.5" y2="686.4" stroke="#c2c2c2" stroke-width="3.1" stroke-linecap="round"/>
<line x1="1950.4" y1="688.8" x2="1951.8" y2="692.0" stroke="#c2c2c2" stroke-width="3.2" stroke-linecap="round"/>
<line x1="1952.8" y1="694.4" x2="1954.1" y2="697.8" stroke="#c2c2c2" stroke-width="3.2" stroke-linecap="round"/>
<line x1="1955.1" y1="700.3" x2="1956.6" y2="703.8" stroke="#c2c2c2" stroke-width="3.2" stroke-linecap="round"/>
<line x1="1957.6" y1="706.4" x2="1959.1" y2="710.0" stroke="#c2c2c2" stroke-width="3.3" stroke-linecap="round"/>
<line x1="1960.2" y1="712.7" x2="1961.7" y2="716.4" stroke="#c2c2c2" stroke-width="3.3" stroke-linecap="round"/>
<line x1="1962.8" y1="719.1" x2="1964.4" y2="723.0" stroke="#c2c2c2" stroke-width="3.4" stroke-linecap="round"/>
<line x1="1965.6" y1="725.8" x2="1967.2" y2="729.9" stroke="#c2c2c2" stroke-width="3.4" stroke-linecap="round"/>
<line x1="1968.4" y1="732.8" x2="1970.1" y2="736.9" stroke="#c2c2c2" stroke-width="3.5" stroke-linecap="round"/>
<line x1="1971.3" y1="740.0" x2="1973.1" y2="744.3" stroke="#c2c2c2" stroke-width="3.5" stroke-linecap="round"/>
<line x1="1974.4" y1="747.4" x2="1976.2" y2="751.9" stroke="#c2c2c2" stroke-width="3.6" stroke-linecap="round"/>
<line x1="1977.5" y1="755.1" x2="1979.4" y2="759.8" stroke="#c2c2c2" stroke-width="3.6" stroke-linecap="round"/>
<line x1="1980.8" y1="763.1" x2="1982.7" y2="767.9" stroke="#c2c2c2" stroke-width="3.7" stroke-linecap="round"/>
<line x1="1984.2" y1="771.4" x2="1986.2" y2="776.4" stroke="#c2c2c2" stroke-width="3.7" stroke-linecap="round"/>
<line x1="1987.7" y1="780.0" x2="1989.8" y2="785.2" stroke="#c2c2c2" stroke-width="3.8" stroke-linecap="round"/>
<line x1="1991.3" y1="789.0" x2="1993.5" y2="794.4" stroke="#c2c2c2" stroke-width="3.8" stroke-linecap="round"/>
<line x1="1995.1" y1="798.3" x2="1997.4" y2="803.9" stroke="#c2c2c2" stroke-width="3.9" stroke-linecap="round"/>
<line x1="1999.0" y1="807.9" x2="2001.4" y2="813.7" stroke="#c2c2c2" stroke-width="4.0" stroke-linecap="round"/>
<line x1="2003.2" y1="818.0" x2="2005.6" y2="824.0" stroke="#c2c2c2" stroke-width="4.1" stroke-linecap="round"/>
<line x1="2007.4" y1="828.5" x2="2010.0" y2="834.7" stroke="#c2c2c2" stroke-width="4.1" stroke-linecap="round"/>
<line x1="2011.9" y1="839.4" x2="2014.5" y2="845.9" stroke="#c2c2c2" stroke-width="4.2" stroke-linecap="round"/>
<line x1="2016.5" y1="850.7" x2="2019.3" y2="857.6" stroke="#c2c2c2" stroke-width="4.3" stroke-linecap="round"/>
<line x1="2021.3" y1="862.6" x2="2024.2" y2="869.7" stroke="#c2c2c2" stroke-width="4.4" stroke-linecap="round"/>
<line x1="2026.4" y1="874.9" x2="2029.4" y2="882.4" stroke="#c2c2c2" stroke-width="4.5" stroke-linecap="round"/>
<line x1="2031.7" y1="887.9" x2="2034.8" y2="895.7" stroke="#c2c2c2" stroke-width="4.6" stroke-linecap="round"/>
<line x1="2037.2" y1="901.4" x2="2040.5" y2="909.6" stroke="#c2c2c2" stroke-width="4.7" stroke-linecap="round"/>
<line x1="2042.9" y1="915.5" x2="2046.4" y2="924.1" stroke="#c2c2c2" stroke-width="4.8" stroke-linecap="round"/>
<line x1="2049.0" y1="930.4" x2="2052.6" y2="939.3" stroke="#c2c2c2" stroke-width="4.9" stroke-linecap="round"/>
<line x1="2055.3" y1="945.9" x2="2059.2" y2="955.3" stroke="#c2c2c2" stroke-width="5.0" stroke-linecap="round"/>
<line x1="2062.0" y1="962.2" x2="2066.0" y2="972.1" stroke="#c2c2c2" stroke-width="5.1" stroke-linecap="round"/>
<line x1="2069.0" y1="979.4" x2="2073.2" y2="989.7" stroke="#c2c2c2" stroke-width="5.3" stroke-linecap="round"/>
<line x1="2076.3" y1="997.4" x2="2080.8" y2="1008.3" stroke="#c2c2c2" stroke-width="5.4" stroke-linecap="round"/>
<line x1="2084.1" y1="1016.4" x2="2088.8" y2="1027.9" stroke="#c2c2c2" stroke-width="5.6" stroke-linecap="round"/>
<line x1="2092.2" y1="1036.4" x2="2094.8" y2="1042.6" stroke="#c2c2c2" stroke-width="5.7" stroke-linecap="round"/>
<line x1="1987.5" y1="617.5" x2="1988.6" y2="619.7" stroke="#c2c2c2" stroke-width="2.8" stroke-linecap="round"/>
<line x1="1989.4" y1="621.4" x2="1990.6" y2="623.7" stroke="#c2c2c2" stroke-width="2.8" stroke-linecap="round"/>
<line x1="1991.4" y1="625.3" x2="1992.6" y2="627.7" stroke="#c2c2c2" stroke-width="2.8" stroke-linecap="round"/>
<line x1="1993.4" y1="629.4" x2="1994.7" y2="631.8" stroke="#c2c2c2" stroke-width="2.9" stroke-linecap="round"/>
<line x1="1995.6" y1="633.6" x2="1996.8" y2="636.1" stroke="#c2c2c2" stroke-width="2.9" stroke-linecap="round"/>
<line x1="1997.7" y1="637.9" x2="1999.0" y2="640.5" stroke="#c2c2c2" stroke-width="2.9" stroke-linecap="round"/>
<line x1="2000.0" y1="642.4" x2="2001.3" y2="645.1" stroke="#c2c2c2" stroke-width="2.9" stroke-linecap="round"/>
<line x1="2002.3" y1="647.0" x2="2003.7" y2="649.7" stroke="#c2c2c2" stroke-width="3.0" stroke-linecap="round"/>
<line x1="2004.7" y1="651.7" x2="2006.1" y2="654.6" stroke="#c2c2c2" stroke-width="3.0" stroke-linecap="round"/>
<line x1="2007.1" y1="656.6" x2="2008.6" y2="659.5" stroke="#c2c2c2" stroke-width="3.0" stroke-linecap="round"/>
<line x1="2009.7" y1="661.6" x2="2011.2" y2="664.7" stroke="#c2c2c2" stroke-width="3.1" stroke-linecap="round"/>
<line x1="2012.3" y1="666.8" x2="2013.8" y2="669.9" stroke="#c2c2c2" stroke-width="3.1" stroke-linecap="round"/>
<line x1="2015.0" y1="672.2" x2="2016.6" y2="675.4" stroke="#c2c2c2" stroke-width="3.1" stroke-linecap="round"/>
<line x1="2017.7" y1="677.7" x2="2019.4" y2="681.0" stroke="#c2c2c2" stroke-width="3.2" stroke-linecap="round"/>
<line x1="2020.6" y1="683.4" x2="2022.3" y2="686.9" stroke="#c2c2c2" stroke-width="3.2" stroke-linecap="round"/>
<line x1="2023.6" y1="689.4" x2="2025.4" y2="692.9" stroke="#c2c2c2" stroke-width="3.2" stroke-linecap="round"/>
<line x1="2026.6" y1="695.5" x2="2028.5" y2="699.1" stroke="#c2c2c2" stroke-width="3.3" stroke-linecap="round"/>
<line x1="2029.8" y1="701.8" x2="2031.7" y2="705.5" stroke="#c2c2c2" stroke-width="3.3" stroke-linecap="round"/>
<line x1="2033.1" y1="708.3" x2="2035.1" y2="712.2" stroke="#c2c2c2" stroke-width="3.4" stroke-linecap="round"/>
<line x1="2036.5" y1="715.0" x2="2038.5" y2="719.1" stroke="#c2c2c2" stroke-width="3.4" stroke-linecap="round"/>
<line x1="2040.0" y1="722.0" x2="2042.1" y2="726.2" stroke="#c2c2c2" stroke-width="3.5" stroke-linecap="round"/>
<line x1="2043.6" y1="729.3" x2="2045.8" y2="733.6" stroke="#c2c2c2" stroke-width="3.5" stroke-linecap="round"/>
<line x1="2047.4" y1="736.8" x2="2049.7" y2="741.3" stroke="#c2c2c2" stroke-width="3.6" stroke-linecap="round"/>
<line x1="2051.3" y1="744.5" x2="2053.7" y2="749.2" stroke="#c2c2c2" stroke-width="3.6" stroke-linecap="round"/>
<line x1="2055.4" y1="752.6" x2="2057.8" y2="757.4" stroke="#c2c2c2" stroke-width="3.7" stroke-linecap="round"/>
<line x1="2059.6" y1="761.0" x2="2062.1" y2="766.0" stroke="#c2c2c2" stroke-width="3.7" stroke-linecap="round"/>
<line x1="2064.0" y1="769.7" x2="2066.6" y2="774.9" stroke="#c2c2c2" stroke-width="3.8" stroke-linecap="round"/>
<line x1="2068.5" y1="778.7" x2="2071.2" y2="784.1" stroke="#c2c2c2" stroke-width="3.9" stroke-linecap="round"/>
<line x1="2073.2" y1="788.1" x2="2076.0" y2="793.7" stroke="#c2c2c2" stroke-width="3.9" stroke-linecap="round"/>
<line x1="2078.1" y1="797.9" x2="2081.1" y2="803.7" stroke="#c2c2c2" stroke-width="4.0" stroke-linecap="round"/>
<line x1="2083.2" y1="808.0" x2="2086.3" y2="814.1" stroke="#c2c2c2" stroke-width="4.1" stroke-linecap="round"/>
<line x1="2088.6" y1="818.6" x2="2091.8" y2="825.0" stroke="#c2c2c2" stroke-width="4.2" stroke-linecap="round"/>
<line x1="2094.1" y1="829.6" x2="2097.4" y2="836.3" stroke="#c2c2c2" stroke-width="4.2" stroke-linecap="round"/>
<line x1="2099.9" y1="841.1" x2="2103.4" y2="848.1" stroke="#c2c2c2" stroke-width="4.3" stroke-linecap="round"/>
<line x1="2105.9" y1="853.2" x2="2109.6" y2="860.4" stroke="#c2c2c2" stroke-width="4.4" stroke-linecap="round"/>
<line x1="2112.2" y1="865.7" x2="2116.0" y2="873.3" stroke="#c2c2c2" stroke-width="4.5" stroke-linecap="round"/>
<line x1="2118.8" y1="878.8" x2="2122.8" y2="886.7" stroke="#c2c2c2" stroke-width="4.6" stroke-linecap="round"/>
<line x1="2125.7" y1="892.5" x2="2129.9" y2="900.8" stroke="#c2c2c2" stroke-width="4.7" stroke-linecap="round"/>
<line x1="2133.0" y1="906.9" x2="2137.3" y2="915.6" stroke="#c2c2c2" stroke-width="4.8" stroke-linecap="round"/>
<line x1="2140.5" y1="922.0" x2="2145.1" y2="931.1" stroke="#c2c2c2" stroke-width="5.0" stroke-linecap="round"/>
<line x1="2148.5" y1="937.8" x2="2153.3" y2="947.4" stroke="#c2c2c2" stroke-width="5.1" stroke-linecap="round"/>
<line x1="2156.8" y1="954.4" x2="2161.9" y2="964.5" stroke="#c2c2c2" stroke-width="5.2" stroke-linecap="round"/>
<line x1="2165.6" y1="971.9" x2="2170.9" y2="982.5" stroke="#c2c2c2" stroke-width="5.4" stroke-linecap="round"/>
<line x1="2174.9" y1="990.3" x2="2180.5" y2="1001.4" stroke="#c2c2c2" stroke-width="5.5" stroke-linecap="round"/>
<line x1="2184.6" y1="1009.7" x2="2187.6" y2="1015.7" stroke="#c2c2c2" stroke-width="5.7" stroke-linecap="round"/>
<line x1="2046.8" y1="602.6" x2="2048.1" y2="604.8" stroke="#c2c2c2" stroke-width="2.8" stroke-linecap="round"/>
<line x1="2049.1" y1="606.3" x2="2050.4" y2="608.6" stroke="#c2c2c2" stroke-width="2.8" stroke-linecap="round"/>
<line x1="2051.4" y1="610.2" x2="2052.8" y2="612.5" stroke="#c2c2c2" stroke-width="2.8" stroke-linecap="round"/>
<line x1="2053.8" y1="614.2" x2="2055.2" y2="616.5" stroke="#c2c2c2" stroke-width="2.8" stroke-linecap="round"/>
<line x1="2056.2" y1="618.3" x2="2057.7" y2="620.7" stroke="#c2c2c2" stroke-width="2.9" stroke-linecap="round"/>
<line x1="2058.8" y1="622.5" x2="2060.3" y2="625.0" stroke="#c2c2c2" stroke-width="2.9" stroke-linecap="round"/>
<line x1="2061.4" y1="626.8" x2="2062.9" y2="629.4" stroke="#c2c2c2" stroke-width="2.9" stroke-linecap="round"/>
<line x1="2064.1" y1="631.3" x2="2065.7" y2="634.0" stroke="#c2c2c2" stroke-width="2.9" stroke-linecap="round"/>
<line x1="2066.8" y1="635.9" x2="2068.5" y2="638.7" stroke="#c2c2c2" stroke-width="3.0" stroke-linecap="round"/>
<line x1="2069.7" y1="640.7" x2="2071.4" y2="643.5" stroke="#c2c2c2" stroke-width="3.0" stroke-linecap="round"/>
<line x1="2072.6" y1="645.6" x2="2074.4" y2="648.5" stroke="#c2c2c2" stroke-width="3.0" stroke-linecap="round"/>
<line x1="2075.7" y1="650.6" x2="2077.5" y2="653.6" stroke="#c2c2c2" stroke-width="3.1" stroke-linecap="round"/>
<line x1="2078.8" y1="655.8" x2="2080.7" y2="658.9" stroke="#c2c2c2" stroke-width="3.1" stroke-linecap="round"/>
<line x1="2082.0" y1="661.2" x2="2084.0" y2="664.4" stroke="#c2c2c2" stroke-width="3.1" stroke-linecap="round"/>
<line x1="2085.4" y1="666.8" x2="2087.4" y2="670.1" stroke="#c2c2c2" stroke-width="3.2" stroke-linecap="round"/>
<line x1="2088.8" y1="672.5" x2="2090.9" y2="675.9" stroke="#c2c2c2" stroke-width="3.2" stroke-linecap="round"/>
<line x1="2092.4" y1="678.4" x2="2094.5" y2="682.0" stroke="#c2c2c2" stroke-width="3.3" stroke-linecap="round"/>
<line x1="2096.1" y1="684.6" x2="2098.3" y2="688.2" stroke="#c2c2c2" stroke-width="3.3" stroke-linecap="round"/>
<line x1="2099.9" y1="690.9" x2="2102.1" y2="694.7" stroke="#c2c2c2" stroke-width="3.3" stroke-linecap="round"/>
<line x1="2103.8" y1="697.5" x2="2106.2" y2="701.4" stroke="#c2c2c2" stroke-width="3.4" stroke-linecap="round"/>
<line x1="2107.9" y1="704.3" x2="2110.3" y2="708.3" stroke="#c2c2c2" stroke-width="3.4" stroke-linecap="round"/>
<line x1="2112.1" y1="711.3" x2="2114.7" y2="715.5" stroke="#c2c2c2" stroke-width="3.5" stroke-linecap="round"/>
<line x1="2116.5" y1="718.6" x2="2119.1" y2="723.0" stroke="#c2c2c2" stroke-width="3.5" stroke-linecap="round"/>
<line x1="2121.0" y1="726.2" x2="2123.8" y2="730.7" stroke="#c2c2c2" stroke-width="3.6" stroke-linecap="round"/>
<line x1="2125.7" y1="734.0" x2="2128.6" y2="738.7" stroke="#c2c2c2" stroke-width="3.6" stroke-linecap="round"/>
<line x1="2130.6" y1="742.1" x2="2133.6" y2="747.0" stroke="#c2c2c2" stroke-width="3.7" stroke-linecap="round"/>
<line x1="2135.7" y1="750.6" x2="2138.7" y2="755.7" stroke="#c2c2c2" stroke-width="3.8" stroke-linecap="round"/>
<line x1="2141.0" y1="759.4" x2="2144.1" y2="764.6" stroke="#c2c2c2" stroke-width="3.8" stroke-linecap="round"/>
<line x1="2146.5" y1="768.5" x2="2149.7" y2="774.0" stroke="#c2c2c2" stroke-width="3.9" stroke-linecap="round"/>
<line x1="2152.1" y1="778.0" x2="2155.6" y2="783.7" stroke="#c2c2c2" stroke-width="4.0" stroke-linecap="round"/>
<line x1="2158.1" y1="787.8" x2="2161.6" y2="793.8" stroke="#c2c2c2" stroke-width="4.0" stroke-linecap="round"/>
<line x1="2164.3" y1="798.1" x2="2168.0" y2="804.3" stroke="#c2c2c2" stroke-width="4.1" stroke-linecap="round"/>
<line x1="2170.7" y1="808.8" x2="2174.6" y2="815.3" stroke="#c2c2c2" stroke-width="4.2" stroke-linecap="round"/>
<line x1="2177.4" y1="820.0" x2="2181.4" y2="826.7" stroke="#c2c2c2" stroke-width="4.3" stroke-linecap="round"/>
<line x1="2184.4" y1="831.7" x2="2188.6" y2="838.7" stroke="#c2c2c2" stroke-width="4.4" stroke-linecap="round"/>
<line x1="2191.7" y1="843.8" x2="2196.1" y2="851.2" stroke="#c2c2c2" stroke-width="4.5" stroke-linecap="round"/>
<line x1="2199.4" y1="856.6" x2="2204.0" y2="864.2" stroke="#c2c2c2" stroke-width="4.6" stroke-linecap="round"/>
<line x1="2207.4" y1="869.9" x2="2212.2" y2="877.9" stroke="#c2c2c2" stroke-width="4.7" stroke-linecap="round"/>
<line x1="2215.7" y1="883.8" x2="2220.8" y2="892.2" stroke="#c2c2c2" stroke-width="4.8" stroke-linecap="round"/>
<line x1="2224.5" y1="898.4" x2="2229.8" y2="907.3" stroke="#c2c2c2" stroke-width="4.9" stroke-linecap="round"/>
<line x1="2233.7" y1="913.8" x2="2239.3" y2="923.0" stroke="#c2c2c2" stroke-width="5.0" stroke-linecap="round"/>
<line x1="2243.4" y1="929.9" x2="2249.2" y2="939.6" stroke="#c2c2c2" stroke-width="5.2" stroke-linecap="round"/>
<line x1="2253.6" y1="946.8" x2="2259.7" y2="957.0" stroke="#c2c2c2" stroke-width="5.3" stroke-linecap="round"/>
<line x1="2264.3" y1="964.6" x2="2270.7" y2="975.4" stroke="#c2c2c2" stroke-width="5.4" stroke-linecap="round"/>
<line x1="2275.5" y1="983.4" x2="2279.0" y2="989.2" stroke="#c2c2c2" stroke-width="5.6" stroke-linecap="round"/></g>
<polygon points="879.6,894.6 2105.2,586.6 2450.0,586.6 2450.0,1100.0 879.6,1100.0" fill="#fff"/><g clip-path="url(#f0)" fill="#fff">
<polygon points="889.0,840.7 932.7,797.8 947.0,775.2 959.8,767.7 968.9,754.1 976.4,748.9 989.2,742.1 999.0,730.8 1012.5,718.7 1020.8,712.0 1032.1,707.9 1048.7,692.4 1062.2,692.4 1080.0,675.1 1071.8,1012.0 891.1,1012.0"/>
<polygon points="938.7,796.3 954.5,779.7 959.8,768.4 968.9,754.1 983.9,752.2 990.7,742.5 999.0,732.3 1012.5,719.2 1024.6,717.7 1029.1,716.0 1042.7,705.2 1063.0,693.9 1080.0,684.8 1072.0,1012.0 939.3,1012.0"/>
<polygon points="947.0,835.5 961.3,801.6 975.6,797.0 991.4,770.7 1005.0,764.7 1020.8,746.6 1035.1,736.8 1050.2,715.7 1063.7,710.5 1080.0,693.1 1072.2,1012.0 947.2,1012.0"/>
<polygon points="1020.8,847.5 1030.6,819.6 1042.7,776.0 1057.7,764.7 1072.8,754.9 1080.0,742.1 1073.3,1012.0 1018.6,1012.0"/>
<polygon points="1013.3,806.1 1027.6,827.9 1035.1,806.8 1050.9,818.1 1068.3,788.8 1080.0,771.4 1074.0,1012.0 1010.8,1012.0"/>
<polygon points="1073.5,803.8 1080.0,788.0 1074.4,1012.0 1068.6,1012.0"/>
</g>
<g clip-path="url(#f1)" fill="#fff">
<polygon points="1070.0,681.6 1079.0,676.3 1106.1,660.5 1134.8,646.2 1179.9,611.5 1193.5,591.2 1207.8,589.7 1215.3,540.0 1217.6,509.9 1193.0,1012.0 1062.6,1012.0"/>
<polygon points="1070.0,688.3 1095.6,676.3 1129.9,656.4 1143.0,653.0 1144.5,654.5 1144.5,662.0 1131.8,1012.0 1062.7,1012.0"/>
<polygon points="1070.0,704.9 1080.5,694.4 1094.8,689.1 1110.7,678.6 1129.9,669.5 1139.7,666.2 1144.5,662.0 1158.9,652.2 1172.4,643.6 1172.4,634.9 1187.5,622.1 1201.0,615.3 1216.8,604.0 1243.2,590.5 1267.3,577.7 1273.3,570.1 1246.9,1012.0 1063.1,1012.0"/>
<polygon points="1172.4,643.6 1198.0,630.4 1211.6,618.6 1225.1,628.9 1241.7,599.5 1256.7,598.7 1267.3,577.7 1241.7,1012.0 1157.1,1012.0"/>
<polygon points="1062.5,768.9 1070.0,756.9 1089.6,725.2 1103.1,706.4 1133.3,680.8 1148.3,672.5 1207.0,639.4 1225.9,629.6 1250.7,615.3 1261.3,603.3 1273.3,599.5 1248.5,1012.0 1057.3,1012.0"/>
<polygon points="1074.5,779.9 1081.3,769.7 1086.6,768.9 1090.3,762.9 1098.6,765.9 1109.9,759.1 1125.7,731.3 1139.3,724.5 1156.6,702.7 1170.2,695.1 1186.0,672.5 1199.5,662.7 1215.3,650.7 1235.7,634.9 1247.0,631.1 1262.0,617.6 1273.3,617.1 1249.5,1012.0 1069.0,1012.0"/>
<polygon points="1090.3,762.9 1105.4,769.7 1118.2,764.4 1136.3,740.3 1164.9,731.3 1181.4,704.2 1195.0,696.6 1211.6,674.8 1226.6,663.5 1256.7,643.2 1273.3,637.1 1250.6,1012.0 1083.7,1012.0"/>
<polygon points="1130.2,785.5 1145.3,759.9 1160.4,759.1 1175.4,732.0 1189.0,723.0 1205.5,701.9 1220.6,694.4 1235.7,677.0 1249.2,668.0 1273.3,651.4 1251.4,1012.0 1122.4,1012.0"/>
<polygon points="1149.8,785.5 1169.4,765.2 1183.0,758.4 1199.5,740.3 1214.6,729.8 1229.6,717.0 1244.7,705.7 1262.0,686.8 1273.3,684.6 1253.3,1012.0 1141.1,1012.0"/>
<polygon points="1172.4,785.5 1207.0,762.9 1225.1,746.3 1240.2,740.3 1256.7,720.0 1273.3,716.2 1255.1,1012.0 1162.7,1012.0"/>
<polygon points="1198.0,785.5 1232.7,771.2 1250.0,755.4 1264.3,752.3 1273.3,743.3 1256.7,1012.0 1187.2,1012.0"/>
<polygon points="1234.2,532.5 1237.2,573.9 1240.9,532.5 1215.3,1012.0 1209.1,1012.0"/>
<polygon points="1265.8,532.5 1265.8,549.8 1238.9,1012.0 1237.9,1012.0"/>
</g>
<g clip-path="url(#f2)" fill="#fff">
<polygon points="1067.4,789.8 1080.1,771.3 1084.1,767.4 1077.8,1012.0 1062.4,1012.0"/>
<polygon points="1074.0,803.4 1087.6,767.4 1081.1,1012.0 1069.0,1012.0"/>
<polygon points="1083.6,813.9 1097.7,813.9 1113.1,790.7 1128.4,789.8 1140.3,767.4 1131.4,1012.0 1078.5,1012.0"/>
<polygon points="1121.4,818.8 1137.7,805.1 1153.5,781.4 1166.7,767.4 1156.5,1012.0 1115.0,1012.0"/>
<polygon points="1161.8,807.8 1177.2,782.3 1198.3,767.4 1186.6,1012.0 1153.5,1012.0"/>
<polygon points="1203.6,781.9 1234.3,770.9 1241.4,767.4 1227.7,1012.0 1192.3,1012.0"/>
<polygon points="1249.3,892.1 1254.5,869.3 1272.1,784.9 1258.0,1012.0 1242.2,1012.0"/>
</g>
<g clip-path="url(#f3)" fill="#fff">
<polygon points="1227.3,807.8 1243.1,799.9 1258.9,779.7 1272.1,770.0 1257.1,1012.0 1216.3,1012.0"/>
</g>
<g clip-path="url(#f4)" fill="#fff">
<polygon points="1270.0,522.2 1273.8,475.5 1242.2,1012.0 1241.2,1012.0"/>
<polygon points="1270.0,570.4 1286.6,574.9 1286.6,562.1 1300.1,475.5 1265.9,1012.0 1243.8,1012.0"/>
<polygon points="1276.8,572.6 1286.6,562.8 1258.6,1012.0 1250.2,1012.0"/>
<polygon points="1313.7,475.5 1315.2,553.0 1324.2,475.5 1287.7,1012.0 1278.2,1012.0"/>
<polygon points="1265.5,601.2 1280.5,599.0 1297.1,577.1 1310.7,573.4 1328.7,537.2 1341.5,541.0 1357.3,493.6 1364.9,475.5 1324.3,1012.0 1241.4,1012.0"/>
<polygon points="1265.5,617.3 1276.0,616.3 1292.6,596.0 1306.1,599.0 1323.5,549.3 1336.3,579.4 1361.9,475.5 1321.6,1012.0 1242.2,1012.0"/>
<polygon points="1265.5,641.9 1286.6,623.1 1301.6,617.8 1318.2,602.7 1331.7,599.7 1349.8,553.8 1364.9,546.3 1379.2,544.0 1383.7,736.0 1360.8,1012.0 1243.6,1012.0"/>
<polygon points="1265.5,657.7 1297.1,638.1 1312.2,624.6 1328.0,619.3 1343.8,601.2 1360.4,580.2 1372.4,609.5 1378.4,736.0 1355.8,1012.0 1244.5,1012.0"/>
<polygon points="1265.5,686.3 1276.8,684.8 1292.6,667.5 1306.9,665.2 1323.5,648.7 1337.8,644.9 1354.3,623.8 1368.6,614.8 1375.4,736.0 1353.0,1012.0 1246.0,1012.0"/>
<polygon points="1265.5,725.5 1285.1,701.4 1300.9,699.9 1317.4,683.3 1331.7,680.3 1349.1,651.7 1360.4,687.1 1369.4,736.0 1347.3,1012.0 1248.3,1012.0"/>
<polygon points="1310.7,719.9 1327.2,716.4 1343.8,689.3 1357.3,736.0 1335.9,1012.0 1290.6,1012.0"/>
<polygon points="1377.7,475.5 1384.5,504.1 1386.0,510.1 1387.8,736.0 1364.7,1012.0 1335.9,1012.0"/>
<polygon points="1399.5,475.5 1401.0,544.8 1407.0,605.0 1423.6,570.4 1437.2,569.6 1452.2,572.6 1473.3,585.4 1431.8,1012.0 1355.6,1012.0"/>
<polygon points="1416.1,475.5 1401.0,543.3 1362.0,1012.0 1370.5,1012.0"/>
<polygon points="1423.6,475.5 1425.1,567.3 1441.7,538.0 1452.2,571.9 1466.5,561.3 1473.3,564.3 1429.9,1012.0 1377.3,1012.0"/>
</g>
<g clip-path="url(#f5)" fill="#fff">
<polygon points="1266.4,720.1 1279.5,706.4 1260.4,1012.0 1248.8,1012.0"/>
<polygon points="1266.4,751.7 1281.9,735.0 1296.2,735.6 1311.7,718.9 1326.1,716.6 1334.4,706.4 1312.1,1012.0 1250.6,1012.0"/>
<polygon points="1266.4,795.3 1286.7,791.1 1302.2,775.0 1317.1,773.2 1333.8,748.2 1359.4,809.0 1367.8,871.0 1401.2,826.9 1411.9,793.5 1420.3,767.2 1428.6,723.1 1434.6,706.4 1406.4,1012.0 1253.2,1012.0"/>
<polygon points="1351.1,706.4 1358.3,727.9 1365.4,757.7 1371.4,817.3 1373.8,850.7 1401.2,813.8 1415.5,776.8 1425.0,739.8 1429.8,724.3 1437.0,706.4 1408.7,1012.0 1327.8,1012.0"/>
<polygon points="1363.0,706.4 1367.8,745.8 1374.9,793.5 1377.9,834.0 1410.7,786.3 1420.3,755.3 1426.2,706.4 1398.6,1012.0 1339.0,1012.0"/>
<polygon points="1372.6,706.4 1377.3,745.8 1383.3,811.4 1414.3,766.1 1422.7,738.6 1431.0,706.4 1403.0,1012.0 1348.0,1012.0"/>
<polygon points="1377.3,706.4 1382.1,757.7 1385.1,805.4 1416.7,760.1 1425.0,733.9 1399.8,1012.0 1352.5,1012.0"/>
<polygon points="1384.5,706.4 1388.1,792.3 1419.1,745.8 1427.4,723.1 1444.1,706.4 1415.4,1012.0 1359.2,1012.0"/>
<polygon points="1394.0,856.1 1413.1,822.1 1433.4,774.4 1454.9,706.4 1425.5,1012.0 1380.5,1012.0"/>
<polygon points="1369.0,873.4 1403.6,829.3 1414.3,795.9 1425.0,761.3 1402.1,1012.0 1357.6,1012.0"/>
<polygon points="1425.0,721.9 1446.5,706.4 1417.6,1012.0 1398.8,1012.0"/>
<polygon points="1463.2,731.5 1472.7,713.6 1443.0,1012.0 1435.7,1012.0"/>
</g>
<g clip-path="url(#f6)" fill="#fff">
<polygon points="1266.4,773.2 1275.4,766.1 1290.9,764.3 1307.0,745.2 1321.3,746.4 1338.6,717.8 1352.3,749.4 1361.8,789.9 1372.0,859.1 1402.4,817.3 1408.3,800.6 1417.9,766.1 1422.7,760.1 1437.0,751.7 1442.9,743.4 1417.6,1012.0 1251.9,1012.0"/>
</g>
<g clip-path="url(#f7)" fill="#fff">
<polygon points="1295.0,817.3 1311.7,793.5 1328.4,779.8 1341.6,805.4 1354.7,828.1 1365.4,881.7 1411.9,823.3 1439.4,761.3 1452.5,732.7 1466.8,718.3 1472.7,712.4 1442.9,1012.0 1282.0,1012.0"/>
</g>
<g clip-path="url(#f8)" fill="#fff">
<polygon points="1237.9,569.5 1266.4,285.8 1265.5,569.5 1239.7,1012.0 1214.3,1012.0"/>
<polygon points="1263.0,569.5 1295.9,278.4 1355.6,266.7 1355.6,271.4 1360.3,330.2 1379.1,268.2 1408.1,262.8 1405.0,276.1 1401.1,514.6 1359.9,1012.0 1237.3,1012.0"/>
<polygon points="1319.5,514.6 1350.1,275.3 1354.0,279.2 1302.0,1012.0 1285.8,1012.0"/>
<polygon points="1347.7,514.6 1405.0,265.9 1345.4,1012.0 1311.4,1012.0"/>
<polygon points="1294.4,514.6 1310.8,398.5 1316.3,514.6 1282.9,1012.0 1263.0,1012.0"/>
<polygon points="1338.3,514.6 1374.4,456.5 1385.4,514.6 1345.6,1012.0 1302.9,1012.0"/>
<polygon points="1402.6,514.6 1422.2,448.7 1426.2,514.6 1382.7,1012.0 1361.3,1012.0"/>
<polygon points="1209.6,569.5 1228.5,453.4 1237.9,569.5 1214.3,1012.0 1188.4,1012.0"/>
<polygon points="1383.8,260.4 1383.8,266.7 1327.1,1012.0 1326.7,1012.0"/>
</g>
<g clip-path="url(#f9)" fill="#fff">
<polygon points="1533.7,529.4 1561.9,407.5 1561.9,456.6 1500.2,1012.0 1481.9,1012.0"/>
<polygon points="1562.9,529.4 1595.6,382.9 1594.7,425.7 1526.4,1012.0 1508.4,1012.0"/>
<polygon points="1604.7,529.4 1643.8,368.3 1663.9,333.8 1661.1,420.2 1585.2,1012.0 1546.5,1012.0"/>
<polygon points="1622.9,529.4 1673.9,386.5 1687.5,397.5 1694.8,461.2 1724.8,344.7 1718.5,447.5 1639.8,1012.0 1563.1,1012.0"/>
<polygon points="1659.3,529.4 1683.9,434.8 1683.0,493.0 1613.4,1012.0 1596.3,1012.0"/>
<polygon points="1668.4,529.4 1697.5,467.5 1712.1,468.5 1721.2,395.6 1635.8,1012.0 1604.6,1012.0"/>
<polygon points="1717.6,447.5 1738.5,395.6 1753.1,397.5 1765.8,275.5 1757.6,380.2 1783.1,301.0 1793.1,340.1 1783.1,460.3 1804.9,429.3 1714.8,1012.0 1639.0,1012.0"/>
<polygon points="1723.0,529.4 1752.1,419.3 1759.4,457.5 1768.5,437.5 1779.5,469.4 1804.9,429.3 1714.8,1012.0 1654.3,1012.0"/>
<polygon points="1606.5,529.4 1613.8,498.5 1620.2,529.4 1560.6,1012.0 1548.2,1012.0"/>
</g>
<g clip-path="url(#f10)" fill="#fff">
<polygon points="1537.4,520.3 1555.6,485.7 1562.9,453.0 1578.3,399.3 1597.1,370.2 1596.5,420.2 1527.5,1012.0 1484.3,1012.0"/>
<polygon points="1622.0,362.0 1642.9,240.4 1635.7,336.5 1553.3,1012.0 1544.0,1012.0"/>
</g>
<g clip-path="url(#f11)" fill="#fff">
<polygon points="1568.3,529.4 1612.0,369.3 1629.3,360.2 1656.6,266.4 1667.5,301.9 1664.8,332.9 1578.5,1012.0 1513.4,1012.0"/>
<polygon points="1678.4,387.5 1706.6,234.6 1691.2,412.9 1611.1,1012.0 1596.8,1012.0"/>
</g>
<g clip-path="url(#f12)" fill="#fff">
<polygon points="1497.2,559.7 1506.6,529.1 1517.9,534.7 1522.6,523.0 1525.4,530.5 1536.7,518.2 1543.3,487.2 1486.4,1012.0 1451.4,1012.0"/>
<polygon points="1497.2,591.7 1522.6,523.0 1471.1,1012.0 1454.4,1012.0"/>
<polygon points="1517.9,534.7 1529.2,546.5 1479.4,1012.0 1468.0,1012.0"/>
<polygon points="1549.9,487.2 1543.3,508.8 1536.7,519.2 1483.6,1012.0 1492.4,1012.0"/>
<polygon points="1574.4,487.2 1564.0,530.5 1546.1,559.7 1530.1,569.1 1513.2,603.0 1497.2,645.4 1459.4,1012.0 1514.5,1012.0"/>
<polygon points="1614.9,487.2 1613.0,497.5 1625.2,526.7 1639.4,487.2 1573.3,1012.0 1551.1,1012.0"/>
<polygon points="1615.8,487.2 1575.3,593.6 1571.6,590.3 1554.1,623.7 1552.3,627.9 1537.7,627.0 1522.6,645.4 1483.1,1012.0 1552.0,1012.0"/>
<polygon points="1613.9,497.5 1583.8,618.1 1575.3,595.5 1526.8,1012.0 1551.4,1012.0"/>
<polygon points="1554.1,623.7 1539.5,615.7 1518.8,645.4 1479.6,1012.0 1510.2,1012.0"/>
<polygon points="1662.0,518.2 1658.2,536.1 1641.2,543.7 1617.7,604.9 1599.8,612.4 1581.0,645.4 1537.5,1012.0 1597.4,1012.0"/>
<polygon points="1599.8,612.4 1595.1,645.4 1550.6,1012.0 1551.3,1012.0"/>
<polygon points="1641.2,645.4 1662.0,601.1 1607.4,1012.0 1593.6,1012.0"/>
</g>
<g clip-path="url(#f13)" fill="#fff">
<polygon points="1556.5,487.2 1536.7,521.1 1530.1,544.6 1516.9,588.9 1511.3,603.0 1497.2,618.1 1456.8,1012.0 1498.4,1012.0"/>
</g>
<g clip-path="url(#f14)" fill="#fff">
<polygon points="1580.0,487.2 1562.1,549.3 1560.3,555.0 1543.3,574.7 1525.4,608.6 1497.2,645.4 1459.4,1012.0 1519.6,1012.0"/>
</g>
<g clip-path="url(#f15)" fill="#fff">
<polygon points="1490.4,588.2 1467.8,632.6 1464.0,648.4 1454.2,662.0 1437.7,704.9 1426.4,723.0 1416.6,748.6 1393.0,1012.0 1447.8,1012.0"/>
<polygon points="1491.9,588.9 1478.4,635.6 1460.3,680.8 1440.7,714.0 1421.1,748.6 1397.3,1012.0 1449.3,1012.0"/>
<polygon points="1505.5,530.1 1488.9,605.5 1466.3,650.7 1449.7,695.9 1440.7,711.0 1412.6,1012.0 1456.2,1012.0"/>
<polygon points="1519.0,534.7 1504.0,584.4 1487.4,607.0 1476.9,635.6 1457.3,680.8 1443.7,711.0 1415.4,1012.0 1469.0,1012.0"/>
<polygon points="1564.3,500.0 1562.7,531.6 1545.4,560.3 1529.6,569.3 1516.0,598.0 1502.5,638.6 1463.7,1012.0 1506.7,1012.0"/>
<polygon points="1571.8,590.4 1554.0,624.2 1538.9,615.6 1520.6,643.9 1505.5,648.4 1488.9,658.2 1485.9,671.8 1451.4,1012.0 1523.0,1012.0"/>
<polygon points="1457.3,698.9 1475.3,687.6 1487.4,670.3 1504.0,665.8 1520.6,643.9 1536.4,628.1 1552.2,628.1 1554.0,624.2 1510.1,1012.0 1427.1,1012.0"/>
<polygon points="1650.0,540.7 1639.6,543.7 1617.0,605.5 1599.8,613.0 1580.8,646.9 1566.5,640.1 1548.4,659.0 1534.1,660.5 1516.0,674.1 1513.0,748.6 1484.6,1012.0 1589.1,1012.0"/>
<polygon points="1598.9,614.5 1587.6,686.9 1609.5,665.8 1627.5,662.0 1656.2,640.1 1606.8,1012.0 1550.7,1012.0"/>
<polygon points="1609.5,665.8 1611.0,653.7 1626.0,651.4 1644.1,642.4 1656.2,628.1 1605.3,1012.0 1566.3,1012.0"/>
<polygon points="1572.5,722.3 1591.4,715.5 1626.0,695.9 1656.2,677.8 1611.5,1012.0 1538.1,1012.0"/>
<polygon points="1496.4,709.5 1513.8,688.4 1530.3,683.1 1531.1,748.6 1501.7,1012.0 1465.0,1012.0"/>
<polygon points="1559.7,748.6 1574.8,694.4 1578.6,669.5 1577.8,692.9 1539.8,1012.0 1528.9,1012.0"/>
<polygon points="1535.6,748.6 1543.9,698.9 1544.7,748.6 1514.6,1012.0 1506.0,1012.0"/>
<polygon points="1464.8,730.6 1482.1,692.9 1483.6,748.6 1456.7,1012.0 1437.1,1012.0"/>
<polygon points="1629.1,748.6 1637.3,720.0 1656.2,727.5 1617.8,1012.0 1594.7,1012.0"/>
<polygon points="1400.0,549.7 1406.8,605.5 1424.1,570.8 1436.2,569.3 1452.0,573.8 1476.1,586.6 1491.2,587.4 1448.4,1012.0 1361.6,1012.0"/>
<polygon points="1424.1,495.5 1424.9,568.6 1441.4,538.4 1452.0,572.3 1466.3,561.0 1478.4,579.1 1479.1,586.6 1437.3,1012.0 1379.3,1012.0"/>
<polygon points="1491.2,587.4 1507.0,528.6 1519.0,535.4 1522.8,523.4 1525.1,531.6 1537.1,519.6 1548.4,500.0 1492.3,1012.0 1448.4,1012.0"/>
</g>
<g clip-path="url(#f16)" fill="#fff">
<polygon points="1529.6,545.2 1513.0,604.0 1495.7,619.0 1474.6,683.8 1456.5,698.9 1445.2,711.0 1416.8,1012.0 1479.7,1012.0"/>
</g>
<g clip-path="url(#f17)" fill="#fff">
<polygon points="1525.1,608.5 1502.5,638.6 1488.9,656.7 1475.3,695.9 1464.8,718.5 1451.2,733.6 1445.2,748.6 1420.2,1012.0 1481.7,1012.0"/>
</g>
<g clip-path="url(#f18)" fill="#fff">
<polygon points="1645.1,464.9 1673.7,386.5 1688.4,397.1 1694.9,460.0 1716.9,375.1 1629.5,1012.0 1575.9,1012.0"/>
<polygon points="1645.1,543.2 1656.5,538.0 1674.5,517.1 1684.3,494.2 1696.5,467.3 1712.8,469.0 1719.4,445.3 1721.8,394.7 1720.2,375.1 1632.3,1012.0 1584.9,1012.0"/>
<polygon points="1659.8,532.6 1683.5,435.5 1684.3,494.2 1614.7,1012.0 1597.1,1012.0"/>
<polygon points="1645.1,641.1 1664.7,598.7 1680.2,594.6 1702.2,555.5 1716.1,562.0 1752.8,420.0 1759.4,458.3 1677.9,1012.0 1596.6,1012.0"/>
<polygon points="1759.4,458.3 1768.3,437.9 1778.9,469.8 1802.6,418.4 1805.1,432.2 1809.1,482.8 1814.0,508.9 1824.6,500.0 1834.4,510.6 1836.1,515.5 1838.5,559.5 1764.0,1012.0 1677.9,1012.0"/>
<polygon points="1783.8,456.7 1789.5,375.1 1693.8,1012.0 1699.7,1012.0"/>
<polygon points="1805.1,432.2 1818.1,375.1 1719.1,1012.0 1715.3,1012.0"/>
<polygon points="1645.1,649.3 1677.7,623.2 1700.6,577.5 1713.7,598.7 1759.4,460.0 1678.1,1012.0 1597.6,1012.0"/>
<polygon points="1715.3,649.3 1747.9,588.9 1765.9,571.0 1792.8,500.8 1803.4,531.8 1824.6,499.1 1742.5,1012.0 1663.0,1012.0"/>
<polygon points="1699.0,649.3 1728.3,615.0 1785.5,566.1 1796.9,596.3 1816.5,571.8 1829.5,590.5 1837.7,561.2 1763.5,1012.0 1647.8,1012.0"/>
<polygon points="1774.0,649.3 1813.2,611.8 1831.2,592.2 1839.3,559.5 1856.5,510.6 1858.9,541.6 1865.4,528.5 1783.9,1012.0 1717.7,1012.0"/>
<polygon points="1856.5,513.8 1863.0,595.4 1889.9,523.6 1805.4,1012.0 1773.5,1012.0"/>
<polygon points="1837.7,649.3 1847.5,615.8 1852.4,649.3 1790.7,1012.0 1777.0,1012.0"/>
<polygon points="1850.8,649.3 1886.7,599.5 1960.1,569.3 1877.1,1012.0 1789.2,1012.0"/>
<polygon points="1911.1,649.3 1960.1,592.2 1881.1,1012.0 1845.5,1012.0"/>
</g>
<g clip-path="url(#f19)" fill="#fff">
<polygon points="1645.1,646.3 1659.8,636.5 1672.8,625.1 1620.4,1012.0 1597.3,1012.0"/>
<polygon points="1645.1,683.9 1657.3,675.7 1676.9,652.0 1691.6,652.8 1713.7,625.1 1658.3,1012.0 1601.9,1012.0"/>
<polygon points="1645.1,727.9 1652.4,727.1 1673.7,689.6 1689.2,685.5 1707.1,664.3 1733.2,625.1 1676.4,1012.0 1607.4,1012.0"/>
<polygon points="1645.1,746.7 1672.0,714.9 1690.8,700.2 1707.1,685.5 1725.9,665.1 1741.4,666.7 1759.4,652.0 1777.3,641.4 1796.9,625.1 1735.5,1012.0 1609.7,1012.0"/>
<polygon points="1702.2,762.2 1718.5,751.6 1740.6,680.6 1756.9,683.0 1777.3,664.3 1785.5,705.9 1805.9,679.0 1806.4,708.3 1756.8,1012.0 1666.1,1012.0"/>
<polygon points="1653.3,899.3 1667.1,874.8 1700.6,742.6 1720.2,724.7 1740.6,710.0 1758.5,698.5 1775.7,695.3 1788.7,713.2 1805.9,709.2 1821.4,700.2 1831.2,680.6 1845.9,625.1 1780.9,1012.0 1637.6,1012.0"/>
<polygon points="1722.6,762.2 1739.0,758.1 1756.9,749.1 1770.8,741.0 1774.0,727.1 1775.7,736.9 1788.7,756.5 1796.1,750.0 1805.9,725.5 1809.1,740.2 1825.5,733.6 1830.3,723.0 1845.9,679.0 1850.8,695.3 1863.8,694.5 1883.4,645.5 1901.3,656.1 1837.5,1012.0 1685.5,1012.0"/>
<polygon points="1734.9,758.9 1738.1,746.7 1739.8,757.3 1701.1,1012.0 1696.7,1012.0"/>
<polygon points="1830.3,723.0 1847.5,696.1 1863.8,694.5 1808.7,1012.0 1781.8,1012.0"/>
<polygon points="1863.8,694.5 1920.9,637.3 1930.7,625.1 1859.6,1012.0 1808.7,1012.0"/>
<polygon points="1845.9,625.1 1847.5,652.8 1786.7,1012.0 1780.9,1012.0"/>
<polygon points="1746.3,838.1 1772.4,780.2 1781.4,821.0 1750.5,1012.0 1719.2,1012.0"/>
<polygon points="1770.8,815.2 1785.5,822.6 1806.7,794.8 1831.2,776.1 1862.2,754.0 1881.8,741.0 1898.1,738.5 1960.1,683.9 1897.2,1012.0 1739.4,1012.0"/>
<polygon points="1785.5,822.6 1805.9,773.6 1811.6,789.1 1774.4,1012.0 1754.7,1012.0"/>
<polygon points="1831.2,776.1 1843.4,747.5 1849.1,763.8 1806.2,1012.0 1791.0,1012.0"/>
<polygon points="1865.4,751.6 1882.6,709.2 1890.7,737.7 1841.3,1012.0 1819.6,1012.0"/>
<polygon points="1898.1,737.7 1960.1,656.1 1892.3,1012.0 1848.3,1012.0"/>
<polygon points="1696.5,810.3 1703.0,872.4 1709.6,845.4 1684.8,1012.0 1667.3,1012.0"/>
<polygon points="1817.3,856.9 1836.1,841.4 1854.0,832.4 1877.7,793.2 1893.2,736.1 1843.3,1012.0 1790.9,1012.0"/>
<polygon points="1854.0,899.3 1893.2,736.1 1877.7,899.3 1857.0,1012.0 1833.9,1012.0"/>
<polygon points="1890.7,777.7 1901.3,763.8 1922.6,725.5 1939.7,724.7 1928.3,831.6 1960.1,773.6 1913.6,1012.0 1848.2,1012.0"/>
<polygon points="1891.6,878.1 1912.8,849.5 1917.7,852.8 1920.1,772.0 1913.6,849.5 1882.9,1012.0 1866.7,1012.0"/>
<polygon points="1838.5,854.4 1838.5,899.3 1818.7,1012.0 1811.1,1012.0"/>
</g>
<g clip-path="url(#f20)" fill="#fff">
<polygon points="1483.7,712.5 1478.8,873.7 1464.5,1012.0 1453.2,1012.0"/>
<polygon points="1513.0,712.5 1506.7,897.1 1494.1,1012.0 1480.9,1012.0"/>
<polygon points="1542.1,712.5 1527.1,786.3 1506.7,897.1 1494.1,1012.0 1508.3,1012.0"/>
<polygon points="1529.6,712.5 1527.8,780.3 1502.0,1012.0 1496.5,1012.0"/>
<polygon points="1538.4,723.0 1539.9,730.5 1550.4,776.5 1570.8,712.5 1535.3,1012.0 1505.9,1012.0"/>
<polygon points="1561.0,829.3 1577.5,824.0 1600.9,759.9 1609.2,825.5 1635.6,747.1 1651.4,740.3 1674.0,712.5 1632.7,1012.0 1539.2,1012.0"/>
<polygon points="1600.9,759.9 1611.4,799.9 1637.8,720.0 1652.9,726.0 1658.9,715.5 1618.8,1012.0 1569.3,1012.0"/>
<polygon points="1633.3,893.3 1645.4,918.9 1666.4,875.2 1683.0,810.4 1654.3,1012.0 1617.3,1012.0"/>
</g>
<g clip-path="url(#f21)" fill="#fff">
<polygon points="1656.1,898.7 1667.1,875.5 1674.2,853.5 1651.7,1012.0 1640.3,1012.0"/>
<polygon points="1700.0,853.5 1703.2,872.3 1709.1,853.5 1685.5,1012.0 1676.7,1012.0"/>
<polygon points="1838.4,853.5 1837.5,959.4 1865.2,853.5 1836.8,1012.0 1810.8,1012.0"/>
<polygon points="1880.1,853.5 1871.0,949.7 1889.8,879.4 1907.8,856.1 1878.6,1012.0 1851.2,1012.0"/>
<polygon points="1894.3,853.5 1889.8,879.4 1865.2,1012.0 1865.0,1012.0"/>
</g>
<g clip-path="url(#f22)" fill="#fff">
<polygon points="1935.9,617.3 1967.6,575.9 1885.1,1012.0 1863.0,1012.0"/>
<polygon points="1935.9,687.7 1956.6,660.1 1989.0,655.3 1919.1,1012.0 1875.2,1012.0"/>
<polygon points="1935.9,704.3 1957.3,684.3 1988.3,694.6 2116.7,611.1 2029.2,1012.0 1878.1,1012.0"/>
<polygon points="2088.4,629.7 2065.7,707.0 2062.9,709.1 2047.7,711.9 2024.9,740.2 2017.3,759.5 2006.3,807.8 1964.4,1012.0 2006.7,1012.0"/>
<polygon points="2022.9,807.8 2056.0,763.7 2076.0,731.2 2098.8,704.3 2119.5,684.3 2159.6,662.2 2194.8,642.8 2108.3,1012.0 1980.3,1012.0"/>
<polygon points="1938.6,807.8 1972.4,747.8 1987.6,771.2 2009.0,807.8 1967.0,1012.0 1899.4,1012.0"/>
<polygon points="1981.4,758.1 1986.3,737.4 1987.6,769.2 1989.7,756.1 1938.5,1012.0 1931.1,1012.0"/>
<polygon points="2000.8,800.9 2015.9,747.8 2009.0,807.8 1967.0,1012.0 1957.7,1012.0"/>
<polygon points="2089.1,807.8 2118.1,734.7 2125.7,773.3 2143.0,734.7 2160.9,727.1 2094.9,1012.0 2044.0,1012.0"/>
<polygon points="2143.0,736.0 2159.6,700.1 2185.8,658.0 2103.2,1012.0 2079.9,1012.0"/>
<polygon points="2057.4,807.8 2073.3,785.7 2075.3,807.8 2030.7,1012.0 2013.5,1012.0"/>
<polygon points="2078.1,807.8 2119.5,766.4 2141.6,742.9 2080.1,1012.0 2033.3,1012.0"/>
<polygon points="2130.6,807.8 2160.9,773.3 2181.6,765.7 2202.4,744.3 2138.0,1012.0 2083.7,1012.0"/>
<polygon points="2158.2,807.8 2185.8,791.3 2202.4,776.1 2145.3,1012.0 2110.3,1012.0"/>
</g>
<g clip-path="url(#f23)" fill="#fff">
<polygon points="1989.4,866.8 2071.3,787.4 2022.6,1012.0 1959.7,1012.0"/>
<polygon points="1995.8,872.6 2073.9,809.4 2098.4,786.1 2048.3,1012.0 1967.1,1012.0"/>
<polygon points="2071.3,783.5 2077.8,837.8 2098.4,786.1 2048.3,1012.0 2021.8,1012.0"/>
<polygon points="2093.3,853.3 2147.5,786.1 2095.2,1012.0 2057.7,1012.0"/>
<polygon points="2145.6,817.1 2165.6,800.3 2186.2,791.9 2191.4,787.4 2137.4,1012.0 2100.2,1012.0"/>
<polygon points="2183.0,845.5 2221.1,830.7 2245.6,806.8 2194.0,1012.0 2142.8,1012.0"/>
<polygon points="2000.3,786.1 2024.2,822.3 2044.2,786.1 1996.4,1012.0 1954.5,1012.0"/>
<polygon points="2017.8,811.3 2039.1,786.1 1991.5,1012.0 1976.1,1012.0"/>
</g>
<g clip-path="url(#f24)" fill="#fff">
<polygon points="2075.9,731.2 2120.0,682.9 2157.3,662.1 2194.6,642.8 2108.1,1012.0 2015.3,1012.0"/>
<polygon points="2084.1,827.9 2118.0,734.6 2125.6,773.3 2143.5,732.6 2158.7,698.1 2185.6,657.3 2102.9,1012.0 2043.4,1012.0"/>
<polygon points="2075.9,807.2 2120.0,764.3 2142.1,736.7 2161.5,726.4 2095.3,1012.0 2031.1,1012.0"/>
<polygon points="2114.5,827.9 2140.8,792.0 2161.5,774.0 2180.8,765.7 2209.1,736.0 2227.1,714.6 2154.6,1012.0 2072.7,1012.0"/>
<polygon points="2145.6,817.5 2165.6,799.6 2185.0,792.0 2206.4,773.3 2148.5,1012.0 2100.3,1012.0"/>
</g>
<g clip-path="url(#f25)" fill="#fff">
</g>
<g clip-path="url(#f26)" fill="#fff">
<polygon points="1940.0,597.0 1968.0,577.0 1997.0,577.0 1912.3,1012.0 1863.3,1012.0"/>
</g>
<use href="#floorg" clip-path="url(#floorvis)"/>
<g clip-path="url(#c0)" fill="none" stroke="#000" stroke-width="1.9" stroke-linejoin="round">
<polyline points="889.0,840.7 932.7,797.8 947.0,775.2 959.8,767.7 968.9,754.1 976.4,748.9 989.2,742.1 999.0,730.8 1012.5,718.7 1020.8,712.0 1032.1,707.9 1048.7,692.4 1062.2,692.4 1080.0,675.1"/>
<polyline points="938.7,796.3 954.5,779.7 959.8,768.4 968.9,754.1 983.9,752.2 990.7,742.5 999.0,732.3 1012.5,719.2 1024.6,717.7 1029.1,716.0 1042.7,705.2 1063.0,693.9 1080.0,684.8"/>
<polyline points="947.0,835.5 961.3,801.6 975.6,797.0 991.4,770.7 1005.0,764.7 1020.8,746.6 1035.1,736.8 1050.2,715.7 1063.7,710.5 1080.0,693.1"/>
<polyline points="1020.8,847.5 1030.6,819.6 1042.7,776.0 1057.7,764.7 1072.8,754.9 1080.0,742.1"/>
<polyline points="1013.3,806.1 1027.6,827.9 1035.1,806.8 1050.9,818.1 1068.3,788.8 1080.0,771.4"/>
<polyline points="1073.5,803.8 1080.0,788.0"/>
</g>
<g clip-path="url(#c1)" fill="none" stroke="#000" stroke-width="1.9" stroke-linejoin="round">
<polyline points="1070.0,681.6 1079.0,676.3 1106.1,660.5 1134.8,646.2 1179.9,611.5 1193.5,591.2 1207.8,589.7 1215.3,540.0 1217.6,509.9"/>
<polyline points="1070.0,688.3 1095.6,676.3 1129.9,656.4 1143.0,653.0 1144.5,654.5 1144.5,662.0"/>
<polyline points="1070.0,704.9 1080.5,694.4 1094.8,689.1 1110.7,678.6 1129.9,669.5 1139.7,666.2 1144.5,662.0 1158.9,652.2 1172.4,643.6 1172.4,634.9 1187.5,622.1 1201.0,615.3 1216.8,604.0 1243.2,590.5 1267.3,577.7 1273.3,570.1"/>
<polyline points="1172.4,643.6 1198.0,630.4 1211.6,618.6 1225.1,628.9 1241.7,599.5 1256.7,598.7 1267.3,577.7"/>
<polyline points="1062.5,768.9 1070.0,756.9 1089.6,725.2 1103.1,706.4 1133.3,680.8 1148.3,672.5 1207.0,639.4 1225.9,629.6 1250.7,615.3 1261.3,603.3 1273.3,599.5"/>
<polyline points="1074.5,779.9 1081.3,769.7 1086.6,768.9 1090.3,762.9 1098.6,765.9 1109.9,759.1 1125.7,731.3 1139.3,724.5 1156.6,702.7 1170.2,695.1 1186.0,672.5 1199.5,662.7 1215.3,650.7 1235.7,634.9 1247.0,631.1 1262.0,617.6 1273.3,617.1"/>
<polyline points="1090.3,762.9 1105.4,769.7 1118.2,764.4 1136.3,740.3 1164.9,731.3 1181.4,704.2 1195.0,696.6 1211.6,674.8 1226.6,663.5 1256.7,643.2 1273.3,637.1"/>
<polyline points="1130.2,785.5 1145.3,759.9 1160.4,759.1 1175.4,732.0 1189.0,723.0 1205.5,701.9 1220.6,694.4 1235.7,677.0 1249.2,668.0 1273.3,651.4"/>
<polyline points="1149.8,785.5 1169.4,765.2 1183.0,758.4 1199.5,740.3 1214.6,729.8 1229.6,717.0 1244.7,705.7 1262.0,686.8 1273.3,684.6"/>
<polyline points="1172.4,785.5 1207.0,762.9 1225.1,746.3 1240.2,740.3 1256.7,720.0 1273.3,716.2"/>
<polyline points="1198.0,785.5 1232.7,771.2 1250.0,755.4 1264.3,752.3 1273.3,743.3"/>
<polyline points="1234.2,532.5 1237.2,573.9 1240.9,532.5"/>
<polyline points="1265.8,532.5 1265.8,549.8"/>
</g>
<g clip-path="url(#c2)" fill="none" stroke="#000" stroke-width="1.9" stroke-linejoin="round">
<polyline points="1067.4,789.8 1080.1,771.3 1084.1,767.4"/>
<polyline points="1074.0,803.4 1087.6,767.4"/>
<polyline points="1083.6,813.9 1097.7,813.9 1113.1,790.7 1128.4,789.8 1140.3,767.4"/>
<polyline points="1121.4,818.8 1137.7,805.1 1153.5,781.4 1166.7,767.4"/>
<polyline points="1161.8,807.8 1177.2,782.3 1198.3,767.4"/>
<polyline points="1203.6,781.9 1234.3,770.9 1241.4,767.4"/>
<polyline points="1249.3,892.1 1254.5,869.3 1272.1,784.9"/>
</g>
<g clip-path="url(#c3)" fill="none" stroke="#00ff00" stroke-width="1.9" stroke-linejoin="round">
<polyline points="1227.3,807.8 1243.1,799.9 1258.9,779.7 1272.1,770.0"/>
</g>
<g clip-path="url(#c4)" fill="none" stroke="#000" stroke-width="1.9" stroke-linejoin="round">
<polyline points="1270.0,522.2 1273.8,475.5"/>
<polyline points="1270.0,570.4 1286.6,574.9 1286.6,562.1 1300.1,475.5"/>
<polyline points="1276.8,572.6 1286.6,562.8"/>
<polyline points="1313.7,475.5 1315.2,553.0 1324.2,475.5"/>
<polyline points="1265.5,601.2 1280.5,599.0 1297.1,577.1 1310.7,573.4 1328.7,537.2 1341.5,541.0 1357.3,493.6 1364.9,475.5"/>
<polyline points="1265.5,617.3 1276.0,616.3 1292.6,596.0 1306.1,599.0 1323.5,549.3 1336.3,579.4 1361.9,475.5"/>
<polyline points="1265.5,641.9 1286.6,623.1 1301.6,617.8 1318.2,602.7 1331.7,599.7 1349.8,553.8 1364.9,546.3 1379.2,544.0 1383.7,736.0"/>
<polyline points="1265.5,657.7 1297.1,638.1 1312.2,624.6 1328.0,619.3 1343.8,601.2 1360.4,580.2 1372.4,609.5 1378.4,736.0"/>
<polyline points="1265.5,686.3 1276.8,684.8 1292.6,667.5 1306.9,665.2 1323.5,648.7 1337.8,644.9 1354.3,623.8 1368.6,614.8 1375.4,736.0"/>
<polyline points="1265.5,725.5 1285.1,701.4 1300.9,699.9 1317.4,683.3 1331.7,680.3 1349.1,651.7 1360.4,687.1 1369.4,736.0"/>
<polyline points="1310.7,719.9 1327.2,716.4 1343.8,689.3 1357.3,736.0"/>
<polyline points="1377.7,475.5 1384.5,504.1 1386.0,510.1 1387.8,736.0"/>
<polyline points="1399.5,475.5 1401.0,544.8 1407.0,605.0 1423.6,570.4 1437.2,569.6 1452.2,572.6 1473.3,585.4"/>
<polyline points="1416.1,475.5 1401.0,543.3"/>
<polyline points="1423.6,475.5 1425.1,567.3 1441.7,538.0 1452.2,571.9 1466.5,561.3 1473.3,564.3"/>
</g>
<g clip-path="url(#c5)" fill="none" stroke="#000" stroke-width="1.9" stroke-linejoin="round">
<polyline points="1266.4,720.1 1279.5,706.4"/>
<polyline points="1266.4,751.7 1281.9,735.0 1296.2,735.6 1311.7,718.9 1326.1,716.6 1334.4,706.4"/>
<polyline points="1266.4,795.3 1286.7,791.1 1302.2,775.0 1317.1,773.2 1333.8,748.2 1359.4,809.0 1367.8,871.0 1401.2,826.9 1411.9,793.5 1420.3,767.2 1428.6,723.1 1434.6,706.4"/>
<polyline points="1351.1,706.4 1358.3,727.9 1365.4,757.7 1371.4,817.3 1373.8,850.7 1401.2,813.8 1415.5,776.8 1425.0,739.8 1429.8,724.3 1437.0,706.4"/>
<polyline points="1363.0,706.4 1367.8,745.8 1374.9,793.5 1377.9,834.0 1410.7,786.3 1420.3,755.3 1426.2,706.4"/>
<polyline points="1372.6,706.4 1377.3,745.8 1383.3,811.4 1414.3,766.1 1422.7,738.6 1431.0,706.4"/>
<polyline points="1377.3,706.4 1382.1,757.7 1385.1,805.4 1416.7,760.1 1425.0,733.9"/>
<polyline points="1384.5,706.4 1388.1,792.3 1419.1,745.8 1427.4,723.1 1444.1,706.4"/>
<polyline points="1394.0,856.1 1413.1,822.1 1433.4,774.4 1454.9,706.4"/>
<polyline points="1369.0,873.4 1403.6,829.3 1414.3,795.9 1425.0,761.3"/>
<polyline points="1425.0,721.9 1446.5,706.4"/>
<polyline points="1463.2,731.5 1472.7,713.6"/>
</g>
<g clip-path="url(#c6)" fill="none" stroke="#00ff00" stroke-width="1.9" stroke-linejoin="round">
<polyline points="1266.4,773.2 1275.4,766.1 1290.9,764.3 1307.0,745.2 1321.3,746.4 1338.6,717.8 1352.3,749.4 1361.8,789.9 1372.0,859.1 1402.4,817.3 1408.3,800.6 1417.9,766.1 1422.7,760.1 1437.0,751.7 1442.9,743.4"/>
</g>
<g clip-path="url(#c7)" fill="none" stroke="#ff0000" stroke-width="1.9" stroke-linejoin="round">
<polyline points="1295.0,817.3 1311.7,793.5 1328.4,779.8 1341.6,805.4 1354.7,828.1 1365.4,881.7 1411.9,823.3 1439.4,761.3 1452.5,732.7 1466.8,718.3 1472.7,712.4"/>
</g>
<g clip-path="url(#c8)" fill="none" stroke="#000" stroke-width="1.9" stroke-linejoin="round">
<polyline points="1237.9,569.5 1266.4,285.8 1265.5,569.5"/>
<polyline points="1263.0,569.5 1295.9,278.4 1355.6,266.7 1355.6,271.4 1360.3,330.2 1379.1,268.2 1408.1,262.8 1405.0,276.1 1401.1,514.6"/>
<polyline points="1319.5,514.6 1350.1,275.3 1354.0,279.2"/>
<polyline points="1347.7,514.6 1405.0,265.9"/>
<polyline points="1294.4,514.6 1310.8,398.5 1316.3,514.6"/>
<polyline points="1338.3,514.6 1374.4,456.5 1385.4,514.6"/>
<polyline points="1402.6,514.6 1422.2,448.7 1426.2,514.6"/>
<polyline points="1209.6,569.5 1228.5,453.4 1237.9,569.5"/>
<polyline points="1383.8,260.4 1383.8,266.7"/>
</g>
<g clip-path="url(#c9)" fill="none" stroke="#000" stroke-width="1.9" stroke-linejoin="round">
<polyline points="1533.7,529.4 1561.9,407.5 1561.9,456.6"/>
<polyline points="1562.9,529.4 1595.6,382.9 1594.7,425.7"/>
<polyline points="1604.7,529.4 1643.8,368.3 1663.9,333.8 1661.1,420.2"/>
<polyline points="1622.9,529.4 1673.9,386.5 1687.5,397.5 1694.8,461.2 1724.8,344.7 1718.5,447.5"/>
<polyline points="1659.3,529.4 1683.9,434.8 1683.0,493.0"/>
<polyline points="1668.4,529.4 1697.5,467.5 1712.1,468.5 1721.2,395.6"/>
<polyline points="1717.6,447.5 1738.5,395.6 1753.1,397.5 1765.8,275.5 1757.6,380.2 1783.1,301.0 1793.1,340.1 1783.1,460.3 1804.9,429.3"/>
<polyline points="1723.0,529.4 1752.1,419.3 1759.4,457.5 1768.5,437.5 1779.5,469.4 1804.9,429.3"/>
<polyline points="1606.5,529.4 1613.8,498.5 1620.2,529.4"/>
</g>
<g clip-path="url(#c10)" fill="none" stroke="#00ff00" stroke-width="1.9" stroke-linejoin="round">
<polyline points="1537.4,520.3 1555.6,485.7 1562.9,453.0 1578.3,399.3 1597.1,370.2 1596.5,420.2"/>
<polyline points="1622.0,362.0 1642.9,240.4 1635.7,336.5"/>
</g>
<g clip-path="url(#c11)" fill="none" stroke="#ff0000" stroke-width="1.9" stroke-linejoin="round">
<polyline points="1568.3,529.4 1612.0,369.3 1629.3,360.2 1656.6,266.4 1667.5,301.9 1664.8,332.9"/>
<polyline points="1678.4,387.5 1706.6,234.6 1691.2,412.9"/>
</g>
<g clip-path="url(#c12)" fill="none" stroke="#000" stroke-width="1.9" stroke-linejoin="round">
<polyline points="1497.2,559.7 1506.6,529.1 1517.9,534.7 1522.6,523.0 1525.4,530.5 1536.7,518.2 1543.3,487.2"/>
<polyline points="1497.2,591.7 1522.6,523.0"/>
<polyline points="1517.9,534.7 1529.2,546.5"/>
<polyline points="1549.9,487.2 1543.3,508.8 1536.7,519.2"/>
<polyline points="1574.4,487.2 1564.0,530.5 1546.1,559.7 1530.1,569.1 1513.2,603.0 1497.2,645.4"/>
<polyline points="1614.9,487.2 1613.0,497.5 1625.2,526.7 1639.4,487.2"/>
<polyline points="1615.8,487.2 1575.3,593.6 1571.6,590.3 1554.1,623.7 1552.3,627.9 1537.7,627.0 1522.6,645.4"/>
<polyline points="1613.9,497.5 1583.8,618.1 1575.3,595.5"/>
<polyline points="1554.1,623.7 1539.5,615.7 1518.8,645.4"/>
<polyline points="1662.0,518.2 1658.2,536.1 1641.2,543.7 1617.7,604.9 1599.8,612.4 1581.0,645.4"/>
<polyline points="1599.8,612.4 1595.1,645.4"/>
<polyline points="1641.2,645.4 1662.0,601.1"/>
</g>
<g clip-path="url(#c13)" fill="none" stroke="#00ff00" stroke-width="1.9" stroke-linejoin="round">
<polyline points="1556.5,487.2 1536.7,521.1 1530.1,544.6 1516.9,588.9 1511.3,603.0 1497.2,618.1"/>
</g>
<g clip-path="url(#c14)" fill="none" stroke="#ff0000" stroke-width="1.9" stroke-linejoin="round">
<polyline points="1580.0,487.2 1562.1,549.3 1560.3,555.0 1543.3,574.7 1525.4,608.6 1497.2,645.4"/>
</g>
<g clip-path="url(#c15)" fill="none" stroke="#000" stroke-width="1.9" stroke-linejoin="round">
<polyline points="1490.4,588.2 1467.8,632.6 1464.0,648.4 1454.2,662.0 1437.7,704.9 1426.4,723.0 1416.6,748.6"/>
<polyline points="1491.9,588.9 1478.4,635.6 1460.3,680.8 1440.7,714.0 1421.1,748.6"/>
<polyline points="1505.5,530.1 1488.9,605.5 1466.3,650.7 1449.7,695.9 1440.7,711.0"/>
<polyline points="1519.0,534.7 1504.0,584.4 1487.4,607.0 1476.9,635.6 1457.3,680.8 1443.7,711.0"/>
<polyline points="1564.3,500.0 1562.7,531.6 1545.4,560.3 1529.6,569.3 1516.0,598.0 1502.5,638.6"/>
<polyline points="1571.8,590.4 1554.0,624.2 1538.9,615.6 1520.6,643.9 1505.5,648.4 1488.9,658.2 1485.9,671.8"/>
<polyline points="1457.3,698.9 1475.3,687.6 1487.4,670.3 1504.0,665.8 1520.6,643.9 1536.4,628.1 1552.2,628.1 1554.0,624.2"/>
<polyline points="1650.0,540.7 1639.6,543.7 1617.0,605.5 1599.8,613.0 1580.8,646.9 1566.5,640.1 1548.4,659.0 1534.1,660.5 1516.0,674.1 1513.0,748.6"/>
<polyline points="1598.9,614.5 1587.6,686.9 1609.5,665.8 1627.5,662.0 1656.2,640.1"/>
<polyline points="1609.5,665.8 1611.0,653.7 1626.0,651.4 1644.1,642.4 1656.2,628.1"/>
<polyline points="1572.5,722.3 1591.4,715.5 1626.0,695.9 1656.2,677.8"/>
<polyline points="1496.4,709.5 1513.8,688.4 1530.3,683.1 1531.1,748.6"/>
<polyline points="1559.7,748.6 1574.8,694.4 1578.6,669.5 1577.8,692.9"/>
<polyline points="1535.6,748.6 1543.9,698.9 1544.7,748.6"/>
<polyline points="1464.8,730.6 1482.1,692.9 1483.6,748.6"/>
<polyline points="1629.1,748.6 1637.3,720.0 1656.2,727.5"/>
<polyline points="1400.0,549.7 1406.8,605.5 1424.1,570.8 1436.2,569.3 1452.0,573.8 1476.1,586.6 1491.2,587.4"/>
<polyline points="1424.1,495.5 1424.9,568.6 1441.4,538.4 1452.0,572.3 1466.3,561.0 1478.4,579.1 1479.1,586.6"/>
<polyline points="1491.2,587.4 1507.0,528.6 1519.0,535.4 1522.8,523.4 1525.1,531.6 1537.1,519.6 1548.4,500.0"/>
</g>
<g clip-path="url(#c16)" fill="none" stroke="#00ff00" stroke-width="1.9" stroke-linejoin="round">
<polyline points="1529.6,545.2 1513.0,604.0 1495.7,619.0 1474.6,683.8 1456.5,698.9 1445.2,711.0"/>
</g>
<g clip-path="url(#c17)" fill="none" stroke="#ff0000" stroke-width="1.9" stroke-linejoin="round">
<polyline points="1525.1,608.5 1502.5,638.6 1488.9,656.7 1475.3,695.9 1464.8,718.5 1451.2,733.6 1445.2,748.6"/>
</g>
<g clip-path="url(#c18)" fill="none" stroke="#000" stroke-width="1.9" stroke-linejoin="round">
<polyline points="1645.1,464.9 1673.7,386.5 1688.4,397.1 1694.9,460.0 1716.9,375.1"/>
<polyline points="1645.1,543.2 1656.5,538.0 1674.5,517.1 1684.3,494.2 1696.5,467.3 1712.8,469.0 1719.4,445.3 1721.8,394.7 1720.2,375.1"/>
<polyline points="1659.8,532.6 1683.5,435.5 1684.3,494.2"/>
<polyline points="1645.1,641.1 1664.7,598.7 1680.2,594.6 1702.2,555.5 1716.1,562.0 1752.8,420.0 1759.4,458.3"/>
<polyline points="1759.4,458.3 1768.3,437.9 1778.9,469.8 1802.6,418.4 1805.1,432.2 1809.1,482.8 1814.0,508.9 1824.6,500.0 1834.4,510.6 1836.1,515.5 1838.5,559.5"/>
<polyline points="1783.8,456.7 1789.5,375.1"/>
<polyline points="1805.1,432.2 1818.1,375.1"/>
<polyline points="1645.1,649.3 1677.7,623.2 1700.6,577.5 1713.7,598.7 1759.4,460.0"/>
<polyline points="1715.3,649.3 1747.9,588.9 1765.9,571.0 1792.8,500.8 1803.4,531.8 1824.6,499.1"/>
<polyline points="1699.0,649.3 1728.3,615.0 1785.5,566.1 1796.9,596.3 1816.5,571.8 1829.5,590.5 1837.7,561.2"/>
<polyline points="1774.0,649.3 1813.2,611.8 1831.2,592.2 1839.3,559.5 1856.5,510.6 1858.9,541.6 1865.4,528.5"/>
<polyline points="1856.5,513.8 1863.0,595.4 1889.9,523.6"/>
<polyline points="1837.7,649.3 1847.5,615.8 1852.4,649.3"/>
<polyline points="1850.8,649.3 1886.7,599.5 1960.1,569.3"/>
<polyline points="1911.1,649.3 1960.1,592.2"/>
</g>
<g clip-path="url(#c19)" fill="none" stroke="#000" stroke-width="1.9" stroke-linejoin="round">
<polyline points="1645.1,646.3 1659.8,636.5 1672.8,625.1"/>
<polyline points="1645.1,683.9 1657.3,675.7 1676.9,652.0 1691.6,652.8 1713.7,625.1"/>
<polyline points="1645.1,727.9 1652.4,727.1 1673.7,689.6 1689.2,685.5 1707.1,664.3 1733.2,625.1"/>
<polyline points="1645.1,746.7 1672.0,714.9 1690.8,700.2 1707.1,685.5 1725.9,665.1 1741.4,666.7 1759.4,652.0 1777.3,641.4 1796.9,625.1"/>
<polyline points="1702.2,762.2 1718.5,751.6 1740.6,680.6 1756.9,683.0 1777.3,664.3 1785.5,705.9 1805.9,679.0 1806.4,708.3"/>
<polyline points="1653.3,899.3 1667.1,874.8 1700.6,742.6 1720.2,724.7 1740.6,710.0 1758.5,698.5 1775.7,695.3 1788.7,713.2 1805.9,709.2 1821.4,700.2 1831.2,680.6 1845.9,625.1"/>
<polyline points="1722.6,762.2 1739.0,758.1 1756.9,749.1 1770.8,741.0 1774.0,727.1 1775.7,736.9 1788.7,756.5 1796.1,750.0 1805.9,725.5 1809.1,740.2 1825.5,733.6 1830.3,723.0 1845.9,679.0 1850.8,695.3 1863.8,694.5 1883.4,645.5 1901.3,656.1"/>
<polyline points="1734.9,758.9 1738.1,746.7 1739.8,757.3"/>
<polyline points="1830.3,723.0 1847.5,696.1 1863.8,694.5"/>
<polyline points="1863.8,694.5 1920.9,637.3 1930.7,625.1"/>
<polyline points="1845.9,625.1 1847.5,652.8"/>
<polyline points="1746.3,838.1 1772.4,780.2 1781.4,821.0"/>
<polyline points="1770.8,815.2 1785.5,822.6 1806.7,794.8 1831.2,776.1 1862.2,754.0 1881.8,741.0 1898.1,738.5 1960.1,683.9"/>
<polyline points="1785.5,822.6 1805.9,773.6 1811.6,789.1"/>
<polyline points="1831.2,776.1 1843.4,747.5 1849.1,763.8"/>
<polyline points="1865.4,751.6 1882.6,709.2 1890.7,737.7"/>
<polyline points="1898.1,737.7 1960.1,656.1"/>
<polyline points="1696.5,810.3 1703.0,872.4 1709.6,845.4"/>
<polyline points="1817.3,856.9 1836.1,841.4 1854.0,832.4 1877.7,793.2 1893.2,736.1"/>
<polyline points="1854.0,899.3 1893.2,736.1 1877.7,899.3"/>
<polyline points="1890.7,777.7 1901.3,763.8 1922.6,725.5 1939.7,724.7 1928.3,831.6 1960.1,773.6"/>
<polyline points="1891.6,878.1 1912.8,849.5 1917.7,852.8 1920.1,772.0 1913.6,849.5"/>
<polyline points="1838.5,854.4 1838.5,899.3"/>
</g>
<g clip-path="url(#c20)" fill="none" stroke="#000" stroke-width="1.9" stroke-linejoin="round">
<polyline points="1483.7,712.5 1478.8,873.7"/>
<polyline points="1513.0,712.5 1506.7,897.1"/>
<polyline points="1542.1,712.5 1527.1,786.3 1506.7,897.1"/>
<polyline points="1529.6,712.5 1527.8,780.3"/>
<polyline points="1538.4,723.0 1539.9,730.5 1550.4,776.5 1570.8,712.5"/>
<polyline points="1561.0,829.3 1577.5,824.0 1600.9,759.9 1609.2,825.5 1635.6,747.1 1651.4,740.3 1674.0,712.5"/>
<polyline points="1600.9,759.9 1611.4,799.9 1637.8,720.0 1652.9,726.0 1658.9,715.5"/>
<polyline points="1633.3,893.3 1645.4,918.9 1666.4,875.2 1683.0,810.4"/>
</g>
<g clip-path="url(#c21)" fill="none" stroke="#000" stroke-width="1.9" stroke-linejoin="round">
<polyline points="1656.1,898.7 1667.1,875.5 1674.2,853.5"/>
<polyline points="1700.0,853.5 1703.2,872.3 1709.1,853.5"/>
<polyline points="1838.4,853.5 1837.5,959.4 1865.2,853.5"/>
<polyline points="1880.1,853.5 1871.0,949.7 1889.8,879.4 1907.8,856.1"/>
<polyline points="1894.3,853.5 1889.8,879.4"/>
</g>
<g clip-path="url(#c22)" fill="none" stroke="#000" stroke-width="1.9" stroke-linejoin="round">
<polyline points="1935.9,617.3 1967.6,575.9"/>
<polyline points="1935.9,687.7 1956.6,660.1 1989.0,655.3"/>
<polyline points="1935.9,704.3 1957.3,684.3 1988.3,694.6 2116.7,611.1"/>
<polyline points="2088.4,629.7 2065.7,707.0 2062.9,709.1 2047.7,711.9 2024.9,740.2 2017.3,759.5 2006.3,807.8"/>
<polyline points="2022.9,807.8 2056.0,763.7 2076.0,731.2 2098.8,704.3 2119.5,684.3 2159.6,662.2 2194.8,642.8"/>
<polyline points="1938.6,807.8 1972.4,747.8 1987.6,771.2 2009.0,807.8"/>
<polyline points="1981.4,758.1 1986.3,737.4 1987.6,769.2 1989.7,756.1"/>
<polyline points="2000.8,800.9 2015.9,747.8 2009.0,807.8"/>
<polyline points="2089.1,807.8 2118.1,734.7 2125.7,773.3 2143.0,734.7 2160.9,727.1"/>
<polyline points="2143.0,736.0 2159.6,700.1 2185.8,658.0"/>
<polyline points="2057.4,807.8 2073.3,785.7 2075.3,807.8"/>
<polyline points="2078.1,807.8 2119.5,766.4 2141.6,742.9"/>
<polyline points="2130.6,807.8 2160.9,773.3 2181.6,765.7 2202.4,744.3"/>
<polyline points="2158.2,807.8 2185.8,791.3 2202.4,776.1"/>
</g>
<g clip-path="url(#c23)" fill="none" stroke="#000" stroke-width="1.9" stroke-linejoin="round">
<polyline points="1989.4,866.8 2071.3,787.4"/>
<polyline points="1995.8,872.6 2073.9,809.4 2098.4,786.1"/>
<polyline points="2071.3,783.5 2077.8,837.8 2098.4,786.1"/>
<polyline points="2093.3,853.3 2147.5,786.1"/>
<polyline points="2145.6,817.1 2165.6,800.3 2186.2,791.9 2191.4,787.4"/>
<polyline points="2183.0,845.5 2221.1,830.7 2245.6,806.8"/>
<polyline points="2000.3,786.1 2024.2,822.3 2044.2,786.1"/>
<polyline points="2017.8,811.3 2039.1,786.1"/>
</g>
<g clip-path="url(#c24)" fill="none" stroke="#000" stroke-width="1.9" stroke-linejoin="round">
<polyline points="2075.9,731.2 2120.0,682.9 2157.3,662.1 2194.6,642.8"/>
<polyline points="2084.1,827.9 2118.0,734.6 2125.6,773.3 2143.5,732.6 2158.7,698.1 2185.6,657.3"/>
<polyline points="2075.9,807.2 2120.0,764.3 2142.1,736.7 2161.5,726.4"/>
<polyline points="2114.5,827.9 2140.8,792.0 2161.5,774.0 2180.8,765.7 2209.1,736.0 2227.1,714.6"/>
<polyline points="2145.6,817.5 2165.6,799.6 2185.0,792.0 2206.4,773.3"/>
</g>
<g clip-path="url(#c25)" fill="none" stroke="#000" stroke-width="1.9" stroke-linejoin="round">
<polyline points="2247.6,871.6 2271.3,849.6"/>
</g>
<g clip-path="url(#c26)" fill="none" stroke="#000" stroke-width="1.9" stroke-linejoin="round">
<polyline points="1940.0,597.0 1968.0,577.0 1997.0,577.0"/>
</g>
<line x1="378.7" y1="1540.0" x2="2369.0" y2="963.1" stroke="#000" stroke-width="5"/>
<line x1="378.7" y1="1540.0" x2="378.7" y2="1571.0" stroke="#000" stroke-width="4.2"/>
<line x1="403.2" y1="1532.9" x2="403.2" y2="1548.9" stroke="#000" stroke-width="4.2"/>
<line x1="427.7" y1="1525.8" x2="427.7" y2="1541.7" stroke="#000" stroke-width="4.2"/>
<line x1="452.0" y1="1518.7" x2="452.0" y2="1534.7" stroke="#000" stroke-width="4.2"/>
<line x1="476.3" y1="1511.7" x2="476.3" y2="1527.6" stroke="#000" stroke-width="4.2"/>
<line x1="500.5" y1="1504.7" x2="500.5" y2="1535.4" stroke="#000" stroke-width="4.2"/>
<line x1="524.6" y1="1497.7" x2="524.6" y2="1513.5" stroke="#000" stroke-width="4.2"/>
<line x1="548.6" y1="1490.8" x2="548.6" y2="1506.6" stroke="#000" stroke-width="4.1"/>
<line x1="572.5" y1="1483.8" x2="572.5" y2="1499.6" stroke="#000" stroke-width="4.1"/>
<line x1="596.4" y1="1476.9" x2="596.4" y2="1492.7" stroke="#000" stroke-width="4.1"/>
<line x1="620.1" y1="1470.0" x2="620.1" y2="1500.5" stroke="#000" stroke-width="4.1"/>
<line x1="643.8" y1="1463.2" x2="643.8" y2="1478.9" stroke="#000" stroke-width="4.1"/>
<line x1="667.4" y1="1456.3" x2="667.4" y2="1472.0" stroke="#000" stroke-width="4.1"/>
<line x1="690.9" y1="1449.5" x2="690.9" y2="1465.2" stroke="#000" stroke-width="4.1"/>
<line x1="714.3" y1="1442.7" x2="714.3" y2="1458.3" stroke="#000" stroke-width="4.1"/>
<line x1="737.6" y1="1436.0" x2="737.6" y2="1466.1" stroke="#000" stroke-width="4.1"/>
<line x1="760.9" y1="1429.2" x2="760.9" y2="1444.8" stroke="#000" stroke-width="4.1"/>
<line x1="784.0" y1="1422.5" x2="784.0" y2="1438.0" stroke="#000" stroke-width="4.1"/>
<line x1="807.1" y1="1415.8" x2="807.1" y2="1431.3" stroke="#000" stroke-width="4.1"/>
<line x1="830.1" y1="1409.2" x2="830.1" y2="1424.6" stroke="#000" stroke-width="4.1"/>
<line x1="853.0" y1="1402.5" x2="853.0" y2="1432.4" stroke="#000" stroke-width="4.1"/>
<line x1="875.9" y1="1395.9" x2="875.9" y2="1411.3" stroke="#000" stroke-width="4.0"/>
<line x1="898.6" y1="1389.3" x2="898.6" y2="1404.7" stroke="#000" stroke-width="4.0"/>
<line x1="921.3" y1="1382.7" x2="921.3" y2="1398.1" stroke="#000" stroke-width="4.0"/>
<line x1="943.9" y1="1376.2" x2="943.9" y2="1391.5" stroke="#000" stroke-width="4.0"/>
<line x1="966.4" y1="1369.6" x2="966.4" y2="1399.3" stroke="#000" stroke-width="4.0"/>
<line x1="988.9" y1="1363.1" x2="988.9" y2="1378.4" stroke="#000" stroke-width="4.0"/>
<line x1="1011.3" y1="1356.7" x2="1011.3" y2="1371.9" stroke="#000" stroke-width="4.0"/>
<line x1="1033.5" y1="1350.2" x2="1033.5" y2="1365.4" stroke="#000" stroke-width="4.0"/>
<line x1="1055.8" y1="1343.8" x2="1055.8" y2="1359.0" stroke="#000" stroke-width="4.0"/>
<line x1="1077.9" y1="1337.3" x2="1077.9" y2="1366.7" stroke="#000" stroke-width="4.0"/>
<line x1="1100.0" y1="1330.9" x2="1100.0" y2="1346.1" stroke="#000" stroke-width="4.0"/>
<line x1="1121.9" y1="1324.6" x2="1121.9" y2="1339.7" stroke="#000" stroke-width="4.0"/>
<line x1="1143.8" y1="1318.2" x2="1143.8" y2="1333.3" stroke="#000" stroke-width="4.0"/>
<line x1="1165.7" y1="1311.9" x2="1165.7" y2="1327.0" stroke="#000" stroke-width="4.0"/>
<line x1="1187.4" y1="1305.6" x2="1187.4" y2="1334.7" stroke="#000" stroke-width="3.9"/>
<line x1="1209.1" y1="1299.3" x2="1209.1" y2="1314.3" stroke="#000" stroke-width="3.9"/>
<line x1="1230.7" y1="1293.0" x2="1230.7" y2="1308.0" stroke="#000" stroke-width="3.9"/>
<line x1="1252.3" y1="1286.8" x2="1252.3" y2="1301.8" stroke="#000" stroke-width="3.9"/>
<line x1="1273.7" y1="1280.6" x2="1273.7" y2="1295.5" stroke="#000" stroke-width="3.9"/>
<line x1="1295.1" y1="1274.4" x2="1295.1" y2="1303.3" stroke="#000" stroke-width="3.9"/>
<line x1="1316.4" y1="1268.2" x2="1316.4" y2="1283.1" stroke="#000" stroke-width="3.9"/>
<line x1="1337.7" y1="1262.0" x2="1337.7" y2="1276.9" stroke="#000" stroke-width="3.9"/>
<line x1="1358.8" y1="1255.9" x2="1358.8" y2="1270.7" stroke="#000" stroke-width="3.9"/>
<line x1="1379.9" y1="1249.8" x2="1379.9" y2="1264.6" stroke="#000" stroke-width="3.9"/>
<line x1="1401.0" y1="1243.7" x2="1401.0" y2="1272.3" stroke="#000" stroke-width="3.9"/>
<line x1="1421.9" y1="1237.6" x2="1421.9" y2="1252.4" stroke="#000" stroke-width="3.9"/>
<line x1="1442.8" y1="1231.6" x2="1442.8" y2="1246.3" stroke="#000" stroke-width="3.9"/>
<line x1="1463.6" y1="1225.5" x2="1463.6" y2="1240.2" stroke="#000" stroke-width="3.9"/>
<line x1="1484.4" y1="1219.5" x2="1484.4" y2="1234.2" stroke="#000" stroke-width="3.9"/>
<line x1="1505.1" y1="1213.5" x2="1505.1" y2="1241.9" stroke="#000" stroke-width="3.8"/>
<line x1="1525.7" y1="1207.6" x2="1525.7" y2="1222.2" stroke="#000" stroke-width="3.8"/>
<line x1="1546.2" y1="1201.6" x2="1546.2" y2="1216.2" stroke="#000" stroke-width="3.8"/>
<line x1="1566.7" y1="1195.7" x2="1566.7" y2="1210.3" stroke="#000" stroke-width="3.8"/>
<line x1="1587.1" y1="1189.8" x2="1587.1" y2="1204.3" stroke="#000" stroke-width="3.8"/>
<line x1="1607.4" y1="1183.9" x2="1607.4" y2="1212.0" stroke="#000" stroke-width="3.8"/>
<line x1="1627.7" y1="1178.0" x2="1627.7" y2="1192.5" stroke="#000" stroke-width="3.8"/>
<line x1="1647.9" y1="1172.1" x2="1647.9" y2="1186.6" stroke="#000" stroke-width="3.8"/>
<line x1="1668.0" y1="1166.3" x2="1668.0" y2="1180.8" stroke="#000" stroke-width="3.8"/>
<line x1="1688.1" y1="1160.5" x2="1688.1" y2="1174.9" stroke="#000" stroke-width="3.8"/>
<line x1="1708.1" y1="1154.7" x2="1708.1" y2="1182.6" stroke="#000" stroke-width="3.8"/>
<line x1="1728.0" y1="1148.9" x2="1728.0" y2="1163.3" stroke="#000" stroke-width="3.8"/>
<line x1="1747.9" y1="1143.1" x2="1747.9" y2="1157.5" stroke="#000" stroke-width="3.8"/>
<line x1="1767.7" y1="1137.4" x2="1767.7" y2="1151.7" stroke="#000" stroke-width="3.8"/>
<line x1="1787.4" y1="1131.7" x2="1787.4" y2="1146.0" stroke="#000" stroke-width="3.8"/>
<line x1="1807.1" y1="1126.0" x2="1807.1" y2="1153.7" stroke="#000" stroke-width="3.8"/>
<line x1="1826.7" y1="1120.3" x2="1826.7" y2="1134.6" stroke="#000" stroke-width="3.7"/>
<line x1="1846.3" y1="1114.6" x2="1846.3" y2="1128.9" stroke="#000" stroke-width="3.7"/>
<line x1="1865.8" y1="1109.0" x2="1865.8" y2="1123.2" stroke="#000" stroke-width="3.7"/>
<line x1="1885.2" y1="1103.3" x2="1885.2" y2="1117.6" stroke="#000" stroke-width="3.7"/>
<line x1="1904.6" y1="1097.7" x2="1904.6" y2="1125.2" stroke="#000" stroke-width="3.7"/>
<line x1="1923.9" y1="1092.1" x2="1923.9" y2="1106.3" stroke="#000" stroke-width="3.7"/>
<line x1="1943.1" y1="1086.6" x2="1943.1" y2="1100.7" stroke="#000" stroke-width="3.7"/>
<line x1="1962.3" y1="1081.0" x2="1962.3" y2="1095.1" stroke="#000" stroke-width="3.7"/>
<line x1="1981.4" y1="1075.5" x2="1981.4" y2="1089.6" stroke="#000" stroke-width="3.7"/>
<line x1="2000.4" y1="1069.9" x2="2000.4" y2="1097.2" stroke="#000" stroke-width="3.7"/>
<line x1="2019.4" y1="1064.4" x2="2019.4" y2="1078.5" stroke="#000" stroke-width="3.7"/>
<line x1="2038.3" y1="1059.0" x2="2038.3" y2="1073.0" stroke="#000" stroke-width="3.7"/>
<line x1="2057.2" y1="1053.5" x2="2057.2" y2="1067.5" stroke="#000" stroke-width="3.7"/>
<line x1="2076.0" y1="1048.0" x2="2076.0" y2="1062.0" stroke="#000" stroke-width="3.7"/>
<line x1="2094.8" y1="1042.6" x2="2094.8" y2="1069.6" stroke="#000" stroke-width="3.7"/>
<line x1="2113.5" y1="1037.2" x2="2113.5" y2="1051.1" stroke="#000" stroke-width="3.7"/>
<line x1="2132.1" y1="1031.8" x2="2132.1" y2="1045.7" stroke="#000" stroke-width="3.7"/>
<line x1="2150.7" y1="1026.4" x2="2150.7" y2="1040.3" stroke="#000" stroke-width="3.6"/>
<line x1="2169.2" y1="1021.0" x2="2169.2" y2="1034.9" stroke="#000" stroke-width="3.6"/>
<line x1="2187.6" y1="1015.7" x2="2187.6" y2="1042.5" stroke="#000" stroke-width="3.6"/>
<line x1="2206.0" y1="1010.4" x2="2206.0" y2="1024.2" stroke="#000" stroke-width="3.6"/>
<line x1="2224.4" y1="1005.0" x2="2224.4" y2="1018.8" stroke="#000" stroke-width="3.6"/>
<line x1="2242.6" y1="999.7" x2="2242.6" y2="1013.5" stroke="#000" stroke-width="3.6"/>
<line x1="2260.9" y1="994.5" x2="2260.9" y2="1008.2" stroke="#000" stroke-width="3.6"/>
<line x1="2279.0" y1="989.2" x2="2279.0" y2="1015.8" stroke="#000" stroke-width="3.6"/>
<line x1="2297.1" y1="983.9" x2="2297.1" y2="997.7" stroke="#000" stroke-width="3.6"/>
<line x1="2315.2" y1="978.7" x2="2315.2" y2="992.4" stroke="#000" stroke-width="3.6"/>
<line x1="2333.2" y1="973.5" x2="2333.2" y2="987.2" stroke="#000" stroke-width="3.6"/>
<line x1="2351.1" y1="968.3" x2="2351.1" y2="982.0" stroke="#000" stroke-width="3.6"/>
<line x1="2369.0" y1="963.1" x2="2369.0" y2="989.5" stroke="#000" stroke-width="3.6"/>
<text x="378.7" y="1652.2" font-size="66.5" text-anchor="middle">90</text>
<text x="500.5" y="1615.9" font-size="65.9" text-anchor="middle">95</text>
<text x="620.1" y="1580.2" font-size="65.3" text-anchor="middle">100</text>
<text x="737.6" y="1545.2" font-size="64.7" text-anchor="middle">105</text>
<text x="853.0" y="1510.8" font-size="64.2" text-anchor="middle">110</text>
<text x="966.4" y="1477.0" font-size="63.6" text-anchor="middle">115</text>
<text x="1077.9" y="1443.7" font-size="63.0" text-anchor="middle">120</text>
<text x="1187.4" y="1411.1" font-size="62.5" text-anchor="middle">125</text>
<text x="1295.1" y="1379.0" font-size="62.0" text-anchor="middle">130</text>
<text x="1401.0" y="1347.4" font-size="61.5" text-anchor="middle">135</text>
<text x="1505.1" y="1316.4" font-size="60.9" text-anchor="middle">140</text>
<text x="1607.4" y="1285.8" font-size="60.4" text-anchor="middle">145</text>
<text x="1708.1" y="1255.8" font-size="59.9" text-anchor="middle">150</text>
<text x="1807.1" y="1226.3" font-size="59.4" text-anchor="middle">155</text>
<text x="1904.6" y="1197.2" font-size="59.0" text-anchor="middle">160</text>
<text x="2000.4" y="1168.6" font-size="58.5" text-anchor="middle">165</text>
<text x="2094.8" y="1140.5" font-size="58.0" text-anchor="middle">170</text>
<text x="2187.6" y="1112.8" font-size="57.6" text-anchor="middle">175</text>
<text x="2279.0" y="1085.6" font-size="57.1" text-anchor="middle">180</text>
<text x="2369.0" y="1058.7" font-size="56.7" text-anchor="middle">185</text>
<line x1="2105.0" y1="587.0" x2="2158.4" y2="662.2" stroke="#000" stroke-width="4.5"/>
<line x1="2183.0" y1="697.0" x2="2209.2" y2="732.6" stroke="#000" stroke-width="4.5"/>
<line x1="2218.6" y1="747.6" x2="2369.0" y2="963.0" stroke="#000" stroke-width="4.5"/>
<line x1="2113.1" y1="598.5" x2="2121.5" y2="598.5" stroke="#000" stroke-width="4"/>
<line x1="2124.5" y1="614.8" x2="2141.9" y2="614.8" stroke="#000" stroke-width="4"/>
<line x1="2136.6" y1="632.0" x2="2145.5" y2="632.0" stroke="#000" stroke-width="4"/>
<line x1="2149.2" y1="650.0" x2="2167.5" y2="650.0" stroke="#000" stroke-width="4"/>
<line x1="2191.3" y1="710.0" x2="2201.2" y2="710.0" stroke="#000" stroke-width="4"/>
<line x1="2207.0" y1="732.3" x2="2227.3" y2="732.3" stroke="#000" stroke-width="4"/>
<line x1="2223.5" y1="755.8" x2="2233.9" y2="755.8" stroke="#000" stroke-width="4"/>
<line x1="2241.0" y1="780.7" x2="2262.5" y2="780.7" stroke="#000" stroke-width="4"/>
<line x1="2259.6" y1="807.2" x2="2270.7" y2="807.2" stroke="#000" stroke-width="4"/>
<line x1="2279.3" y1="835.4" x2="2302.2" y2="835.4" stroke="#000" stroke-width="4"/>
<line x1="2300.4" y1="865.4" x2="2312.2" y2="865.4" stroke="#000" stroke-width="4"/>
<line x1="2322.9" y1="897.4" x2="2347.3" y2="897.4" stroke="#000" stroke-width="4"/>
<line x1="2347.0" y1="931.7" x2="2359.6" y2="931.7" stroke="#000" stroke-width="4"/>
<polygon points="380.7,1540.0 379.1,1527.8 377.5,1515.5 375.9,1503.2 374.3,1490.8 372.7,1478.3 371.1,1465.8 369.4,1453.2 367.8,1440.5 366.1,1427.7 364.4,1414.9 362.8,1402.0 361.1,1389.0 359.4,1376.0 357.7,1362.9 356.0,1349.7 354.2,1336.4 352.5,1323.0 350.8,1309.6 349.0,1296.1 347.3,1282.5 345.5,1268.9 343.7,1255.1 341.9,1241.3 340.1,1227.4 338.3,1213.4 336.4,1199.3 334.6,1185.2 332.8,1170.9 330.9,1156.6 329.0,1142.2 327.1,1127.7 325.2,1113.1 323.3,1098.4 321.4,1083.6 319.5,1068.8 317.6,1053.8 315.6,1038.8 313.6,1023.7 311.7,1008.4 309.7,993.1 307.7,977.7 305.7,962.2 303.6,946.6 301.6,930.9 299.5,915.1 297.5,899.2 295.4,883.1 293.3,867.0 291.2,850.8 289.1,834.5 286.9,818.1 284.8,801.6 282.6,784.9 280.5,768.2 278.3,751.3 276.1,734.4 273.9,717.3 271.6,700.1 269.4,682.8 245.9,682.8 248.2,700.1 250.5,717.3 252.8,734.4 255.1,751.3 257.3,768.2 259.6,784.9 261.8,801.6 264.0,818.1 266.2,834.5 268.4,850.8 270.5,867.0 272.7,883.1 274.8,899.2 277.0,915.1 279.1,930.9 281.2,946.6 283.3,962.2 285.4,977.7 287.4,993.1 289.5,1008.4 291.5,1023.7 293.6,1038.8 295.6,1053.8 297.6,1068.8 299.6,1083.6 301.5,1098.4 303.5,1113.1 305.5,1127.7 307.4,1142.2 309.3,1156.6 311.3,1170.9 313.2,1185.2 315.1,1199.3 316.9,1213.4 318.8,1227.4 320.7,1241.3 322.5,1255.1 324.4,1268.9 326.2,1282.5 328.0,1296.1 329.8,1309.6 331.6,1323.0 333.4,1336.4 335.2,1349.7 337.0,1362.9 338.7,1376.0 340.5,1389.0 342.2,1402.0 343.9,1414.9 345.7,1427.7 347.4,1440.5 349.1,1453.2 350.7,1465.8 352.4,1478.3 354.1,1490.8 355.8,1503.2 357.4,1515.5 359.1,1527.8 360.7,1540.0" fill="#000"/>
<line x1="378.7" y1="1542.0" x2="345.7" y2="1542.0" stroke="#000" stroke-width="5.5"/>
<line x1="356.8" y1="1507.5" x2="370.9" y2="1507.5" stroke="#fff" stroke-width="2.7"/>
<line x1="374.9" y1="1513.1" x2="341.7" y2="1513.1" stroke="#000" stroke-width="5.5"/>
<line x1="352.9" y1="1478.2" x2="367.1" y2="1478.2" stroke="#fff" stroke-width="2.7"/>
<line x1="371.1" y1="1483.9" x2="337.7" y2="1483.9" stroke="#000" stroke-width="5.6"/>
<line x1="348.9" y1="1448.5" x2="363.2" y2="1448.5" stroke="#fff" stroke-width="2.8"/>
<line x1="367.3" y1="1454.2" x2="333.6" y2="1454.2" stroke="#000" stroke-width="5.6"/>
<line x1="344.9" y1="1418.4" x2="359.3" y2="1418.4" stroke="#fff" stroke-width="2.8"/>
<line x1="363.4" y1="1424.2" x2="329.5" y2="1424.2" stroke="#000" stroke-width="5.6"/>
<line x1="340.8" y1="1387.9" x2="355.3" y2="1387.9" stroke="#fff" stroke-width="2.8"/>
<line x1="359.4" y1="1393.7" x2="325.3" y2="1393.7" stroke="#000" stroke-width="5.7"/>
<line x1="336.7" y1="1357.0" x2="351.3" y2="1357.0" stroke="#fff" stroke-width="2.8"/>
<line x1="355.4" y1="1362.8" x2="321.1" y2="1362.8" stroke="#000" stroke-width="5.7"/>
<line x1="332.5" y1="1325.7" x2="347.2" y2="1325.7" stroke="#fff" stroke-width="2.8"/>
<line x1="351.3" y1="1331.6" x2="316.8" y2="1331.6" stroke="#000" stroke-width="5.8"/>
<line x1="328.2" y1="1293.9" x2="343.0" y2="1293.9" stroke="#fff" stroke-width="2.8"/>
<line x1="347.2" y1="1299.8" x2="312.4" y2="1299.8" stroke="#000" stroke-width="5.8"/>
<line x1="323.9" y1="1261.7" x2="338.8" y2="1261.7" stroke="#fff" stroke-width="2.9"/>
<line x1="343.1" y1="1267.7" x2="308.0" y2="1267.7" stroke="#000" stroke-width="5.8"/>
<line x1="319.6" y1="1229.1" x2="334.5" y2="1229.1" stroke="#fff" stroke-width="2.9"/>
<line x1="338.8" y1="1235.1" x2="303.5" y2="1235.1" stroke="#000" stroke-width="5.9"/>
<line x1="315.1" y1="1196.0" x2="330.2" y2="1196.0" stroke="#fff" stroke-width="2.9"/>
<line x1="334.5" y1="1202.0" x2="299.0" y2="1202.0" stroke="#000" stroke-width="5.9"/>
<line x1="310.6" y1="1162.4" x2="325.8" y2="1162.4" stroke="#fff" stroke-width="2.9"/>
<line x1="330.2" y1="1168.5" x2="294.4" y2="1168.5" stroke="#000" stroke-width="6.0"/>
<line x1="306.1" y1="1128.4" x2="321.4" y2="1128.4" stroke="#fff" stroke-width="2.9"/>
<line x1="325.7" y1="1134.5" x2="289.7" y2="1134.5" stroke="#000" stroke-width="6.0"/>
<line x1="301.5" y1="1093.8" x2="316.9" y2="1093.8" stroke="#fff" stroke-width="3.0"/>
<line x1="321.3" y1="1100.0" x2="285.0" y2="1100.0" stroke="#000" stroke-width="6.1"/>
<line x1="296.8" y1="1058.8" x2="312.3" y2="1058.8" stroke="#fff" stroke-width="3.0"/>
<line x1="316.7" y1="1065.0" x2="280.1" y2="1065.0" stroke="#000" stroke-width="6.1"/>
<line x1="292.0" y1="1023.3" x2="307.6" y2="1023.3" stroke="#fff" stroke-width="3.0"/>
<line x1="312.1" y1="1029.5" x2="275.3" y2="1029.5" stroke="#000" stroke-width="6.1"/>
<line x1="287.2" y1="987.2" x2="302.9" y2="987.2" stroke="#fff" stroke-width="3.0"/>
<line x1="307.4" y1="993.5" x2="270.3" y2="993.5" stroke="#000" stroke-width="6.2"/>
<line x1="282.3" y1="950.6" x2="298.1" y2="950.6" stroke="#fff" stroke-width="3.1"/>
<line x1="302.7" y1="957.0" x2="265.3" y2="957.0" stroke="#000" stroke-width="6.2"/>
<line x1="277.3" y1="913.5" x2="293.3" y2="913.5" stroke="#fff" stroke-width="3.1"/>
<line x1="297.9" y1="919.9" x2="260.2" y2="919.9" stroke="#000" stroke-width="6.3"/>
<line x1="272.3" y1="875.8" x2="288.4" y2="875.8" stroke="#fff" stroke-width="3.1"/>
<line x1="293.0" y1="882.2" x2="255.0" y2="882.2" stroke="#000" stroke-width="6.3"/>
<line x1="267.2" y1="837.5" x2="283.4" y2="837.5" stroke="#fff" stroke-width="3.1"/>
<line x1="288.0" y1="844.0" x2="249.8" y2="844.0" stroke="#000" stroke-width="6.4"/>
<line x1="262.0" y1="798.7" x2="278.3" y2="798.7" stroke="#fff" stroke-width="3.2"/>
<line x1="283.0" y1="805.2" x2="244.4" y2="805.2" stroke="#000" stroke-width="6.4"/>
<line x1="256.7" y1="759.2" x2="273.1" y2="759.2" stroke="#fff" stroke-width="3.2"/>
<line x1="277.8" y1="765.8" x2="239.0" y2="765.8" stroke="#000" stroke-width="6.5"/>
<line x1="251.3" y1="719.2" x2="267.9" y2="719.2" stroke="#fff" stroke-width="3.2"/>
<line x1="272.7" y1="725.8" x2="233.5" y2="725.8" stroke="#000" stroke-width="6.5"/>
<line x1="245.9" y1="678.5" x2="262.6" y2="678.5" stroke="#fff" stroke-width="3.2"/>
<line x1="267.4" y1="685.2" x2="228.0" y2="685.2" stroke="#000" stroke-width="6.6"/>
<line x1="378.7" y1="1540.0" x2="267.4" y2="682.8" stroke="#000" stroke-width="5.5"/>
<text x="325.7" y="1568.8" font-size="65.0" text-anchor="end">10<tspan font-size="40.0" dy="-30.5">-7</tspan></text>
<text x="317.4" y="1511.0" font-size="65.9" text-anchor="end">10<tspan font-size="40.5" dy="-31.0">-5</tspan></text>
<text x="309.0" y="1451.6" font-size="66.7" text-anchor="end">10<tspan font-size="41.1" dy="-31.4">-3</tspan></text>
<text x="300.3" y="1390.7" font-size="67.6" text-anchor="end">10<tspan font-size="41.6" dy="-31.8">-1</tspan></text>
<text x="291.3" y="1328.1" font-size="68.6" text-anchor="end">10<tspan font-size="42.2" dy="-32.2">1</tspan></text>
<text x="282.1" y="1263.7" font-size="69.5" text-anchor="end">10<tspan font-size="42.8" dy="-32.7">3</tspan></text>
<text x="272.7" y="1197.5" font-size="70.5" text-anchor="end">10<tspan font-size="43.4" dy="-33.1">5</tspan></text>
<text x="262.9" y="1129.5" font-size="71.5" text-anchor="end">10<tspan font-size="44.0" dy="-33.6">7</tspan></text>
<text x="252.9" y="1059.4" font-size="72.6" text-anchor="end">10<tspan font-size="44.7" dy="-34.1">9</tspan></text>
<text x="242.6" y="987.3" font-size="73.6" text-anchor="end">10<tspan font-size="45.3" dy="-34.6">11</tspan></text>
<text x="232.0" y="913.0" font-size="74.7" text-anchor="end">10<tspan font-size="46.0" dy="-35.1">13</tspan></text>
<text x="221.1" y="836.5" font-size="75.9" text-anchor="end">10<tspan font-size="46.7" dy="-35.7">15</tspan></text>
<text x="209.8" y="757.6" font-size="77.0" text-anchor="end">10<tspan font-size="47.4" dy="-36.2">17</tspan></text>
<polygon points="2213.3,1010.2 2232.7,1010.2 2269.6,851.4 2247.6,871.6" fill="#fff"/>
<text transform="translate(112,1333.5) rotate(-90)" font-size="80">half-life [s]</text>
<text x="1176" y="1523.8" font-size="54">number of neutrons</text>
<text x="1190.4" y="886.9" font-size="28" fill="#00ff00">Th90</text>
<text x="1294.4" y="891.3" font-size="27.5" fill="#ff0000">U92</text>
<text x="2061.7" y="873.3" font-size="27">114</text>
<text x="2121.7" y="841.6" font-size="27">115</text>
<text transform="matrix(0.1045,0.1405,-0.68,0.185,2216.5,666)" font-size="100">elements Hg 80 to Og 118</text>
</svg></body></html>
